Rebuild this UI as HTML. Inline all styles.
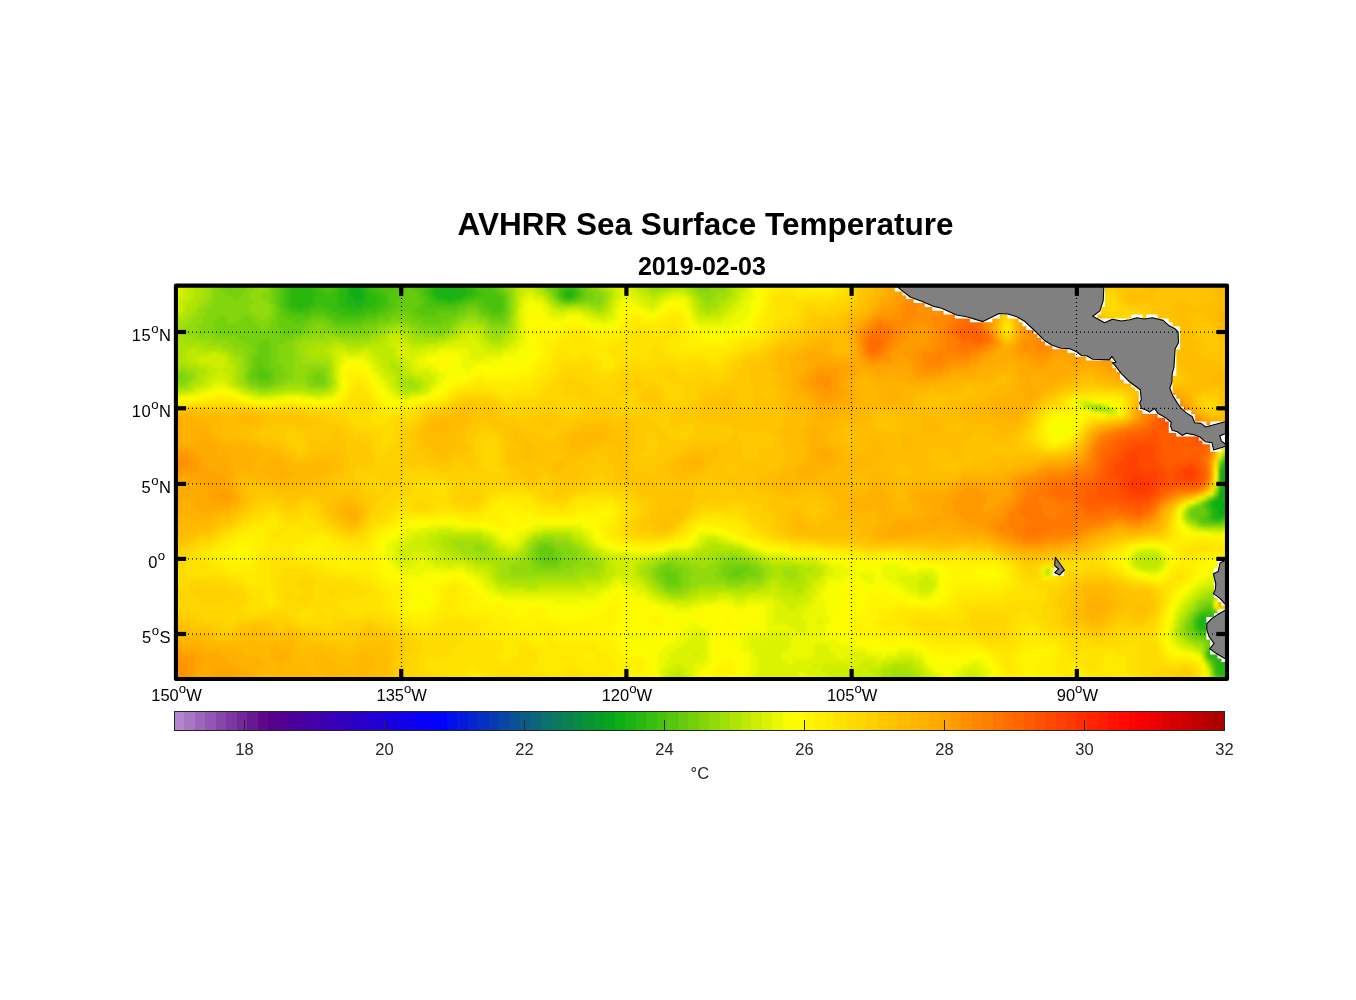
<!DOCTYPE html>
<html lang="en"><head><meta charset="utf-8"><title>AVHRR Sea Surface Temperature 2019-02-03</title>
<style>
html,body{margin:0;padding:0;background:#fff;}
body{width:1356px;height:1000px;overflow:hidden;}
svg{display:block;}
text{font-family:"Liberation Sans",Arial,Helvetica,sans-serif;}
.tt{font-weight:bold;fill:#000;text-anchor:middle;}
.ax{font-size:16.5px;fill:#000;}
.sup{font-size:13.2px;}
.cb{font-size:16.5px;fill:#262626;text-anchor:middle;}
</style></head><body>
<svg width="1356" height="1000" viewBox="0 0 1356 1000">
<defs>
<clipPath id="mapclip"><rect x="176" y="285.6" width="1051" height="393.4"/></clipPath>
<filter id="soft" x="-5%" y="-5%" width="110%" height="110%"><feGaussianBlur stdDeviation="1.5"/></filter>
</defs>
<rect x="0" y="0" width="1356" height="1000" fill="#ffffff"/>
<text class="tt" x="705.6" y="234.8" font-size="31.5">AVHRR Sea Surface Temperature</text>
<text class="tt" x="701.9" y="275" font-size="25">2019-02-03</text>
<g clip-path="url(#mapclip)">
<rect x="176" y="285.6" width="1051" height="393.4" fill="#ffd400"/>
<g filter="url(#soft)">
<path fill="#06a61b" d="M1226 488h4v4h-4zM1226 500h4v4h-4zM1222 504h8v4h-8z"/>
<path fill="#0dad13" d="M350 284h8v4h-8zM442 284h8v4h-8zM350 288h12v4h-12zM350 292h12v4h-12zM354 296h8v4h-8zM1222 464h4v4h-4zM1222 468h8v4h-8zM1222 472h8v4h-8zM1218 476h12v4h-12zM1222 480h8v4h-8zM1222 484h8v4h-8zM1222 488h4v4h-4zM1218 492h12v4h-12zM1218 496h12v4h-12zM1214 500h12v4h-12zM1214 504h8v4h-8zM1218 508h12v4h-12zM1218 512h8v4h-8zM1226 660h4v4h-4zM1226 664h4v4h-4zM1226 668h4v4h-4zM1226 672h4v4h-4z"/>
<path fill="#1cb212" d="M346 284h4v4h-4zM358 284h4v4h-4zM438 284h4v4h-4zM450 284h12v4h-12zM346 288h4v4h-4zM362 288h4v4h-4zM434 288h32v4h-32zM346 292h4v4h-4zM362 292h4v4h-4zM434 292h32v4h-32zM566 292h8v4h-8zM346 296h8v4h-8zM362 296h4v4h-4zM438 296h24v4h-24zM346 300h20v4h-20zM354 304h8v4h-8zM1218 472h4v4h-4zM1218 480h4v4h-4zM1218 484h4v4h-4zM1218 488h4v4h-4zM1210 500h4v4h-4zM1210 504h4v4h-4zM1214 508h4v4h-4zM1214 512h4v4h-4zM1226 512h4v4h-4zM1214 516h8v4h-8zM1202 616h4v4h-4zM1198 620h12v4h-12zM1198 624h8v4h-8zM1226 656h4v4h-4zM1218 664h4v4h-4zM1226 676h4v4h-4z"/>
<path fill="#2bb711" d="M290 284h24v4h-24zM342 284h4v4h-4zM362 284h4v4h-4zM434 284h4v4h-4zM462 284h8v4h-8zM290 288h24v4h-24zM338 288h8v4h-8zM366 288h4v4h-4zM430 288h4v4h-4zM466 288h8v4h-8zM566 288h8v4h-8zM290 292h28v4h-28zM338 292h8v4h-8zM366 292h8v4h-8zM430 292h4v4h-4zM466 292h8v4h-8zM562 292h4v4h-4zM290 296h24v4h-24zM338 296h8v4h-8zM366 296h12v4h-12zM434 296h4v4h-4zM462 296h4v4h-4zM566 296h8v4h-8zM290 300h24v4h-24zM338 300h8v4h-8zM366 300h12v4h-12zM446 300h8v4h-8zM290 304h20v4h-20zM338 304h16v4h-16zM362 304h12v4h-12zM298 308h4v4h-4zM346 308h16v4h-16zM1222 460h4v4h-4zM1226 464h4v4h-4zM1218 468h4v4h-4zM1210 508h4v4h-4zM1210 512h4v4h-4zM1210 516h4v4h-4zM1222 516h4v4h-4zM1198 616h4v4h-4zM1206 616h4v4h-4zM1206 624h4v4h-4zM1198 628h8v4h-8zM1210 648h4v4h-4zM1206 652h12v4h-12zM1226 652h4v4h-4zM1210 656h8v4h-8zM1222 656h4v4h-4zM1214 660h12v4h-12zM1214 664h4v4h-4zM1222 664h4v4h-4zM1214 668h12v4h-12zM1218 672h8v4h-8zM1222 676h4v4h-4zM1226 680h4v4h-4z"/>
<path fill="#39bc10" d="M286 284h4v4h-4zM314 284h4v4h-4zM338 284h4v4h-4zM366 284h4v4h-4zM430 284h4v4h-4zM470 284h4v4h-4zM286 288h4v4h-4zM314 288h8v4h-8zM334 288h4v4h-4zM370 288h8v4h-8zM426 288h4v4h-4zM474 288h4v4h-4zM562 288h4v4h-4zM574 288h4v4h-4zM286 292h4v4h-4zM318 292h8v4h-8zM330 292h8v4h-8zM374 292h8v4h-8zM426 292h4v4h-4zM474 292h8v4h-8zM574 292h4v4h-4zM286 296h4v4h-4zM314 296h24v4h-24zM378 296h8v4h-8zM430 296h4v4h-4zM466 296h8v4h-8zM562 296h4v4h-4zM286 300h4v4h-4zM314 300h24v4h-24zM378 300h8v4h-8zM434 300h12v4h-12zM454 300h8v4h-8zM286 304h4v4h-4zM310 304h8v4h-8zM322 304h16v4h-16zM374 304h8v4h-8zM290 308h8v4h-8zM302 308h8v4h-8zM330 308h16v4h-16zM362 308h16v4h-16zM338 312h28v4h-28zM1214 496h4v4h-4zM1206 504h4v4h-4zM1202 612h12v4h-12zM1210 616h8v4h-8zM1194 620h4v4h-4zM1210 620h4v4h-4zM1194 624h4v4h-4zM1210 624h4v4h-4zM1206 628h4v4h-4zM1226 648h4v4h-4zM1222 652h4v4h-4zM1218 656h4v4h-4zM1214 672h4v4h-4z"/>
<path fill="#48c10f" d="M282 284h4v4h-4zM318 284h8v4h-8zM330 284h8v4h-8zM370 284h12v4h-12zM422 284h8v4h-8zM474 284h12v4h-12zM566 284h8v4h-8zM282 288h4v4h-4zM322 288h12v4h-12zM378 288h16v4h-16zM422 288h4v4h-4zM478 288h16v4h-16zM558 288h4v4h-4zM282 292h4v4h-4zM326 292h4v4h-4zM382 292h8v4h-8zM422 292h4v4h-4zM482 292h16v4h-16zM558 292h4v4h-4zM578 292h4v4h-4zM282 296h4v4h-4zM386 296h4v4h-4zM426 296h4v4h-4zM474 296h28v4h-28zM574 296h4v4h-4zM282 300h4v4h-4zM386 300h4v4h-4zM426 300h8v4h-8zM462 300h8v4h-8zM482 300h20v4h-20zM282 304h4v4h-4zM318 304h4v4h-4zM382 304h8v4h-8zM426 304h32v4h-32zM486 304h16v4h-16zM286 308h4v4h-4zM310 308h20v4h-20zM378 308h8v4h-8zM490 308h12v4h-12zM290 312h20v4h-20zM326 312h12v4h-12zM366 312h12v4h-12zM334 316h32v4h-32zM1226 460h4v4h-4zM1206 500h4v4h-4zM1206 508h4v4h-4zM1206 516h4v4h-4zM1226 516h4v4h-4zM1210 520h12v4h-12zM1206 608h4v4h-4zM1198 612h4v4h-4zM1214 612h4v4h-4zM1194 616h4v4h-4zM1218 616h12v4h-12zM1214 620h16v4h-16zM1214 624h4v4h-4zM1194 628h4v4h-4zM1210 628h4v4h-4zM1198 632h12v4h-12zM1226 644h4v4h-4zM1214 648h4v4h-4zM1222 648h4v4h-4zM1218 652h4v4h-4zM1206 656h4v4h-4zM1210 660h4v4h-4zM1218 676h4v4h-4zM1222 680h4v4h-4z"/>
<path fill="#57c60e" d="M278 284h4v4h-4zM326 284h4v4h-4zM382 284h24v4h-24zM410 284h12v4h-12zM486 284h8v4h-8zM558 284h8v4h-8zM574 284h4v4h-4zM278 288h4v4h-4zM394 288h12v4h-12zM414 288h8v4h-8zM494 288h4v4h-4zM578 288h4v4h-4zM278 292h4v4h-4zM390 292h12v4h-12zM418 292h4v4h-4zM498 292h4v4h-4zM278 296h4v4h-4zM390 296h12v4h-12zM418 296h8v4h-8zM502 296h4v4h-4zM558 296h4v4h-4zM578 296h4v4h-4zM278 300h4v4h-4zM390 300h8v4h-8zM422 300h4v4h-4zM470 300h12v4h-12zM502 300h4v4h-4zM566 300h4v4h-4zM278 304h4v4h-4zM390 304h8v4h-8zM418 304h8v4h-8zM458 304h8v4h-8zM478 304h8v4h-8zM502 304h4v4h-4zM282 308h4v4h-4zM386 308h8v4h-8zM414 308h44v4h-44zM482 308h8v4h-8zM502 308h4v4h-4zM282 312h8v4h-8zM310 312h16v4h-16zM378 312h8v4h-8zM418 312h20v4h-20zM490 312h12v4h-12zM286 316h24v4h-24zM326 316h8v4h-8zM366 316h12v4h-12zM294 320h8v4h-8zM334 320h28v4h-28zM258 364h4v4h-4zM258 368h8v4h-8zM254 372h16v4h-16zM258 376h12v4h-12zM1218 464h4v4h-4zM1202 504h4v4h-4zM1206 512h4v4h-4zM1202 516h4v4h-4zM1202 520h8v4h-8zM1202 608h4v4h-4zM1210 608h4v4h-4zM1222 612h8v4h-8zM1218 624h12v4h-12zM1214 628h16v4h-16zM1210 632h12v4h-12zM1222 640h8v4h-8zM1210 644h8v4h-8zM1222 644h4v4h-4zM1206 648h4v4h-4zM1218 648h4v4h-4z"/>
<path fill="#66cb0c" d="M230 284h4v4h-4zM274 284h4v4h-4zM406 284h4v4h-4zM494 284h4v4h-4zM550 284h8v4h-8zM578 284h4v4h-4zM274 288h4v4h-4zM406 288h8v4h-8zM498 288h4v4h-4zM554 288h4v4h-4zM582 288h4v4h-4zM274 292h4v4h-4zM402 292h16v4h-16zM502 292h4v4h-4zM554 292h4v4h-4zM582 292h4v4h-4zM274 296h4v4h-4zM402 296h16v4h-16zM582 296h4v4h-4zM274 300h4v4h-4zM398 300h24v4h-24zM562 300h4v4h-4zM570 300h8v4h-8zM398 304h20v4h-20zM466 304h12v4h-12zM278 308h4v4h-4zM394 308h20v4h-20zM458 308h8v4h-8zM478 308h4v4h-4zM278 312h4v4h-4zM386 312h12v4h-12zM410 312h8v4h-8zM438 312h20v4h-20zM482 312h8v4h-8zM502 312h4v4h-4zM278 316h8v4h-8zM310 316h16v4h-16zM378 316h12v4h-12zM414 316h36v4h-36zM490 316h16v4h-16zM278 320h16v4h-16zM302 320h8v4h-8zM330 320h4v4h-4zM362 320h16v4h-16zM422 320h20v4h-20zM278 324h28v4h-28zM334 324h28v4h-28zM282 328h20v4h-20zM282 332h8v4h-8zM262 340h8v4h-8zM258 344h12v4h-12zM258 348h12v4h-12zM258 352h12v4h-12zM254 356h16v4h-16zM254 360h16v4h-16zM254 364h4v4h-4zM262 364h8v4h-8zM250 368h8v4h-8zM266 368h8v4h-8zM250 372h4v4h-4zM270 372h4v4h-4zM250 376h8v4h-8zM270 376h4v4h-4zM258 380h16v4h-16zM1222 456h4v4h-4zM1210 496h4v4h-4zM1194 508h12v4h-12zM1190 512h16v4h-16zM1194 516h8v4h-8zM1198 520h4v4h-4zM1222 520h4v4h-4zM542 544h8v4h-8zM538 548h16v4h-16zM538 552h16v4h-16zM538 556h20v4h-20zM542 560h16v4h-16zM666 568h4v4h-4zM734 568h12v4h-12zM662 572h16v4h-16zM730 572h12v4h-12zM666 576h12v4h-12zM666 580h12v4h-12zM1206 604h4v4h-4zM1198 608h4v4h-4zM1194 612h4v4h-4zM1218 612h4v4h-4zM1190 620h4v4h-4zM1190 624h4v4h-4zM1190 628h4v4h-4zM1194 632h4v4h-4zM1222 632h8v4h-8zM1202 636h28v4h-28zM1210 640h12v4h-12zM1218 644h4v4h-4zM1210 664h4v4h-4zM1214 676h4v4h-4zM1218 680h4v4h-4z"/>
<path fill="#74d00b" d="M222 284h8v4h-8zM234 284h12v4h-12zM270 284h4v4h-4zM498 284h4v4h-4zM546 284h4v4h-4zM582 284h4v4h-4zM222 288h24v4h-24zM270 288h4v4h-4zM502 288h4v4h-4zM550 288h4v4h-4zM586 288h4v4h-4zM226 292h16v4h-16zM270 292h4v4h-4zM506 292h4v4h-4zM586 292h8v4h-8zM234 296h4v4h-4zM270 296h4v4h-4zM506 296h4v4h-4zM554 296h4v4h-4zM586 296h8v4h-8zM270 300h4v4h-4zM506 300h4v4h-4zM558 300h4v4h-4zM578 300h4v4h-4zM274 304h4v4h-4zM506 304h4v4h-4zM274 308h4v4h-4zM466 308h12v4h-12zM506 308h4v4h-4zM274 312h4v4h-4zM398 312h12v4h-12zM458 312h8v4h-8zM478 312h4v4h-4zM506 312h4v4h-4zM218 316h8v4h-8zM242 316h8v4h-8zM274 316h4v4h-4zM390 316h12v4h-12zM406 316h8v4h-8zM450 316h8v4h-8zM486 316h4v4h-4zM214 320h12v4h-12zM238 320h16v4h-16zM270 320h8v4h-8zM310 320h20v4h-20zM378 320h12v4h-12zM410 320h12v4h-12zM442 320h12v4h-12zM490 320h16v4h-16zM214 324h44v4h-44zM270 324h8v4h-8zM306 324h8v4h-8zM326 324h8v4h-8zM362 324h16v4h-16zM418 324h32v4h-32zM214 328h48v4h-48zM266 328h16v4h-16zM302 328h8v4h-8zM334 328h32v4h-32zM438 328h4v4h-4zM218 332h64v4h-64zM290 332h12v4h-12zM238 336h56v4h-56zM246 340h16v4h-16zM270 340h16v4h-16zM250 344h8v4h-8zM270 344h8v4h-8zM254 348h4v4h-4zM270 348h8v4h-8zM250 352h8v4h-8zM270 352h8v4h-8zM250 356h4v4h-4zM270 356h8v4h-8zM250 360h4v4h-4zM270 360h8v4h-8zM250 364h4v4h-4zM270 364h12v4h-12zM274 368h8v4h-8zM246 372h4v4h-4zM274 372h12v4h-12zM314 372h8v4h-8zM174 376h8v4h-8zM246 376h4v4h-4zM274 376h8v4h-8zM310 376h16v4h-16zM250 380h8v4h-8zM274 380h4v4h-4zM314 380h12v4h-12zM258 384h12v4h-12zM1226 456h4v4h-4zM1214 492h4v4h-4zM1202 500h4v4h-4zM1198 504h4v4h-4zM1190 508h4v4h-4zM1190 516h4v4h-4zM1226 520h4v4h-4zM538 544h4v4h-4zM550 544h4v4h-4zM534 548h4v4h-4zM554 548h4v4h-4zM534 552h4v4h-4zM554 552h8v4h-8zM534 556h4v4h-4zM558 556h4v4h-4zM534 560h8v4h-8zM558 560h4v4h-4zM538 564h20v4h-20zM662 564h12v4h-12zM726 564h24v4h-24zM658 568h8v4h-8zM670 568h12v4h-12zM722 568h12v4h-12zM746 568h8v4h-8zM658 572h4v4h-4zM678 572h4v4h-4zM722 572h8v4h-8zM742 572h16v4h-16zM658 576h8v4h-8zM678 576h4v4h-4zM726 576h20v4h-20zM662 580h4v4h-4zM678 580h4v4h-4zM666 584h16v4h-16zM1202 604h4v4h-4zM1210 604h4v4h-4zM1226 608h4v4h-4zM1190 616h4v4h-4zM1186 624h4v4h-4zM1186 628h4v4h-4zM1190 632h4v4h-4zM1194 636h8v4h-8zM1206 640h4v4h-4zM1206 644h4v4h-4z"/>
<path fill="#83d50a" d="M214 284h8v4h-8zM246 284h8v4h-8zM266 284h4v4h-4zM502 284h4v4h-4zM542 284h4v4h-4zM586 284h4v4h-4zM694 284h16v4h-16zM214 288h8v4h-8zM246 288h8v4h-8zM266 288h4v4h-4zM506 288h4v4h-4zM546 288h4v4h-4zM590 288h8v4h-8zM698 288h12v4h-12zM214 292h12v4h-12zM242 292h8v4h-8zM262 292h8v4h-8zM550 292h4v4h-4zM594 292h8v4h-8zM214 296h20v4h-20zM238 296h12v4h-12zM262 296h8v4h-8zM594 296h8v4h-8zM214 300h40v4h-40zM266 300h4v4h-4zM582 300h20v4h-20zM210 304h40v4h-40zM270 304h4v4h-4zM206 308h44v4h-44zM270 308h4v4h-4zM206 312h48v4h-48zM270 312h4v4h-4zM466 312h12v4h-12zM202 316h16v4h-16zM226 316h16v4h-16zM250 316h8v4h-8zM266 316h8v4h-8zM402 316h4v4h-4zM458 316h8v4h-8zM478 316h8v4h-8zM506 316h4v4h-4zM202 320h12v4h-12zM226 320h12v4h-12zM254 320h16v4h-16zM390 320h20v4h-20zM454 320h4v4h-4zM486 320h4v4h-4zM506 320h4v4h-4zM198 324h16v4h-16zM258 324h12v4h-12zM314 324h12v4h-12zM378 324h8v4h-8zM410 324h8v4h-8zM450 324h4v4h-4zM490 324h16v4h-16zM198 328h16v4h-16zM262 328h4v4h-4zM310 328h24v4h-24zM366 328h12v4h-12zM418 328h20v4h-20zM442 328h8v4h-8zM198 332h8v4h-8zM210 332h8v4h-8zM302 332h8v4h-8zM334 332h36v4h-36zM434 332h8v4h-8zM214 336h24v4h-24zM294 336h8v4h-8zM230 340h16v4h-16zM286 340h8v4h-8zM234 344h16v4h-16zM278 344h16v4h-16zM242 348h12v4h-12zM278 348h16v4h-16zM246 352h4v4h-4zM278 352h16v4h-16zM246 356h4v4h-4zM278 356h16v4h-16zM246 360h4v4h-4zM278 360h16v4h-16zM246 364h4v4h-4zM282 364h12v4h-12zM246 368h4v4h-4zM282 368h12v4h-12zM310 368h16v4h-16zM174 372h12v4h-12zM286 372h8v4h-8zM306 372h8v4h-8zM322 372h4v4h-4zM182 376h8v4h-8zM282 376h12v4h-12zM306 376h4v4h-4zM174 380h12v4h-12zM246 380h4v4h-4zM278 380h8v4h-8zM306 380h8v4h-8zM250 384h8v4h-8zM270 384h8v4h-8zM310 384h16v4h-16zM1218 460h4v4h-4zM1194 504h4v4h-4zM1186 512h4v4h-4zM1194 520h4v4h-4zM1202 524h20v4h-20zM538 540h16v4h-16zM534 544h4v4h-4zM554 544h16v4h-16zM530 548h4v4h-4zM558 548h16v4h-16zM530 552h4v4h-4zM562 552h16v4h-16zM530 556h4v4h-4zM562 556h16v4h-16zM730 556h8v4h-8zM530 560h4v4h-4zM562 560h16v4h-16zM666 560h12v4h-12zM722 560h28v4h-28zM530 564h8v4h-8zM558 564h16v4h-16zM658 564h4v4h-4zM674 564h12v4h-12zM718 564h8v4h-8zM750 564h8v4h-8zM534 568h28v4h-28zM654 568h4v4h-4zM682 568h8v4h-8zM718 568h4v4h-4zM754 568h8v4h-8zM654 572h4v4h-4zM682 572h12v4h-12zM714 572h8v4h-8zM758 572h4v4h-4zM654 576h4v4h-4zM682 576h8v4h-8zM718 576h8v4h-8zM746 576h16v4h-16zM658 580h4v4h-4zM682 580h8v4h-8zM726 580h20v4h-20zM662 584h4v4h-4zM682 584h8v4h-8zM666 588h16v4h-16zM1202 600h12v4h-12zM1198 604h4v4h-4zM1194 608h4v4h-4zM1190 612h4v4h-4zM1186 620h4v4h-4zM1186 632h4v4h-4zM1190 636h4v4h-4zM1202 640h4v4h-4zM1206 660h4v4h-4zM1210 668h4v4h-4z"/>
<path fill="#92da09" d="M206 284h8v4h-8zM254 284h12v4h-12zM506 284h4v4h-4zM538 284h4v4h-4zM590 284h4v4h-4zM650 284h16v4h-16zM686 284h8v4h-8zM710 284h16v4h-16zM210 288h4v4h-4zM254 288h12v4h-12zM510 288h4v4h-4zM598 288h4v4h-4zM694 288h4v4h-4zM710 288h16v4h-16zM210 292h4v4h-4zM250 292h12v4h-12zM510 292h4v4h-4zM602 292h4v4h-4zM698 292h20v4h-20zM210 296h4v4h-4zM250 296h12v4h-12zM510 296h4v4h-4zM550 296h4v4h-4zM602 296h4v4h-4zM702 296h12v4h-12zM206 300h8v4h-8zM254 300h12v4h-12zM510 300h4v4h-4zM554 300h4v4h-4zM602 300h4v4h-4zM706 300h4v4h-4zM202 304h8v4h-8zM250 304h20v4h-20zM510 304h4v4h-4zM566 304h4v4h-4zM590 304h12v4h-12zM198 308h8v4h-8zM250 308h20v4h-20zM510 308h4v4h-4zM198 312h8v4h-8zM254 312h16v4h-16zM510 312h4v4h-4zM194 316h8v4h-8zM258 316h8v4h-8zM466 316h12v4h-12zM190 320h12v4h-12zM458 320h4v4h-4zM478 320h8v4h-8zM186 324h12v4h-12zM386 324h12v4h-12zM402 324h8v4h-8zM454 324h4v4h-4zM486 324h4v4h-4zM506 324h4v4h-4zM178 328h20v4h-20zM378 328h8v4h-8zM410 328h8v4h-8zM450 328h4v4h-4zM490 328h16v4h-16zM182 332h16v4h-16zM206 332h4v4h-4zM310 332h24v4h-24zM370 332h8v4h-8zM414 332h20v4h-20zM442 332h4v4h-4zM494 332h4v4h-4zM194 336h20v4h-20zM302 336h24v4h-24zM338 336h32v4h-32zM210 340h20v4h-20zM294 340h8v4h-8zM222 344h12v4h-12zM294 344h4v4h-4zM230 348h12v4h-12zM294 348h4v4h-4zM234 352h12v4h-12zM294 352h4v4h-4zM242 356h4v4h-4zM294 356h8v4h-8zM242 360h4v4h-4zM294 360h8v4h-8zM242 364h4v4h-4zM294 364h32v4h-32zM174 368h12v4h-12zM242 368h4v4h-4zM294 368h16v4h-16zM326 368h4v4h-4zM186 372h8v4h-8zM242 372h4v4h-4zM294 372h12v4h-12zM326 372h4v4h-4zM190 376h4v4h-4zM242 376h4v4h-4zM294 376h12v4h-12zM326 376h4v4h-4zM186 380h4v4h-4zM242 380h4v4h-4zM286 380h20v4h-20zM326 380h4v4h-4zM174 384h12v4h-12zM246 384h4v4h-4zM278 384h8v4h-8zM306 384h4v4h-4zM326 384h4v4h-4zM258 388h16v4h-16zM1186 508h4v4h-4zM1186 516h4v4h-4zM1190 520h4v4h-4zM1198 524h4v4h-4zM1222 524h4v4h-4zM542 536h12v4h-12zM534 540h4v4h-4zM554 540h16v4h-16zM474 544h8v4h-8zM530 544h4v4h-4zM570 544h8v4h-8zM474 548h12v4h-12zM574 548h8v4h-8zM526 552h4v4h-4zM578 552h8v4h-8zM730 552h4v4h-4zM526 556h4v4h-4zM578 556h12v4h-12zM718 556h12v4h-12zM738 556h8v4h-8zM518 560h12v4h-12zM578 560h16v4h-16zM658 560h8v4h-8zM678 560h12v4h-12zM714 560h8v4h-8zM750 560h8v4h-8zM510 564h20v4h-20zM574 564h24v4h-24zM654 564h4v4h-4zM686 564h12v4h-12zM706 564h12v4h-12zM758 564h4v4h-4zM510 568h24v4h-24zM562 568h20v4h-20zM650 568h4v4h-4zM690 568h28v4h-28zM762 568h4v4h-4zM510 572h64v4h-64zM650 572h4v4h-4zM694 572h20v4h-20zM762 572h4v4h-4zM650 576h4v4h-4zM690 576h28v4h-28zM762 576h4v4h-4zM654 580h4v4h-4zM690 580h36v4h-36zM746 580h16v4h-16zM658 584h4v4h-4zM690 584h8v4h-8zM726 584h16v4h-16zM662 588h4v4h-4zM682 588h8v4h-8zM670 592h12v4h-12zM1206 596h8v4h-8zM1198 600h4v4h-4zM1194 604h4v4h-4zM1214 608h4v4h-4zM1186 616h4v4h-4zM1182 624h4v4h-4zM1182 628h4v4h-4zM1182 632h4v4h-4zM1186 636h4v4h-4zM1194 640h8v4h-8zM1202 644h4v4h-4zM1202 648h4v4h-4zM1202 652h4v4h-4zM1210 672h4v4h-4zM1214 680h4v4h-4z"/>
<path fill="#a0df08" d="M198 284h8v4h-8zM510 284h4v4h-4zM594 284h4v4h-4zM646 284h4v4h-4zM666 284h20v4h-20zM726 284h4v4h-4zM202 288h8v4h-8zM542 288h4v4h-4zM602 288h4v4h-4zM650 288h12v4h-12zM690 288h4v4h-4zM726 288h4v4h-4zM202 292h8v4h-8zM546 292h4v4h-4zM606 292h4v4h-4zM694 292h4v4h-4zM718 292h12v4h-12zM202 296h8v4h-8zM606 296h4v4h-4zM698 296h4v4h-4zM714 296h12v4h-12zM198 300h8v4h-8zM702 300h4v4h-4zM710 300h8v4h-8zM198 304h4v4h-4zM558 304h8v4h-8zM570 304h20v4h-20zM602 304h4v4h-4zM702 304h16v4h-16zM194 308h4v4h-4zM594 308h8v4h-8zM706 308h4v4h-4zM190 312h8v4h-8zM186 316h8v4h-8zM510 316h4v4h-4zM174 320h16v4h-16zM462 320h16v4h-16zM510 320h4v4h-4zM174 324h12v4h-12zM398 324h4v4h-4zM458 324h4v4h-4zM482 324h4v4h-4zM510 324h4v4h-4zM174 328h4v4h-4zM386 328h8v4h-8zM402 328h8v4h-8zM454 328h4v4h-4zM486 328h4v4h-4zM506 328h4v4h-4zM174 332h8v4h-8zM378 332h8v4h-8zM410 332h4v4h-4zM446 332h8v4h-8zM486 332h8v4h-8zM498 332h8v4h-8zM174 336h20v4h-20zM326 336h12v4h-12zM370 336h8v4h-8zM414 336h32v4h-32zM490 336h12v4h-12zM182 340h28v4h-28zM302 340h28v4h-28zM342 340h28v4h-28zM202 344h20v4h-20zM298 344h16v4h-16zM174 348h4v4h-4zM222 348h8v4h-8zM298 348h8v4h-8zM174 352h4v4h-4zM230 352h4v4h-4zM298 352h8v4h-8zM174 356h4v4h-4zM234 356h8v4h-8zM302 356h12v4h-12zM318 356h4v4h-4zM238 360h4v4h-4zM302 360h28v4h-28zM174 364h12v4h-12zM238 364h4v4h-4zM326 364h4v4h-4zM186 368h12v4h-12zM238 368h4v4h-4zM194 372h4v4h-4zM238 372h4v4h-4zM194 376h4v4h-4zM238 376h4v4h-4zM330 376h4v4h-4zM190 380h4v4h-4zM238 380h4v4h-4zM330 380h4v4h-4zM402 380h12v4h-12zM186 384h4v4h-4zM242 384h4v4h-4zM286 384h20v4h-20zM402 384h16v4h-16zM250 388h8v4h-8zM274 388h8v4h-8zM306 388h20v4h-20zM1086 404h16v4h-16zM1094 408h16v4h-16zM1222 452h8v4h-8zM1214 488h4v4h-4zM1206 496h4v4h-4zM1190 504h4v4h-4zM1226 524h4v4h-4zM534 536h8v4h-8zM554 536h16v4h-16zM450 540h32v4h-32zM530 540h4v4h-4zM570 540h4v4h-4zM454 544h20v4h-20zM482 544h8v4h-8zM526 544h4v4h-4zM578 544h4v4h-4zM458 548h16v4h-16zM486 548h4v4h-4zM526 548h4v4h-4zM582 548h4v4h-4zM462 552h32v4h-32zM522 552h4v4h-4zM586 552h4v4h-4zM710 552h20v4h-20zM734 552h8v4h-8zM474 556h24v4h-24zM514 556h12v4h-12zM590 556h8v4h-8zM666 556h16v4h-16zM694 556h24v4h-24zM746 556h8v4h-8zM498 560h20v4h-20zM594 560h8v4h-8zM654 560h4v4h-4zM690 560h24v4h-24zM758 560h4v4h-4zM498 564h12v4h-12zM598 564h4v4h-4zM646 564h8v4h-8zM698 564h8v4h-8zM762 564h8v4h-8zM498 568h12v4h-12zM582 568h20v4h-20zM642 568h8v4h-8zM766 568h8v4h-8zM782 568h16v4h-16zM498 572h12v4h-12zM574 572h24v4h-24zM642 572h8v4h-8zM766 572h8v4h-8zM782 572h16v4h-16zM502 576h76v4h-76zM646 576h4v4h-4zM766 576h4v4h-4zM786 576h12v4h-12zM530 580h4v4h-4zM650 580h4v4h-4zM762 580h4v4h-4zM654 584h4v4h-4zM698 584h28v4h-28zM742 584h20v4h-20zM658 588h4v4h-4zM690 588h8v4h-8zM666 592h4v4h-4zM682 592h8v4h-8zM1206 592h12v4h-12zM1202 596h4v4h-4zM1226 596h4v4h-4zM1194 600h4v4h-4zM1226 604h4v4h-4zM1190 608h4v4h-4zM1186 612h4v4h-4zM1182 616h4v4h-4zM1182 620h4v4h-4zM1178 628h4v4h-4zM1190 640h4v4h-4zM1198 644h4v4h-4zM894 668h4v4h-4zM890 672h20v4h-20zM890 676h24v4h-24zM890 680h24v4h-24z"/>
<path fill="#afe406" d="M190 284h8v4h-8zM514 284h4v4h-4zM534 284h4v4h-4zM598 284h4v4h-4zM642 284h4v4h-4zM730 284h4v4h-4zM194 288h8v4h-8zM514 288h4v4h-4zM538 288h4v4h-4zM606 288h4v4h-4zM646 288h4v4h-4zM662 288h8v4h-8zM686 288h4v4h-4zM730 288h4v4h-4zM194 292h8v4h-8zM514 292h4v4h-4zM542 292h4v4h-4zM610 292h4v4h-4zM650 292h8v4h-8zM690 292h4v4h-4zM730 292h4v4h-4zM194 296h8v4h-8zM514 296h4v4h-4zM546 296h4v4h-4zM694 296h4v4h-4zM726 296h4v4h-4zM190 300h8v4h-8zM514 300h4v4h-4zM550 300h4v4h-4zM606 300h4v4h-4zM698 300h4v4h-4zM718 300h8v4h-8zM186 304h12v4h-12zM514 304h4v4h-4zM554 304h4v4h-4zM606 304h4v4h-4zM698 304h4v4h-4zM718 304h4v4h-4zM186 308h8v4h-8zM514 308h4v4h-4zM590 308h4v4h-4zM602 308h4v4h-4zM698 308h8v4h-8zM710 308h8v4h-8zM182 312h8v4h-8zM706 312h4v4h-4zM174 316h12v4h-12zM462 324h20v4h-20zM394 328h8v4h-8zM458 328h4v4h-4zM482 328h4v4h-4zM510 328h4v4h-4zM386 332h4v4h-4zM402 332h8v4h-8zM454 332h4v4h-4zM482 332h4v4h-4zM506 332h4v4h-4zM378 336h8v4h-8zM406 336h8v4h-8zM446 336h4v4h-4zM486 336h4v4h-4zM502 336h4v4h-4zM174 340h8v4h-8zM330 340h12v4h-12zM370 340h12v4h-12zM410 340h28v4h-28zM490 340h12v4h-12zM174 344h28v4h-28zM314 344h16v4h-16zM346 344h20v4h-20zM178 348h12v4h-12zM198 348h24v4h-24zM306 348h20v4h-20zM178 352h8v4h-8zM226 352h4v4h-4zM306 352h24v4h-24zM178 356h8v4h-8zM230 356h4v4h-4zM314 356h4v4h-4zM322 356h8v4h-8zM174 360h16v4h-16zM230 360h8v4h-8zM330 360h4v4h-4zM390 360h4v4h-4zM186 364h12v4h-12zM234 364h4v4h-4zM330 364h4v4h-4zM390 364h8v4h-8zM198 368h8v4h-8zM234 368h4v4h-4zM330 368h4v4h-4zM394 368h8v4h-8zM198 372h8v4h-8zM234 372h4v4h-4zM330 372h4v4h-4zM398 372h4v4h-4zM198 376h4v4h-4zM234 376h4v4h-4zM398 376h16v4h-16zM194 380h8v4h-8zM234 380h4v4h-4zM398 380h4v4h-4zM414 380h8v4h-8zM190 384h4v4h-4zM238 384h4v4h-4zM330 384h4v4h-4zM398 384h4v4h-4zM418 384h4v4h-4zM174 388h16v4h-16zM246 388h4v4h-4zM282 388h24v4h-24zM326 388h4v4h-4zM402 388h16v4h-16zM258 392h12v4h-12zM1198 500h4v4h-4zM1186 520h4v4h-4zM1194 524h4v4h-4zM542 532h28v4h-28zM442 536h40v4h-40zM530 536h4v4h-4zM570 536h4v4h-4zM438 540h12v4h-12zM482 540h8v4h-8zM526 540h4v4h-4zM574 540h8v4h-8zM442 544h12v4h-12zM490 544h4v4h-4zM582 544h4v4h-4zM710 544h12v4h-12zM446 548h12v4h-12zM490 548h8v4h-8zM522 548h4v4h-4zM586 548h4v4h-4zM702 548h40v4h-40zM450 552h12v4h-12zM494 552h8v4h-8zM514 552h8v4h-8zM590 552h8v4h-8zM674 552h4v4h-4zM694 552h16v4h-16zM742 552h8v4h-8zM462 556h12v4h-12zM498 556h16v4h-16zM598 556h4v4h-4zM658 556h8v4h-8zM682 556h12v4h-12zM754 556h8v4h-8zM474 560h24v4h-24zM602 560h4v4h-4zM642 560h12v4h-12zM762 560h8v4h-8zM490 564h8v4h-8zM602 564h4v4h-4zM638 564h8v4h-8zM770 564h32v4h-32zM494 568h4v4h-4zM602 568h4v4h-4zM638 568h4v4h-4zM774 568h8v4h-8zM798 568h16v4h-16zM1046 568h4v4h-4zM494 572h4v4h-4zM598 572h8v4h-8zM638 572h4v4h-4zM774 572h8v4h-8zM798 572h8v4h-8zM1046 572h4v4h-4zM494 576h8v4h-8zM578 576h24v4h-24zM642 576h4v4h-4zM770 576h16v4h-16zM798 576h8v4h-8zM498 580h32v4h-32zM534 580h48v4h-48zM646 580h4v4h-4zM766 580h4v4h-4zM778 580h28v4h-28zM510 584h28v4h-28zM650 584h4v4h-4zM762 584h4v4h-4zM782 584h20v4h-20zM654 588h4v4h-4zM698 588h60v4h-60zM794 588h8v4h-8zM1210 588h8v4h-8zM662 592h4v4h-4zM690 592h8v4h-8zM1202 592h4v4h-4zM1218 592h12v4h-12zM670 596h16v4h-16zM1198 596h4v4h-4zM1214 596h4v4h-4zM1226 600h4v4h-4zM1190 604h4v4h-4zM1186 608h4v4h-4zM1178 620h4v4h-4zM1178 624h4v4h-4zM1178 632h4v4h-4zM1182 636h4v4h-4zM1186 640h4v4h-4zM1194 644h4v4h-4zM1202 656h4v4h-4zM890 664h20v4h-20zM882 668h12v4h-12zM898 668h16v4h-16zM882 672h8v4h-8zM910 672h8v4h-8zM882 676h8v4h-8zM914 676h8v4h-8zM1210 676h4v4h-4zM886 680h4v4h-4zM914 680h8v4h-8z"/>
<path fill="#bee905" d="M186 284h4v4h-4zM518 284h4v4h-4zM526 284h8v4h-8zM602 284h4v4h-4zM634 284h8v4h-8zM734 284h8v4h-8zM186 288h8v4h-8zM518 288h4v4h-4zM534 288h4v4h-4zM610 288h4v4h-4zM638 288h8v4h-8zM670 288h16v4h-16zM734 288h8v4h-8zM186 292h8v4h-8zM518 292h4v4h-4zM538 292h4v4h-4zM642 292h8v4h-8zM658 292h8v4h-8zM686 292h4v4h-4zM734 292h4v4h-4zM186 296h8v4h-8zM610 296h4v4h-4zM650 296h8v4h-8zM730 296h8v4h-8zM182 300h8v4h-8zM546 300h4v4h-4zM610 300h4v4h-4zM694 300h4v4h-4zM726 300h8v4h-8zM182 304h4v4h-4zM550 304h4v4h-4zM694 304h4v4h-4zM722 304h8v4h-8zM182 308h4v4h-4zM558 308h8v4h-8zM582 308h8v4h-8zM606 308h4v4h-4zM718 308h8v4h-8zM174 312h8v4h-8zM514 312h4v4h-4zM594 312h12v4h-12zM698 312h8v4h-8zM710 312h12v4h-12zM514 316h4v4h-4zM514 320h4v4h-4zM514 324h4v4h-4zM462 328h20v4h-20zM514 328h4v4h-4zM390 332h12v4h-12zM458 332h8v4h-8zM478 332h4v4h-4zM510 332h4v4h-4zM386 336h4v4h-4zM402 336h4v4h-4zM450 336h8v4h-8zM482 336h4v4h-4zM506 336h8v4h-8zM382 340h8v4h-8zM406 340h4v4h-4zM438 340h8v4h-8zM486 340h4v4h-4zM502 340h8v4h-8zM330 344h16v4h-16zM366 344h24v4h-24zM410 344h16v4h-16zM490 344h16v4h-16zM190 348h8v4h-8zM326 348h8v4h-8zM346 348h16v4h-16zM370 348h24v4h-24zM186 352h24v4h-24zM218 352h8v4h-8zM330 352h4v4h-4zM374 352h20v4h-20zM186 356h12v4h-12zM226 356h4v4h-4zM330 356h4v4h-4zM378 356h20v4h-20zM190 360h8v4h-8zM226 360h4v4h-4zM382 360h8v4h-8zM394 360h8v4h-8zM198 364h12v4h-12zM226 364h8v4h-8zM382 364h8v4h-8zM398 364h8v4h-8zM206 368h12v4h-12zM222 368h12v4h-12zM386 368h8v4h-8zM402 368h8v4h-8zM206 372h8v4h-8zM226 372h8v4h-8zM390 372h8v4h-8zM402 372h12v4h-12zM202 376h8v4h-8zM230 376h4v4h-4zM394 376h4v4h-4zM414 376h8v4h-8zM202 380h4v4h-4zM230 380h4v4h-4zM334 380h4v4h-4zM394 380h4v4h-4zM422 380h4v4h-4zM194 384h8v4h-8zM234 384h4v4h-4zM394 384h4v4h-4zM422 384h4v4h-4zM190 388h4v4h-4zM242 388h4v4h-4zM330 388h4v4h-4zM398 388h4v4h-4zM418 388h4v4h-4zM254 392h4v4h-4zM270 392h12v4h-12zM306 392h20v4h-20zM402 392h8v4h-8zM1082 404h4v4h-4zM1110 408h4v4h-4zM1182 512h4v4h-4zM1182 516h4v4h-4zM1190 524h4v4h-4zM1206 528h16v4h-16zM438 532h44v4h-44zM534 532h8v4h-8zM570 532h4v4h-4zM430 536h12v4h-12zM482 536h8v4h-8zM574 536h8v4h-8zM426 540h12v4h-12zM490 540h4v4h-4zM582 540h4v4h-4zM706 540h12v4h-12zM430 544h12v4h-12zM494 544h4v4h-4zM522 544h4v4h-4zM586 544h4v4h-4zM702 544h8v4h-8zM722 544h12v4h-12zM434 548h12v4h-12zM498 548h8v4h-8zM518 548h4v4h-4zM590 548h4v4h-4zM694 548h8v4h-8zM742 548h4v4h-4zM438 552h12v4h-12zM502 552h12v4h-12zM598 552h4v4h-4zM666 552h8v4h-8zM678 552h16v4h-16zM750 552h8v4h-8zM1138 552h20v4h-20zM442 556h20v4h-20zM602 556h8v4h-8zM650 556h8v4h-8zM762 556h4v4h-4zM1134 556h24v4h-24zM466 560h8v4h-8zM606 560h4v4h-4zM638 560h4v4h-4zM770 560h24v4h-24zM1134 560h28v4h-28zM474 564h16v4h-16zM606 564h8v4h-8zM634 564h4v4h-4zM802 564h16v4h-16zM1138 564h20v4h-20zM486 568h8v4h-8zM606 568h8v4h-8zM634 568h4v4h-4zM814 568h8v4h-8zM490 572h4v4h-4zM606 572h8v4h-8zM634 572h4v4h-4zM806 572h16v4h-16zM490 576h4v4h-4zM602 576h8v4h-8zM638 576h4v4h-4zM806 576h12v4h-12zM494 580h4v4h-4zM582 580h20v4h-20zM642 580h4v4h-4zM770 580h8v4h-8zM806 580h4v4h-4zM498 584h12v4h-12zM538 584h48v4h-48zM646 584h4v4h-4zM766 584h16v4h-16zM802 584h8v4h-8zM526 588h12v4h-12zM650 588h4v4h-4zM758 588h12v4h-12zM778 588h16v4h-16zM802 588h4v4h-4zM1202 588h8v4h-8zM1218 588h8v4h-8zM654 592h8v4h-8zM698 592h20v4h-20zM730 592h20v4h-20zM778 592h28v4h-28zM1198 592h4v4h-4zM662 596h8v4h-8zM686 596h12v4h-12zM794 596h4v4h-4zM1194 596h4v4h-4zM1190 600h4v4h-4zM1186 604h4v4h-4zM1182 608h4v4h-4zM1182 612h4v4h-4zM1178 616h4v4h-4zM1174 628h4v4h-4zM1174 632h4v4h-4zM1178 636h4v4h-4zM1182 640h4v4h-4zM1190 644h4v4h-4zM1198 648h4v4h-4zM894 660h20v4h-20zM882 664h8v4h-8zM910 664h8v4h-8zM1206 664h4v4h-4zM870 668h12v4h-12zM914 668h8v4h-8zM674 672h8v4h-8zM874 672h8v4h-8zM918 672h4v4h-4zM670 676h16v4h-16zM846 676h12v4h-12zM878 676h4v4h-4zM922 676h4v4h-4zM666 680h20v4h-20zM846 680h12v4h-12zM882 680h4v4h-4zM922 680h4v4h-4z"/>
<path fill="#cdee04" d="M182 284h4v4h-4zM522 284h4v4h-4zM606 284h8v4h-8zM630 284h4v4h-4zM742 284h4v4h-4zM182 288h4v4h-4zM522 288h12v4h-12zM614 288h4v4h-4zM634 288h4v4h-4zM742 288h4v4h-4zM182 292h4v4h-4zM522 292h4v4h-4zM534 292h4v4h-4zM614 292h4v4h-4zM638 292h4v4h-4zM666 292h8v4h-8zM682 292h4v4h-4zM738 292h4v4h-4zM174 296h12v4h-12zM518 296h4v4h-4zM542 296h4v4h-4zM614 296h4v4h-4zM642 296h8v4h-8zM658 296h4v4h-4zM690 296h4v4h-4zM738 296h4v4h-4zM174 300h8v4h-8zM518 300h4v4h-4zM646 300h12v4h-12zM690 300h4v4h-4zM734 300h4v4h-4zM174 304h8v4h-8zM518 304h4v4h-4zM610 304h4v4h-4zM650 304h4v4h-4zM730 304h4v4h-4zM174 308h8v4h-8zM554 308h4v4h-4zM566 308h16v4h-16zM610 308h4v4h-4zM694 308h4v4h-4zM726 308h4v4h-4zM586 312h8v4h-8zM606 312h4v4h-4zM694 312h4v4h-4zM722 312h4v4h-4zM598 316h8v4h-8zM698 316h24v4h-24zM466 332h12v4h-12zM514 332h4v4h-4zM390 336h12v4h-12zM458 336h8v4h-8zM474 336h8v4h-8zM514 336h4v4h-4zM390 340h16v4h-16zM446 340h8v4h-8zM478 340h8v4h-8zM510 340h4v4h-4zM390 344h8v4h-8zM402 344h8v4h-8zM426 344h16v4h-16zM482 344h8v4h-8zM506 344h4v4h-4zM334 348h12v4h-12zM362 348h8v4h-8zM394 348h4v4h-4zM406 348h16v4h-16zM486 348h16v4h-16zM210 352h8v4h-8zM334 352h8v4h-8zM350 352h8v4h-8zM370 352h4v4h-4zM394 352h4v4h-4zM410 352h4v4h-4zM198 356h28v4h-28zM334 356h4v4h-4zM374 356h4v4h-4zM398 356h8v4h-8zM198 360h28v4h-28zM334 360h4v4h-4zM374 360h8v4h-8zM402 360h8v4h-8zM210 364h16v4h-16zM334 364h4v4h-4zM378 364h4v4h-4zM406 364h4v4h-4zM218 368h4v4h-4zM334 368h4v4h-4zM382 368h4v4h-4zM410 368h4v4h-4zM214 372h12v4h-12zM334 372h4v4h-4zM382 372h8v4h-8zM414 372h16v4h-16zM210 376h20v4h-20zM334 376h4v4h-4zM386 376h8v4h-8zM422 376h12v4h-12zM206 380h8v4h-8zM226 380h4v4h-4zM390 380h4v4h-4zM426 380h8v4h-8zM202 384h8v4h-8zM230 384h4v4h-4zM334 384h4v4h-4zM390 384h4v4h-4zM426 384h4v4h-4zM194 388h4v4h-4zM238 388h4v4h-4zM334 388h4v4h-4zM394 388h4v4h-4zM422 388h8v4h-8zM174 392h12v4h-12zM246 392h8v4h-8zM282 392h24v4h-24zM326 392h8v4h-8zM398 392h4v4h-4zM410 392h12v4h-12zM1082 400h4v4h-4zM1102 404h4v4h-4zM1090 408h4v4h-4zM1110 412h4v4h-4zM1218 456h4v4h-4zM1214 484h4v4h-4zM1186 504h4v4h-4zM1182 508h4v4h-4zM438 528h16v4h-16zM542 528h32v4h-32zM1198 528h8v4h-8zM1222 528h8v4h-8zM426 532h12v4h-12zM482 532h4v4h-4zM530 532h4v4h-4zM574 532h8v4h-8zM414 536h16v4h-16zM490 536h4v4h-4zM526 536h4v4h-4zM582 536h4v4h-4zM706 536h12v4h-12zM410 540h16v4h-16zM494 540h4v4h-4zM522 540h4v4h-4zM586 540h4v4h-4zM702 540h4v4h-4zM718 540h8v4h-8zM406 544h24v4h-24zM498 544h8v4h-8zM518 544h4v4h-4zM590 544h4v4h-4zM698 544h4v4h-4zM734 544h8v4h-8zM398 548h36v4h-36zM506 548h12v4h-12zM594 548h8v4h-8zM690 548h4v4h-4zM746 548h4v4h-4zM398 552h16v4h-16zM426 552h12v4h-12zM602 552h8v4h-8zM662 552h4v4h-4zM758 552h4v4h-4zM1134 552h4v4h-4zM1158 552h4v4h-4zM402 556h8v4h-8zM430 556h12v4h-12zM610 556h16v4h-16zM634 556h16v4h-16zM766 556h20v4h-20zM1158 556h4v4h-4zM434 560h32v4h-32zM610 560h28v4h-28zM794 560h24v4h-24zM446 564h4v4h-4zM466 564h8v4h-8zM614 564h20v4h-20zM818 564h8v4h-8zM1134 564h4v4h-4zM1158 564h4v4h-4zM474 568h12v4h-12zM614 568h20v4h-20zM822 568h4v4h-4zM1142 568h16v4h-16zM482 572h8v4h-8zM614 572h20v4h-20zM822 572h4v4h-4zM486 576h4v4h-4zM610 576h4v4h-4zM630 576h8v4h-8zM818 576h4v4h-4zM922 576h8v4h-8zM490 580h4v4h-4zM602 580h8v4h-8zM634 580h8v4h-8zM810 580h8v4h-8zM918 580h16v4h-16zM494 584h4v4h-4zM586 584h20v4h-20zM642 584h4v4h-4zM810 584h4v4h-4zM918 584h16v4h-16zM1206 584h16v4h-16zM498 588h28v4h-28zM538 588h48v4h-48zM646 588h4v4h-4zM770 588h8v4h-8zM806 588h8v4h-8zM918 588h12v4h-12zM1198 588h4v4h-4zM1226 588h4v4h-4zM650 592h4v4h-4zM718 592h12v4h-12zM750 592h28v4h-28zM806 592h4v4h-4zM1194 592h4v4h-4zM658 596h4v4h-4zM698 596h20v4h-20zM734 596h12v4h-12zM774 596h20v4h-20zM798 596h12v4h-12zM1190 596h4v4h-4zM666 600h28v4h-28zM782 600h24v4h-24zM1186 600h4v4h-4zM786 604h12v4h-12zM1182 604h4v4h-4zM790 608h4v4h-4zM1178 612h4v4h-4zM1174 620h4v4h-4zM1174 624h4v4h-4zM1174 636h4v4h-4zM1178 640h4v4h-4zM1182 644h8v4h-8zM1194 648h4v4h-4zM694 652h4v4h-4zM898 656h16v4h-16zM862 660h12v4h-12zM882 660h12v4h-12zM914 660h8v4h-8zM674 664h8v4h-8zM814 664h4v4h-4zM822 664h28v4h-28zM858 664h24v4h-24zM918 664h4v4h-4zM670 668h16v4h-16zM822 668h48v4h-48zM922 668h4v4h-4zM666 672h8v4h-8zM682 672h4v4h-4zM826 672h48v4h-48zM922 672h8v4h-8zM966 672h12v4h-12zM666 676h4v4h-4zM686 676h4v4h-4zM830 676h16v4h-16zM858 676h20v4h-20zM926 676h8v4h-8zM966 676h12v4h-12zM662 680h4v4h-4zM686 680h4v4h-4zM762 680h12v4h-12zM782 680h12v4h-12zM834 680h12v4h-12zM858 680h12v4h-12zM874 680h8v4h-8zM926 680h8v4h-8zM970 680h8v4h-8zM1210 680h4v4h-4z"/>
<path fill="#dbf303" d="M174 284h8v4h-8zM614 284h16v4h-16zM746 284h4v4h-4zM174 288h8v4h-8zM618 288h16v4h-16zM746 288h4v4h-4zM174 292h8v4h-8zM526 292h8v4h-8zM618 292h4v4h-4zM630 292h8v4h-8zM674 292h8v4h-8zM742 292h8v4h-8zM522 296h4v4h-4zM534 296h8v4h-8zM618 296h4v4h-4zM634 296h8v4h-8zM662 296h8v4h-8zM686 296h4v4h-4zM742 296h4v4h-4zM542 300h4v4h-4zM614 300h4v4h-4zM638 300h8v4h-8zM658 300h4v4h-4zM738 300h4v4h-4zM546 304h4v4h-4zM614 304h4v4h-4zM642 304h8v4h-8zM654 304h4v4h-4zM690 304h4v4h-4zM734 304h8v4h-8zM518 308h4v4h-4zM550 308h4v4h-4zM650 308h4v4h-4zM690 308h4v4h-4zM730 308h8v4h-8zM518 312h4v4h-4zM550 312h16v4h-16zM582 312h4v4h-4zM610 312h4v4h-4zM726 312h8v4h-8zM518 316h4v4h-4zM590 316h8v4h-8zM606 316h8v4h-8zM694 316h4v4h-4zM722 316h8v4h-8zM518 320h4v4h-4zM602 320h4v4h-4zM698 320h24v4h-24zM518 324h4v4h-4zM518 328h4v4h-4zM518 332h4v4h-4zM466 336h8v4h-8zM518 336h4v4h-4zM454 340h24v4h-24zM514 340h4v4h-4zM398 344h4v4h-4zM442 344h40v4h-40zM510 344h8v4h-8zM398 348h8v4h-8zM422 348h16v4h-16zM470 348h16v4h-16zM502 348h8v4h-8zM342 352h8v4h-8zM358 352h12v4h-12zM398 352h12v4h-12zM414 352h12v4h-12zM470 352h32v4h-32zM338 356h4v4h-4zM366 356h8v4h-8zM406 356h12v4h-12zM470 356h12v4h-12zM338 360h4v4h-4zM370 360h4v4h-4zM410 360h4v4h-4zM374 364h4v4h-4zM410 364h8v4h-8zM374 368h8v4h-8zM414 368h16v4h-16zM378 372h4v4h-4zM430 372h8v4h-8zM382 376h4v4h-4zM434 376h4v4h-4zM214 380h12v4h-12zM386 380h4v4h-4zM434 380h4v4h-4zM210 384h4v4h-4zM226 384h4v4h-4zM386 384h4v4h-4zM430 384h4v4h-4zM198 388h8v4h-8zM234 388h4v4h-4zM390 388h4v4h-4zM186 392h8v4h-8zM242 392h4v4h-4zM394 392h4v4h-4zM422 392h4v4h-4zM254 396h20v4h-20zM314 396h8v4h-8zM402 396h8v4h-8zM1078 400h4v4h-4zM1086 400h4v4h-4zM1106 404h4v4h-4zM1114 408h4v4h-4zM1106 412h4v4h-4zM1114 412h4v4h-4zM1226 448h4v4h-4zM1210 492h4v4h-4zM1202 496h4v4h-4zM1194 500h4v4h-4zM1182 520h4v4h-4zM1186 524h4v4h-4zM422 528h16v4h-16zM454 528h28v4h-28zM534 528h8v4h-8zM574 528h8v4h-8zM1194 528h4v4h-4zM410 532h16v4h-16zM486 532h8v4h-8zM526 532h4v4h-4zM582 532h4v4h-4zM406 536h8v4h-8zM494 536h4v4h-4zM522 536h4v4h-4zM586 536h4v4h-4zM698 536h8v4h-8zM718 536h4v4h-4zM398 540h12v4h-12zM498 540h4v4h-4zM518 540h4v4h-4zM590 540h4v4h-4zM698 540h4v4h-4zM726 540h8v4h-8zM394 544h12v4h-12zM506 544h12v4h-12zM594 544h4v4h-4zM694 544h4v4h-4zM742 544h4v4h-4zM394 548h4v4h-4zM602 548h4v4h-4zM670 548h20v4h-20zM750 548h8v4h-8zM1138 548h20v4h-20zM394 552h4v4h-4zM414 552h12v4h-12zM610 552h20v4h-20zM650 552h12v4h-12zM762 552h4v4h-4zM394 556h8v4h-8zM410 556h20v4h-20zM626 556h8v4h-8zM786 556h28v4h-28zM1130 556h4v4h-4zM1162 556h4v4h-4zM394 560h24v4h-24zM426 560h8v4h-8zM818 560h4v4h-4zM1130 560h4v4h-4zM1162 560h4v4h-4zM398 564h16v4h-16zM434 564h12v4h-12zM450 564h16v4h-16zM826 564h4v4h-4zM1130 564h4v4h-4zM1162 564h4v4h-4zM466 568h8v4h-8zM826 568h8v4h-8zM1138 568h4v4h-4zM1158 568h4v4h-4zM474 572h8v4h-8zM826 572h8v4h-8zM918 572h16v4h-16zM1042 572h4v4h-4zM482 576h4v4h-4zM614 576h16v4h-16zM822 576h4v4h-4zM898 576h24v4h-24zM930 576h8v4h-8zM486 580h4v4h-4zM610 580h4v4h-4zM622 580h12v4h-12zM818 580h8v4h-8zM902 580h16v4h-16zM934 580h4v4h-4zM1206 580h16v4h-16zM486 584h8v4h-8zM606 584h4v4h-4zM630 584h12v4h-12zM814 584h8v4h-8zM906 584h12v4h-12zM934 584h4v4h-4zM1198 584h8v4h-8zM1222 584h8v4h-8zM494 588h4v4h-4zM586 588h16v4h-16zM638 588h8v4h-8zM814 588h4v4h-4zM910 588h8v4h-8zM930 588h4v4h-4zM1194 588h4v4h-4zM502 592h92v4h-92zM646 592h4v4h-4zM810 592h8v4h-8zM918 592h12v4h-12zM1190 592h4v4h-4zM650 596h8v4h-8zM718 596h16v4h-16zM746 596h28v4h-28zM810 596h4v4h-4zM1186 596h4v4h-4zM1222 596h4v4h-4zM658 600h8v4h-8zM694 600h20v4h-20zM734 600h12v4h-12zM774 600h8v4h-8zM806 600h8v4h-8zM1182 600h4v4h-4zM674 604h16v4h-16zM774 604h12v4h-12zM798 604h12v4h-12zM1178 604h4v4h-4zM774 608h16v4h-16zM794 608h12v4h-12zM1178 608h4v4h-4zM1222 608h4v4h-4zM774 612h28v4h-28zM1174 612h4v4h-4zM774 616h28v4h-28zM1174 616h4v4h-4zM774 620h32v4h-32zM818 620h4v4h-4zM790 624h16v4h-16zM794 628h12v4h-12zM1170 628h4v4h-4zM694 632h12v4h-12zM770 632h20v4h-20zM1170 632h4v4h-4zM690 636h16v4h-16zM750 636h40v4h-40zM1170 636h4v4h-4zM686 640h20v4h-20zM750 640h40v4h-40zM1174 640h4v4h-4zM682 644h24v4h-24zM750 644h40v4h-40zM814 644h16v4h-16zM1178 644h4v4h-4zM674 648h32v4h-32zM754 648h32v4h-32zM814 648h16v4h-16zM1186 648h8v4h-8zM670 652h24v4h-24zM698 652h8v4h-8zM754 652h28v4h-28zM814 652h20v4h-20zM850 652h16v4h-16zM898 652h16v4h-16zM1198 652h4v4h-4zM670 656h36v4h-36zM758 656h24v4h-24zM810 656h28v4h-28zM846 656h32v4h-32zM886 656h12v4h-12zM914 656h8v4h-8zM666 660h36v4h-36zM758 660h28v4h-28zM794 660h68v4h-68zM874 660h8v4h-8zM1202 660h4v4h-4zM666 664h8v4h-8zM682 664h12v4h-12zM758 664h56v4h-56zM818 664h4v4h-4zM850 664h8v4h-8zM922 664h4v4h-4zM970 664h8v4h-8zM662 668h8v4h-8zM686 668h8v4h-8zM758 668h64v4h-64zM926 668h4v4h-4zM962 668h20v4h-20zM1206 668h4v4h-4zM662 672h4v4h-4zM686 672h8v4h-8zM758 672h40v4h-40zM806 672h20v4h-20zM930 672h4v4h-4zM958 672h8v4h-8zM978 672h8v4h-8zM662 676h4v4h-4zM690 676h4v4h-4zM754 676h44v4h-44zM818 676h12v4h-12zM934 676h4v4h-4zM958 676h8v4h-8zM978 676h8v4h-8zM658 680h4v4h-4zM690 680h4v4h-4zM750 680h12v4h-12zM774 680h8v4h-8zM794 680h8v4h-8zM822 680h12v4h-12zM870 680h4v4h-4zM934 680h4v4h-4zM962 680h8v4h-8zM978 680h8v4h-8z"/>
<path fill="#eaf802" d="M750 284h4v4h-4zM750 288h4v4h-4zM622 292h8v4h-8zM750 292h4v4h-4zM526 296h8v4h-8zM622 296h12v4h-12zM670 296h16v4h-16zM746 296h8v4h-8zM522 300h8v4h-8zM534 300h8v4h-8zM618 300h4v4h-4zM630 300h8v4h-8zM662 300h4v4h-4zM686 300h4v4h-4zM742 300h8v4h-8zM522 304h4v4h-4zM542 304h4v4h-4zM618 304h4v4h-4zM638 304h4v4h-4zM658 304h4v4h-4zM686 304h4v4h-4zM742 304h8v4h-8zM522 308h4v4h-4zM542 308h8v4h-8zM614 308h4v4h-4zM646 308h4v4h-4zM654 308h4v4h-4zM738 308h12v4h-12zM522 312h4v4h-4zM546 312h4v4h-4zM566 312h16v4h-16zM614 312h4v4h-4zM690 312h4v4h-4zM734 312h16v4h-16zM522 316h4v4h-4zM550 316h16v4h-16zM582 316h8v4h-8zM614 316h4v4h-4zM690 316h4v4h-4zM730 316h16v4h-16zM522 320h4v4h-4zM590 320h12v4h-12zM606 320h8v4h-8zM694 320h4v4h-4zM722 320h20v4h-20zM522 324h4v4h-4zM698 324h32v4h-32zM522 328h4v4h-4zM706 328h4v4h-4zM522 332h4v4h-4zM522 336h4v4h-4zM518 340h8v4h-8zM518 344h4v4h-4zM438 348h32v4h-32zM510 348h8v4h-8zM426 352h12v4h-12zM458 352h12v4h-12zM502 352h12v4h-12zM342 356h24v4h-24zM418 356h8v4h-8zM462 356h8v4h-8zM482 356h20v4h-20zM342 360h4v4h-4zM366 360h4v4h-4zM414 360h12v4h-12zM462 360h28v4h-28zM338 364h4v4h-4zM370 364h4v4h-4zM418 364h16v4h-16zM462 364h12v4h-12zM338 368h4v4h-4zM370 368h4v4h-4zM430 368h8v4h-8zM466 368h4v4h-4zM338 372h4v4h-4zM374 372h4v4h-4zM438 372h8v4h-8zM338 376h4v4h-4zM378 376h4v4h-4zM438 376h8v4h-8zM338 380h4v4h-4zM378 380h8v4h-8zM438 380h4v4h-4zM214 384h12v4h-12zM338 384h4v4h-4zM382 384h4v4h-4zM434 384h4v4h-4zM206 388h8v4h-8zM230 388h4v4h-4zM338 388h4v4h-4zM386 388h4v4h-4zM430 388h4v4h-4zM194 392h8v4h-8zM238 392h4v4h-4zM334 392h4v4h-4zM390 392h4v4h-4zM426 392h4v4h-4zM250 396h4v4h-4zM274 396h12v4h-12zM302 396h12v4h-12zM322 396h12v4h-12zM394 396h8v4h-8zM410 396h8v4h-8zM1074 400h4v4h-4zM1090 400h4v4h-4zM1078 404h4v4h-4zM1086 408h4v4h-4zM1102 412h4v4h-4zM1222 448h4v4h-4zM1214 480h4v4h-4zM430 524h28v4h-28zM534 524h48v4h-48zM406 528h16v4h-16zM482 528h8v4h-8zM526 528h8v4h-8zM582 528h8v4h-8zM1190 528h4v4h-4zM402 532h8v4h-8zM494 532h4v4h-4zM518 532h8v4h-8zM586 532h8v4h-8zM698 532h20v4h-20zM1210 532h12v4h-12zM398 536h8v4h-8zM498 536h4v4h-4zM514 536h8v4h-8zM590 536h4v4h-4zM722 536h8v4h-8zM390 540h8v4h-8zM502 540h16v4h-16zM594 540h4v4h-4zM694 540h4v4h-4zM734 540h8v4h-8zM386 544h8v4h-8zM598 544h4v4h-4zM690 544h4v4h-4zM746 544h4v4h-4zM386 548h8v4h-8zM606 548h8v4h-8zM666 548h4v4h-4zM758 548h4v4h-4zM1134 548h4v4h-4zM1158 548h4v4h-4zM386 552h8v4h-8zM630 552h20v4h-20zM766 552h20v4h-20zM1130 552h4v4h-4zM1162 552h4v4h-4zM390 556h4v4h-4zM814 556h8v4h-8zM1166 556h4v4h-4zM390 560h4v4h-4zM418 560h8v4h-8zM822 560h8v4h-8zM1126 560h4v4h-4zM1166 560h4v4h-4zM394 564h4v4h-4zM414 564h20v4h-20zM830 564h12v4h-12zM882 564h16v4h-16zM398 568h68v4h-68zM834 568h16v4h-16zM882 568h28v4h-28zM918 568h16v4h-16zM1042 568h4v4h-4zM1134 568h4v4h-4zM402 572h20v4h-20zM466 572h8v4h-8zM834 572h16v4h-16zM858 572h16v4h-16zM882 572h36v4h-36zM934 572h4v4h-4zM1146 572h12v4h-12zM474 576h8v4h-8zM826 576h16v4h-16zM862 576h12v4h-12zM886 576h12v4h-12zM1206 576h16v4h-16zM478 580h8v4h-8zM614 580h8v4h-8zM826 580h4v4h-4zM866 580h8v4h-8zM890 580h12v4h-12zM1198 580h8v4h-8zM1222 580h8v4h-8zM482 584h4v4h-4zM610 584h8v4h-8zM622 584h8v4h-8zM822 584h4v4h-4zM898 584h8v4h-8zM1194 584h4v4h-4zM486 588h8v4h-8zM602 588h8v4h-8zM630 588h8v4h-8zM818 588h8v4h-8zM902 588h8v4h-8zM934 588h4v4h-4zM1190 588h4v4h-4zM490 592h12v4h-12zM594 592h8v4h-8zM634 592h12v4h-12zM818 592h4v4h-4zM906 592h12v4h-12zM930 592h4v4h-4zM1186 592h4v4h-4zM502 596h96v4h-96zM646 596h4v4h-4zM814 596h8v4h-8zM918 596h12v4h-12zM1182 596h4v4h-4zM554 600h24v4h-24zM650 600h8v4h-8zM714 600h20v4h-20zM746 600h28v4h-28zM814 600h12v4h-12zM1178 600h4v4h-4zM662 604h12v4h-12zM690 604h12v4h-12zM734 604h12v4h-12zM766 604h8v4h-8zM810 604h16v4h-16zM674 608h16v4h-16zM766 608h8v4h-8zM806 608h20v4h-20zM1174 608h4v4h-4zM766 612h8v4h-8zM802 612h24v4h-24zM766 616h8v4h-8zM802 616h28v4h-28zM766 620h8v4h-8zM806 620h12v4h-12zM822 620h8v4h-8zM1170 620h4v4h-4zM690 624h8v4h-8zM766 624h24v4h-24zM806 624h20v4h-20zM1170 624h4v4h-4zM686 628h20v4h-20zM766 628h28v4h-28zM806 628h20v4h-20zM682 632h12v4h-12zM706 632h4v4h-4zM746 632h24v4h-24zM790 632h36v4h-36zM678 636h12v4h-12zM706 636h4v4h-4zM742 636h8v4h-8zM790 636h36v4h-36zM674 640h12v4h-12zM706 640h4v4h-4zM742 640h8v4h-8zM790 640h48v4h-48zM1170 640h4v4h-4zM666 644h16v4h-16zM706 644h4v4h-4zM742 644h8v4h-8zM790 644h24v4h-24zM830 644h24v4h-24zM1174 644h4v4h-4zM662 648h12v4h-12zM706 648h4v4h-4zM742 648h12v4h-12zM786 648h28v4h-28zM830 648h36v4h-36zM898 648h16v4h-16zM1178 648h8v4h-8zM658 652h12v4h-12zM706 652h4v4h-4zM750 652h4v4h-4zM782 652h32v4h-32zM834 652h16v4h-16zM866 652h16v4h-16zM886 652h12v4h-12zM914 652h8v4h-8zM1194 652h4v4h-4zM658 656h12v4h-12zM706 656h4v4h-4zM750 656h8v4h-8zM782 656h28v4h-28zM838 656h8v4h-8zM878 656h8v4h-8zM922 656h4v4h-4zM658 660h8v4h-8zM702 660h8v4h-8zM750 660h8v4h-8zM786 660h8v4h-8zM922 660h4v4h-4zM970 660h12v4h-12zM658 664h8v4h-8zM694 664h12v4h-12zM750 664h8v4h-8zM926 664h4v4h-4zM962 664h8v4h-8zM978 664h8v4h-8zM658 668h4v4h-4zM694 668h8v4h-8zM750 668h8v4h-8zM930 668h4v4h-4zM954 668h8v4h-8zM982 668h8v4h-8zM658 672h4v4h-4zM694 672h4v4h-4zM750 672h8v4h-8zM798 672h8v4h-8zM934 672h8v4h-8zM954 672h4v4h-4zM986 672h4v4h-4zM1206 672h4v4h-4zM658 676h4v4h-4zM694 676h4v4h-4zM746 676h8v4h-8zM798 676h20v4h-20zM938 676h4v4h-4zM954 676h4v4h-4zM986 676h4v4h-4zM654 680h4v4h-4zM694 680h4v4h-4zM742 680h8v4h-8zM802 680h4v4h-4zM814 680h8v4h-8zM938 680h4v4h-4zM958 680h4v4h-4zM986 680h4v4h-4z"/>
<path fill="#f9fd01" d="M754 284h4v4h-4zM754 288h4v4h-4zM754 292h4v4h-4zM754 296h4v4h-4zM530 300h4v4h-4zM622 300h8v4h-8zM666 300h20v4h-20zM750 300h8v4h-8zM526 304h16v4h-16zM622 304h16v4h-16zM662 304h4v4h-4zM682 304h4v4h-4zM750 304h4v4h-4zM526 308h16v4h-16zM618 308h4v4h-4zM642 308h4v4h-4zM658 308h4v4h-4zM686 308h4v4h-4zM750 308h4v4h-4zM526 312h20v4h-20zM618 312h4v4h-4zM646 312h12v4h-12zM686 312h4v4h-4zM750 312h4v4h-4zM526 316h4v4h-4zM538 316h12v4h-12zM566 316h16v4h-16zM618 316h4v4h-4zM746 316h4v4h-4zM526 320h4v4h-4zM546 320h16v4h-16zM582 320h8v4h-8zM614 320h4v4h-4zM690 320h4v4h-4zM742 320h8v4h-8zM526 324h4v4h-4zM594 324h20v4h-20zM694 324h4v4h-4zM730 324h20v4h-20zM526 328h4v4h-4zM698 328h8v4h-8zM710 328h36v4h-36zM526 332h4v4h-4zM702 332h20v4h-20zM526 336h4v4h-4zM526 340h4v4h-4zM522 344h8v4h-8zM518 348h16v4h-16zM438 352h20v4h-20zM514 352h20v4h-20zM426 356h16v4h-16zM446 356h16v4h-16zM502 356h24v4h-24zM346 360h20v4h-20zM426 360h12v4h-12zM454 360h8v4h-8zM490 360h32v4h-32zM342 364h4v4h-4zM362 364h8v4h-8zM434 364h8v4h-8zM450 364h12v4h-12zM474 364h24v4h-24zM514 364h4v4h-4zM342 368h4v4h-4zM366 368h4v4h-4zM438 368h28v4h-28zM470 368h8v4h-8zM370 372h4v4h-4zM446 372h28v4h-28zM374 376h4v4h-4zM446 376h16v4h-16zM374 380h4v4h-4zM442 380h12v4h-12zM378 384h4v4h-4zM438 384h8v4h-8zM214 388h16v4h-16zM378 388h8v4h-8zM434 388h8v4h-8zM202 392h8v4h-8zM234 392h4v4h-4zM338 392h4v4h-4zM382 392h8v4h-8zM430 392h4v4h-4zM174 396h16v4h-16zM242 396h8v4h-8zM286 396h16v4h-16zM334 396h4v4h-4zM386 396h8v4h-8zM418 396h8v4h-8zM398 400h8v4h-8zM1094 400h4v4h-4zM1110 404h4v4h-4zM1098 412h4v4h-4zM1118 412h4v4h-4zM1058 420h16v4h-16zM1050 424h24v4h-24zM1050 428h20v4h-20zM1054 432h12v4h-12zM1054 436h4v4h-4zM1214 476h4v4h-4zM1190 500h4v4h-4zM1178 512h4v4h-4zM1178 516h4v4h-4zM442 520h8v4h-8zM534 520h16v4h-16zM578 520h4v4h-4zM406 524h24v4h-24zM458 524h28v4h-28zM530 524h4v4h-4zM582 524h8v4h-8zM1182 524h4v4h-4zM402 528h4v4h-4zM490 528h8v4h-8zM514 528h12v4h-12zM590 528h4v4h-4zM702 528h8v4h-8zM1186 528h4v4h-4zM394 532h8v4h-8zM498 532h4v4h-4zM510 532h8v4h-8zM594 532h4v4h-4zM718 532h8v4h-8zM1202 532h8v4h-8zM1222 532h8v4h-8zM386 536h12v4h-12zM502 536h12v4h-12zM594 536h4v4h-4zM694 536h4v4h-4zM730 536h4v4h-4zM382 540h8v4h-8zM598 540h4v4h-4zM690 540h4v4h-4zM742 540h4v4h-4zM382 544h4v4h-4zM602 544h8v4h-8zM670 544h20v4h-20zM750 544h8v4h-8zM1146 544h12v4h-12zM382 548h4v4h-4zM614 548h24v4h-24zM654 548h12v4h-12zM762 548h8v4h-8zM1130 548h4v4h-4zM1162 548h4v4h-4zM382 552h4v4h-4zM786 552h8v4h-8zM802 552h12v4h-12zM1126 552h4v4h-4zM1166 552h4v4h-4zM382 556h8v4h-8zM822 556h4v4h-4zM1126 556h4v4h-4zM386 560h4v4h-4zM830 560h20v4h-20zM882 560h20v4h-20zM386 564h8v4h-8zM842 564h40v4h-40zM898 564h12v4h-12zM922 564h4v4h-4zM1126 564h4v4h-4zM1166 564h4v4h-4zM390 568h8v4h-8zM850 568h32v4h-32zM910 568h8v4h-8zM934 568h8v4h-8zM1130 568h4v4h-4zM1162 568h4v4h-4zM1210 568h8v4h-8zM394 572h8v4h-8zM422 572h32v4h-32zM458 572h8v4h-8zM850 572h8v4h-8zM874 572h8v4h-8zM938 572h4v4h-4zM1050 572h4v4h-4zM1138 572h8v4h-8zM1158 572h4v4h-4zM1202 572h20v4h-20zM402 576h28v4h-28zM466 576h8v4h-8zM842 576h20v4h-20zM874 576h12v4h-12zM938 576h4v4h-4zM1198 576h8v4h-8zM1222 576h8v4h-8zM418 580h8v4h-8zM474 580h4v4h-4zM830 580h16v4h-16zM854 580h12v4h-12zM874 580h16v4h-16zM938 580h4v4h-4zM1194 580h4v4h-4zM478 584h4v4h-4zM618 584h4v4h-4zM826 584h16v4h-16zM858 584h40v4h-40zM938 584h4v4h-4zM1190 584h4v4h-4zM482 588h4v4h-4zM610 588h20v4h-20zM826 588h16v4h-16zM862 588h12v4h-12zM894 588h8v4h-8zM938 588h4v4h-4zM1186 588h4v4h-4zM418 592h8v4h-8zM486 592h4v4h-4zM602 592h8v4h-8zM626 592h8v4h-8zM822 592h24v4h-24zM898 592h8v4h-8zM934 592h8v4h-8zM1182 592h4v4h-4zM418 596h8v4h-8zM490 596h12v4h-12zM598 596h8v4h-8zM626 596h20v4h-20zM822 596h20v4h-20zM910 596h8v4h-8zM930 596h8v4h-8zM1178 596h4v4h-4zM1218 596h4v4h-4zM418 600h8v4h-8zM506 600h48v4h-48zM578 600h24v4h-24zM642 600h8v4h-8zM826 600h16v4h-16zM1174 600h4v4h-4zM1214 600h4v4h-4zM550 604h48v4h-48zM646 604h16v4h-16zM702 604h32v4h-32zM746 604h20v4h-20zM826 604h12v4h-12zM1174 604h4v4h-4zM1214 604h4v4h-4zM550 608h44v4h-44zM662 608h12v4h-12zM690 608h12v4h-12zM734 608h12v4h-12zM758 608h8v4h-8zM826 608h12v4h-12zM554 612h4v4h-4zM670 612h24v4h-24zM758 612h8v4h-8zM826 612h12v4h-12zM1170 612h4v4h-4zM670 616h24v4h-24zM754 616h12v4h-12zM830 616h4v4h-4zM1170 616h4v4h-4zM674 620h28v4h-28zM742 620h24v4h-24zM830 620h4v4h-4zM674 624h16v4h-16zM698 624h12v4h-12zM742 624h24v4h-24zM826 624h8v4h-8zM622 628h8v4h-8zM638 628h12v4h-12zM674 628h12v4h-12zM706 628h8v4h-8zM738 628h28v4h-28zM826 628h8v4h-8zM1166 628h4v4h-4zM626 632h28v4h-28zM674 632h8v4h-8zM710 632h8v4h-8zM726 632h20v4h-20zM826 632h20v4h-20zM1166 632h4v4h-4zM630 636h24v4h-24zM670 636h8v4h-8zM710 636h8v4h-8zM726 636h16v4h-16zM826 636h24v4h-24zM1166 636h4v4h-4zM630 640h24v4h-24zM662 640h12v4h-12zM710 640h4v4h-4zM730 640h12v4h-12zM838 640h16v4h-16zM1166 640h4v4h-4zM634 644h20v4h-20zM658 644h8v4h-8zM710 644h4v4h-4zM734 644h8v4h-8zM854 644h16v4h-16zM898 644h12v4h-12zM1170 644h4v4h-4zM650 648h12v4h-12zM710 648h4v4h-4zM734 648h8v4h-8zM866 648h32v4h-32zM914 648h8v4h-8zM1174 648h4v4h-4zM650 652h8v4h-8zM710 652h4v4h-4zM738 652h12v4h-12zM882 652h4v4h-4zM922 652h4v4h-4zM1186 652h8v4h-8zM650 656h8v4h-8zM710 656h4v4h-4zM742 656h8v4h-8zM926 656h4v4h-4zM966 656h20v4h-20zM1198 656h4v4h-4zM654 660h4v4h-4zM710 660h4v4h-4zM746 660h4v4h-4zM926 660h8v4h-8zM962 660h8v4h-8zM982 660h8v4h-8zM654 664h4v4h-4zM706 664h4v4h-4zM746 664h4v4h-4zM930 664h32v4h-32zM986 664h4v4h-4zM654 668h4v4h-4zM702 668h8v4h-8zM746 668h4v4h-4zM934 668h20v4h-20zM990 668h4v4h-4zM654 672h4v4h-4zM698 672h8v4h-8zM742 672h8v4h-8zM942 672h12v4h-12zM990 672h4v4h-4zM654 676h4v4h-4zM698 676h8v4h-8zM738 676h8v4h-8zM942 676h12v4h-12zM990 676h4v4h-4zM1206 676h4v4h-4zM650 680h4v4h-4zM698 680h12v4h-12zM738 680h4v4h-4zM806 680h8v4h-8zM942 680h16v4h-16zM990 680h4v4h-4zM1206 680h4v4h-4z"/>
<path fill="#fffb00" d="M758 284h8v4h-8zM758 288h4v4h-4zM758 292h4v4h-4zM758 296h4v4h-4zM758 300h4v4h-4zM666 304h16v4h-16zM754 304h8v4h-8zM622 308h20v4h-20zM662 308h4v4h-4zM682 308h4v4h-4zM754 308h4v4h-4zM622 312h4v4h-4zM642 312h4v4h-4zM658 312h4v4h-4zM754 312h4v4h-4zM530 316h8v4h-8zM646 316h8v4h-8zM686 316h4v4h-4zM750 316h4v4h-4zM530 320h16v4h-16zM562 320h20v4h-20zM618 320h4v4h-4zM686 320h4v4h-4zM750 320h4v4h-4zM530 324h32v4h-32zM586 324h8v4h-8zM614 324h4v4h-4zM690 324h4v4h-4zM750 324h4v4h-4zM530 328h4v4h-4zM542 328h12v4h-12zM602 328h4v4h-4zM690 328h8v4h-8zM746 328h4v4h-4zM530 332h4v4h-4zM698 332h4v4h-4zM722 332h20v4h-20zM530 336h8v4h-8zM702 336h24v4h-24zM530 340h8v4h-8zM530 344h8v4h-8zM534 348h4v4h-4zM534 352h4v4h-4zM442 356h4v4h-4zM526 356h12v4h-12zM438 360h16v4h-16zM522 360h12v4h-12zM346 364h16v4h-16zM442 364h8v4h-8zM498 364h16v4h-16zM518 364h12v4h-12zM346 368h4v4h-4zM362 368h4v4h-4zM478 368h48v4h-48zM342 372h4v4h-4zM366 372h4v4h-4zM474 372h4v4h-4zM486 372h20v4h-20zM510 372h4v4h-4zM342 376h4v4h-4zM370 376h4v4h-4zM462 376h8v4h-8zM494 376h4v4h-4zM342 380h4v4h-4zM370 380h4v4h-4zM454 380h8v4h-8zM342 384h4v4h-4zM374 384h4v4h-4zM446 384h8v4h-8zM342 388h4v4h-4zM374 388h4v4h-4zM442 388h4v4h-4zM210 392h8v4h-8zM226 392h8v4h-8zM378 392h4v4h-4zM434 392h8v4h-8zM190 396h12v4h-12zM238 396h4v4h-4zM382 396h4v4h-4zM426 396h4v4h-4zM254 400h20v4h-20zM306 400h28v4h-28zM386 400h12v4h-12zM406 400h8v4h-8zM1070 400h4v4h-4zM1098 400h16v4h-16zM1074 404h4v4h-4zM1114 404h4v4h-4zM1078 408h8v4h-8zM1118 408h4v4h-4zM1074 412h8v4h-8zM1054 416h28v4h-28zM1050 420h8v4h-8zM1074 420h4v4h-4zM1046 424h4v4h-4zM1074 424h4v4h-4zM1046 428h4v4h-4zM1070 428h4v4h-4zM1050 432h4v4h-4zM1066 432h4v4h-4zM1050 436h4v4h-4zM1058 436h8v4h-8zM1054 440h4v4h-4zM1182 504h4v4h-4zM1178 508h4v4h-4zM602 512h4v4h-4zM510 516h4v4h-4zM578 516h8v4h-8zM410 520h32v4h-32zM450 520h8v4h-8zM510 520h8v4h-8zM526 520h8v4h-8zM550 520h28v4h-28zM582 520h16v4h-16zM1178 520h4v4h-4zM398 524h8v4h-8zM486 524h8v4h-8zM510 524h20v4h-20zM590 524h8v4h-8zM1178 524h4v4h-4zM394 528h8v4h-8zM498 528h16v4h-16zM594 528h4v4h-4zM698 528h4v4h-4zM710 528h12v4h-12zM1182 528h4v4h-4zM386 532h8v4h-8zM502 532h8v4h-8zM598 532h4v4h-4zM694 532h4v4h-4zM726 532h8v4h-8zM1186 532h16v4h-16zM382 536h4v4h-4zM598 536h4v4h-4zM690 536h4v4h-4zM734 536h8v4h-8zM378 540h4v4h-4zM602 540h4v4h-4zM682 540h8v4h-8zM746 540h4v4h-4zM378 544h4v4h-4zM610 544h8v4h-8zM666 544h4v4h-4zM758 544h4v4h-4zM1138 544h8v4h-8zM1158 544h4v4h-4zM234 548h8v4h-8zM378 548h4v4h-4zM638 548h16v4h-16zM770 548h12v4h-12zM1166 548h4v4h-4zM234 552h12v4h-12zM378 552h4v4h-4zM794 552h8v4h-8zM814 552h8v4h-8zM1170 552h4v4h-4zM234 556h12v4h-12zM378 556h4v4h-4zM826 556h28v4h-28zM882 556h16v4h-16zM1122 556h4v4h-4zM1170 556h4v4h-4zM378 560h8v4h-8zM850 560h32v4h-32zM902 560h8v4h-8zM1122 560h4v4h-4zM1170 560h4v4h-4zM1206 560h12v4h-12zM382 564h4v4h-4zM910 564h12v4h-12zM926 564h16v4h-16zM1122 564h4v4h-4zM1202 564h20v4h-20zM382 568h8v4h-8zM942 568h8v4h-8zM974 568h24v4h-24zM1050 568h4v4h-4zM1126 568h4v4h-4zM1166 568h4v4h-4zM1198 568h12v4h-12zM1218 568h4v4h-4zM386 572h8v4h-8zM454 572h4v4h-4zM942 572h8v4h-8zM974 572h28v4h-28zM1134 572h4v4h-4zM1162 572h4v4h-4zM1198 572h4v4h-4zM1222 572h8v4h-8zM390 576h12v4h-12zM430 576h20v4h-20zM458 576h8v4h-8zM942 576h8v4h-8zM982 576h16v4h-16zM1150 576h12v4h-12zM1194 576h4v4h-4zM398 580h20v4h-20zM426 580h16v4h-16zM466 580h8v4h-8zM846 580h8v4h-8zM942 580h4v4h-4zM406 584h28v4h-28zM470 584h8v4h-8zM842 584h16v4h-16zM942 584h4v4h-4zM1186 584h4v4h-4zM410 588h24v4h-24zM474 588h8v4h-8zM842 588h20v4h-20zM874 588h20v4h-20zM942 588h4v4h-4zM1182 588h4v4h-4zM410 592h8v4h-8zM426 592h8v4h-8zM478 592h8v4h-8zM610 592h16v4h-16zM846 592h28v4h-28zM890 592h8v4h-8zM942 592h4v4h-4zM1178 592h4v4h-4zM410 596h8v4h-8zM426 596h8v4h-8zM482 596h8v4h-8zM606 596h8v4h-8zM618 596h8v4h-8zM842 596h28v4h-28zM894 596h16v4h-16zM938 596h4v4h-4zM1174 596h4v4h-4zM406 600h12v4h-12zM426 600h8v4h-8zM486 600h20v4h-20zM602 600h8v4h-8zM618 600h24v4h-24zM842 600h24v4h-24zM910 600h28v4h-28zM406 604h24v4h-24zM506 604h44v4h-44zM598 604h8v4h-8zM618 604h28v4h-28zM838 604h28v4h-28zM1170 604h4v4h-4zM406 608h20v4h-20zM514 608h16v4h-16zM546 608h4v4h-4zM594 608h8v4h-8zM618 608h44v4h-44zM702 608h32v4h-32zM746 608h12v4h-12zM838 608h28v4h-28zM1170 608h4v4h-4zM1218 608h4v4h-4zM514 612h8v4h-8zM546 612h8v4h-8zM558 612h40v4h-40zM618 612h52v4h-52zM694 612h64v4h-64zM838 612h16v4h-16zM546 616h44v4h-44zM618 616h32v4h-32zM662 616h8v4h-8zM694 616h32v4h-32zM730 616h24v4h-24zM834 616h16v4h-16zM618 620h32v4h-32zM662 620h12v4h-12zM702 620h40v4h-40zM834 620h16v4h-16zM1166 620h4v4h-4zM614 624h40v4h-40zM662 624h12v4h-12zM710 624h32v4h-32zM834 624h16v4h-16zM1166 624h4v4h-4zM614 628h8v4h-8zM630 628h8v4h-8zM650 628h24v4h-24zM714 628h24v4h-24zM834 628h16v4h-16zM614 632h12v4h-12zM654 632h20v4h-20zM718 632h8v4h-8zM846 632h8v4h-8zM618 636h12v4h-12zM654 636h16v4h-16zM718 636h8v4h-8zM850 636h8v4h-8zM618 640h12v4h-12zM654 640h8v4h-8zM714 640h16v4h-16zM854 640h28v4h-28zM898 640h12v4h-12zM622 644h12v4h-12zM654 644h4v4h-4zM714 644h20v4h-20zM870 644h28v4h-28zM910 644h12v4h-12zM1166 644h4v4h-4zM626 648h24v4h-24zM714 648h20v4h-20zM922 648h4v4h-4zM1170 648h4v4h-4zM630 652h20v4h-20zM714 652h24v4h-24zM926 652h4v4h-4zM966 652h20v4h-20zM1174 652h12v4h-12zM646 656h4v4h-4zM714 656h28v4h-28zM930 656h36v4h-36zM986 656h4v4h-4zM1194 656h4v4h-4zM650 660h4v4h-4zM714 660h8v4h-8zM730 660h16v4h-16zM934 660h28v4h-28zM990 660h4v4h-4zM650 664h4v4h-4zM710 664h8v4h-8zM734 664h12v4h-12zM990 664h8v4h-8zM1202 664h4v4h-4zM650 668h4v4h-4zM710 668h4v4h-4zM738 668h8v4h-8zM994 668h4v4h-4zM650 672h4v4h-4zM706 672h8v4h-8zM734 672h8v4h-8zM994 672h4v4h-4zM646 676h8v4h-8zM706 676h12v4h-12zM726 676h12v4h-12zM994 676h4v4h-4zM642 680h8v4h-8zM710 680h28v4h-28zM994 680h4v4h-4zM1202 680h4v4h-4z"/>
<path fill="#fff500" d="M766 284h4v4h-4zM814 284h16v4h-16zM762 288h8v4h-8zM762 292h4v4h-4zM762 296h4v4h-4zM762 300h4v4h-4zM762 304h4v4h-4zM666 308h16v4h-16zM758 308h4v4h-4zM626 312h16v4h-16zM662 312h4v4h-4zM682 312h4v4h-4zM758 312h4v4h-4zM622 316h8v4h-8zM642 316h4v4h-4zM654 316h4v4h-4zM682 316h4v4h-4zM754 316h4v4h-4zM622 320h4v4h-4zM754 320h4v4h-4zM562 324h24v4h-24zM618 324h4v4h-4zM686 324h4v4h-4zM534 328h8v4h-8zM554 328h12v4h-12zM586 328h16v4h-16zM606 328h12v4h-12zM686 328h4v4h-4zM750 328h4v4h-4zM534 332h24v4h-24zM690 332h8v4h-8zM742 332h8v4h-8zM538 336h16v4h-16zM694 336h8v4h-8zM726 336h12v4h-12zM538 340h8v4h-8zM702 340h24v4h-24zM538 344h8v4h-8zM538 348h8v4h-8zM538 352h8v4h-8zM538 356h4v4h-4zM534 360h4v4h-4zM530 364h4v4h-4zM350 368h12v4h-12zM526 368h8v4h-8zM346 372h20v4h-20zM478 372h8v4h-8zM506 372h4v4h-4zM514 372h16v4h-16zM346 376h4v4h-4zM366 376h4v4h-4zM470 376h8v4h-8zM482 376h12v4h-12zM498 376h20v4h-20zM346 380h4v4h-4zM462 380h8v4h-8zM346 384h4v4h-4zM370 384h4v4h-4zM454 384h4v4h-4zM446 388h4v4h-4zM218 392h8v4h-8zM342 392h4v4h-4zM374 392h4v4h-4zM442 392h4v4h-4zM202 396h8v4h-8zM234 396h4v4h-4zM338 396h4v4h-4zM378 396h4v4h-4zM430 396h8v4h-8zM174 400h12v4h-12zM246 400h8v4h-8zM274 400h16v4h-16zM294 400h12v4h-12zM334 400h4v4h-4zM382 400h4v4h-4zM414 400h8v4h-8zM1114 400h8v4h-8zM386 404h20v4h-20zM1070 404h4v4h-4zM1118 404h4v4h-4zM1070 408h8v4h-8zM1058 412h16v4h-16zM1082 412h16v4h-16zM1046 416h8v4h-8zM1082 416h4v4h-4zM1046 420h4v4h-4zM1078 420h4v4h-4zM1074 428h4v4h-4zM1046 432h4v4h-4zM1070 432h4v4h-4zM1046 436h4v4h-4zM1066 436h4v4h-4zM1050 440h4v4h-4zM1058 440h8v4h-8zM1226 444h4v4h-4zM1218 452h4v4h-4zM1214 472h4v4h-4zM506 508h12v4h-12zM598 508h16v4h-16zM502 512h32v4h-32zM578 512h24v4h-24zM606 512h8v4h-8zM438 516h16v4h-16zM502 516h8v4h-8zM514 516h64v4h-64zM586 516h24v4h-24zM398 520h12v4h-12zM458 520h40v4h-40zM502 520h8v4h-8zM518 520h8v4h-8zM598 520h8v4h-8zM394 524h4v4h-4zM494 524h16v4h-16zM598 524h4v4h-4zM698 524h16v4h-16zM386 528h8v4h-8zM598 528h4v4h-4zM694 528h4v4h-4zM722 528h8v4h-8zM1178 528h4v4h-4zM378 532h8v4h-8zM602 532h4v4h-4zM690 532h4v4h-4zM734 532h4v4h-4zM1178 532h8v4h-8zM246 536h8v4h-8zM378 536h4v4h-4zM602 536h4v4h-4zM686 536h4v4h-4zM742 536h4v4h-4zM1182 536h12v4h-12zM1206 536h24v4h-24zM238 540h16v4h-16zM374 540h4v4h-4zM606 540h8v4h-8zM674 540h8v4h-8zM750 540h8v4h-8zM230 544h24v4h-24zM314 544h8v4h-8zM374 544h4v4h-4zM618 544h16v4h-16zM662 544h4v4h-4zM762 544h8v4h-8zM1130 544h8v4h-8zM1162 544h8v4h-8zM226 548h8v4h-8zM242 548h12v4h-12zM306 548h16v4h-16zM374 548h4v4h-4zM782 548h8v4h-8zM1126 548h4v4h-4zM1170 548h4v4h-4zM222 552h12v4h-12zM246 552h8v4h-8zM370 552h8v4h-8zM822 552h8v4h-8zM1122 552h4v4h-4zM222 556h12v4h-12zM246 556h4v4h-4zM374 556h4v4h-4zM854 556h12v4h-12zM874 556h8v4h-8zM898 556h8v4h-8zM1118 556h4v4h-4zM1174 556h4v4h-4zM1206 556h16v4h-16zM226 560h24v4h-24zM338 560h12v4h-12zM374 560h4v4h-4zM910 560h24v4h-24zM950 560h8v4h-8zM1118 560h4v4h-4zM1174 560h4v4h-4zM1198 560h8v4h-8zM1218 560h4v4h-4zM342 564h8v4h-8zM374 564h8v4h-8zM942 564h60v4h-60zM1170 564h4v4h-4zM1194 564h8v4h-8zM1222 564h4v4h-4zM378 568h4v4h-4zM950 568h24v4h-24zM998 568h8v4h-8zM1194 568h4v4h-4zM1222 568h8v4h-8zM378 572h8v4h-8zM950 572h24v4h-24zM1002 572h4v4h-4zM1130 572h4v4h-4zM1166 572h4v4h-4zM1194 572h4v4h-4zM382 576h8v4h-8zM450 576h8v4h-8zM950 576h32v4h-32zM998 576h8v4h-8zM1046 576h4v4h-4zM1142 576h8v4h-8zM1162 576h4v4h-4zM1190 576h4v4h-4zM386 580h12v4h-12zM442 580h8v4h-8zM458 580h8v4h-8zM946 580h56v4h-56zM1190 580h4v4h-4zM398 584h8v4h-8zM434 584h12v4h-12zM466 584h4v4h-4zM946 584h12v4h-12zM986 584h8v4h-8zM1182 584h4v4h-4zM402 588h8v4h-8zM434 588h8v4h-8zM466 588h8v4h-8zM946 588h8v4h-8zM1178 588h4v4h-4zM402 592h8v4h-8zM434 592h8v4h-8zM466 592h12v4h-12zM874 592h16v4h-16zM946 592h4v4h-4zM1174 592h4v4h-4zM402 596h8v4h-8zM434 596h4v4h-4zM470 596h12v4h-12zM614 596h4v4h-4zM870 596h24v4h-24zM942 596h8v4h-8zM402 600h4v4h-4zM434 600h4v4h-4zM470 600h16v4h-16zM610 600h8v4h-8zM866 600h44v4h-44zM938 600h8v4h-8zM1170 600h4v4h-4zM402 604h4v4h-4zM430 604h8v4h-8zM470 604h36v4h-36zM606 604h12v4h-12zM866 604h28v4h-28zM910 604h28v4h-28zM402 608h4v4h-4zM426 608h8v4h-8zM474 608h40v4h-40zM530 608h16v4h-16zM602 608h16v4h-16zM866 608h12v4h-12zM1166 608h4v4h-4zM402 612h28v4h-28zM490 612h24v4h-24zM522 612h24v4h-24zM598 612h20v4h-20zM854 612h24v4h-24zM1166 612h4v4h-4zM506 616h40v4h-40zM590 616h28v4h-28zM650 616h12v4h-12zM726 616h4v4h-4zM850 616h28v4h-28zM1166 616h4v4h-4zM510 620h24v4h-24zM538 620h80v4h-80zM650 620h12v4h-12zM850 620h24v4h-24zM518 624h16v4h-16zM554 624h60v4h-60zM654 624h8v4h-8zM850 624h8v4h-8zM862 624h12v4h-12zM566 628h48v4h-48zM850 628h8v4h-8zM870 628h4v4h-4zM1162 628h4v4h-4zM598 632h16v4h-16zM854 632h24v4h-24zM1162 632h4v4h-4zM606 636h12v4h-12zM858 636h32v4h-32zM894 636h16v4h-16zM1162 636h4v4h-4zM610 640h8v4h-8zM882 640h16v4h-16zM910 640h12v4h-12zM1162 640h4v4h-4zM610 644h12v4h-12zM922 644h8v4h-8zM614 648h12v4h-12zM926 648h12v4h-12zM958 648h24v4h-24zM1030 648h24v4h-24zM1166 648h4v4h-4zM618 652h12v4h-12zM930 652h36v4h-36zM986 652h4v4h-4zM1022 652h28v4h-28zM1170 652h4v4h-4zM622 656h24v4h-24zM990 656h4v4h-4zM1022 656h20v4h-20zM1186 656h8v4h-8zM626 660h8v4h-8zM642 660h8v4h-8zM722 660h8v4h-8zM994 660h4v4h-4zM1022 660h16v4h-16zM1198 660h4v4h-4zM642 664h8v4h-8zM718 664h16v4h-16zM1022 664h12v4h-12zM622 668h12v4h-12zM642 668h8v4h-8zM714 668h24v4h-24zM998 668h4v4h-4zM1022 668h12v4h-12zM1202 668h4v4h-4zM622 672h28v4h-28zM714 672h20v4h-20zM998 672h4v4h-4zM1022 672h16v4h-16zM1202 672h4v4h-4zM622 676h24v4h-24zM718 676h8v4h-8zM998 676h4v4h-4zM1022 676h12v4h-12zM1202 676h4v4h-4zM622 680h20v4h-20zM998 680h8v4h-8zM1022 680h12v4h-12z"/>
<path fill="#ffef00" d="M770 284h12v4h-12zM794 284h20v4h-20zM830 284h4v4h-4zM770 288h4v4h-4zM798 288h32v4h-32zM766 292h4v4h-4zM766 296h4v4h-4zM762 308h4v4h-4zM666 312h16v4h-16zM762 312h4v4h-4zM630 316h12v4h-12zM658 316h8v4h-8zM758 316h4v4h-4zM626 320h8v4h-8zM638 320h20v4h-20zM682 320h4v4h-4zM758 320h4v4h-4zM622 324h8v4h-8zM682 324h4v4h-4zM754 324h4v4h-4zM566 328h20v4h-20zM618 328h8v4h-8zM682 328h4v4h-4zM754 328h4v4h-4zM558 332h8v4h-8zM590 332h32v4h-32zM686 332h4v4h-4zM750 332h4v4h-4zM554 336h8v4h-8zM594 336h16v4h-16zM682 336h12v4h-12zM738 336h8v4h-8zM546 340h12v4h-12zM598 340h8v4h-8zM682 340h20v4h-20zM726 340h8v4h-8zM546 344h8v4h-8zM682 344h48v4h-48zM546 348h4v4h-4zM690 348h12v4h-12zM546 352h4v4h-4zM542 356h8v4h-8zM538 360h8v4h-8zM534 364h8v4h-8zM534 368h4v4h-4zM530 372h8v4h-8zM350 376h16v4h-16zM478 376h4v4h-4zM518 376h12v4h-12zM350 380h4v4h-4zM366 380h4v4h-4zM470 380h4v4h-4zM486 380h32v4h-32zM366 384h4v4h-4zM458 384h8v4h-8zM346 388h4v4h-4zM370 388h4v4h-4zM450 388h4v4h-4zM346 392h4v4h-4zM446 392h4v4h-4zM210 396h24v4h-24zM342 396h4v4h-4zM374 396h4v4h-4zM438 396h8v4h-8zM1074 396h44v4h-44zM186 400h8v4h-8zM242 400h4v4h-4zM290 400h4v4h-4zM338 400h4v4h-4zM378 400h4v4h-4zM422 400h4v4h-4zM1066 400h4v4h-4zM314 404h16v4h-16zM382 404h4v4h-4zM406 404h8v4h-8zM386 408h8v4h-8zM1062 408h8v4h-8zM1050 412h8v4h-8zM1086 416h4v4h-4zM1042 420h4v4h-4zM1082 420h4v4h-4zM1042 424h4v4h-4zM1078 424h4v4h-4zM1042 428h4v4h-4zM1042 432h4v4h-4zM1074 432h4v4h-4zM1042 436h4v4h-4zM1070 436h4v4h-4zM1046 440h4v4h-4zM1066 440h4v4h-4zM1050 444h8v4h-8zM1214 468h4v4h-4zM1198 496h4v4h-4zM498 500h12v4h-12zM494 504h28v4h-28zM594 504h20v4h-20zM486 508h20v4h-20zM518 508h16v4h-16zM578 508h20v4h-20zM614 508h4v4h-4zM442 512h4v4h-4zM482 512h20v4h-20zM534 512h8v4h-8zM570 512h8v4h-8zM614 512h4v4h-4zM398 516h40v4h-40zM454 516h8v4h-8zM470 516h32v4h-32zM610 516h4v4h-4zM394 520h4v4h-4zM498 520h4v4h-4zM606 520h8v4h-8zM1174 520h4v4h-4zM386 524h8v4h-8zM602 524h8v4h-8zM694 524h4v4h-4zM714 524h12v4h-12zM1174 524h4v4h-4zM254 528h12v4h-12zM378 528h8v4h-8zM602 528h8v4h-8zM690 528h4v4h-4zM730 528h12v4h-12zM1174 528h4v4h-4zM242 532h24v4h-24zM374 532h4v4h-4zM606 532h4v4h-4zM686 532h4v4h-4zM738 532h4v4h-4zM1174 532h4v4h-4zM234 536h12v4h-12zM254 536h12v4h-12zM314 536h16v4h-16zM374 536h4v4h-4zM606 536h8v4h-8zM682 536h4v4h-4zM746 536h4v4h-4zM1178 536h4v4h-4zM1194 536h12v4h-12zM226 540h12v4h-12zM254 540h12v4h-12zM306 540h28v4h-28zM370 540h4v4h-4zM614 540h8v4h-8zM666 540h8v4h-8zM758 540h4v4h-4zM1150 540h8v4h-8zM1174 540h16v4h-16zM1218 540h12v4h-12zM222 544h8v4h-8zM254 544h12v4h-12zM294 544h20v4h-20zM322 544h16v4h-16zM370 544h4v4h-4zM634 544h28v4h-28zM770 544h8v4h-8zM1170 544h8v4h-8zM214 548h12v4h-12zM254 548h8v4h-8zM294 548h12v4h-12zM322 548h24v4h-24zM366 548h8v4h-8zM790 548h32v4h-32zM1122 548h4v4h-4zM1174 548h4v4h-4zM210 552h12v4h-12zM254 552h4v4h-4zM294 552h76v4h-76zM830 552h28v4h-28zM886 552h12v4h-12zM1118 552h4v4h-4zM1174 552h4v4h-4zM1206 552h16v4h-16zM214 556h8v4h-8zM250 556h8v4h-8zM302 556h72v4h-72zM866 556h8v4h-8zM906 556h20v4h-20zM1110 556h8v4h-8zM1178 556h4v4h-4zM1198 556h8v4h-8zM1222 556h4v4h-4zM218 560h8v4h-8zM250 560h8v4h-8zM318 560h20v4h-20zM350 560h24v4h-24zM934 560h16v4h-16zM958 560h40v4h-40zM1114 560h4v4h-4zM1178 560h20v4h-20zM1222 560h8v4h-8zM222 564h32v4h-32zM326 564h16v4h-16zM350 564h24v4h-24zM1002 564h4v4h-4zM1114 564h8v4h-8zM1174 564h20v4h-20zM1226 564h4v4h-4zM230 568h24v4h-24zM338 568h40v4h-40zM1006 568h4v4h-4zM1122 568h4v4h-4zM1170 568h4v4h-4zM1186 568h8v4h-8zM370 572h8v4h-8zM1006 572h4v4h-4zM1126 572h4v4h-4zM1190 572h4v4h-4zM374 576h8v4h-8zM1006 576h4v4h-4zM1042 576h4v4h-4zM1138 576h4v4h-4zM1166 576h4v4h-4zM1186 576h4v4h-4zM378 580h8v4h-8zM450 580h8v4h-8zM1002 580h8v4h-8zM1154 580h8v4h-8zM1182 580h8v4h-8zM382 584h16v4h-16zM446 584h4v4h-4zM458 584h8v4h-8zM958 584h28v4h-28zM994 584h12v4h-12zM1178 584h4v4h-4zM386 588h16v4h-16zM442 588h4v4h-4zM458 588h8v4h-8zM954 588h48v4h-48zM1174 588h4v4h-4zM390 592h12v4h-12zM442 592h4v4h-4zM458 592h8v4h-8zM950 592h8v4h-8zM1170 592h4v4h-4zM390 596h12v4h-12zM438 596h8v4h-8zM458 596h12v4h-12zM950 596h4v4h-4zM1170 596h4v4h-4zM390 600h12v4h-12zM438 600h8v4h-8zM454 600h16v4h-16zM946 600h8v4h-8zM394 604h8v4h-8zM438 604h8v4h-8zM454 604h16v4h-16zM894 604h16v4h-16zM938 604h12v4h-12zM1166 604h4v4h-4zM394 608h8v4h-8zM434 608h8v4h-8zM458 608h16v4h-16zM878 608h20v4h-20zM910 608h4v4h-4zM926 608h12v4h-12zM398 612h4v4h-4zM430 612h8v4h-8zM462 612h28v4h-28zM878 612h12v4h-12zM402 616h32v4h-32zM486 616h20v4h-20zM878 616h8v4h-8zM1162 616h4v4h-4zM414 620h16v4h-16zM490 620h20v4h-20zM534 620h4v4h-4zM874 620h8v4h-8zM1162 620h4v4h-4zM490 624h28v4h-28zM534 624h20v4h-20zM858 624h4v4h-4zM874 624h8v4h-8zM1162 624h4v4h-4zM506 628h60v4h-60zM858 628h12v4h-12zM874 628h12v4h-12zM506 632h40v4h-40zM554 632h44v4h-44zM878 632h32v4h-32zM1158 632h4v4h-4zM530 636h16v4h-16zM554 636h52v4h-52zM890 636h4v4h-4zM910 636h12v4h-12zM1158 636h4v4h-4zM534 640h12v4h-12zM558 640h32v4h-32zM594 640h16v4h-16zM922 640h12v4h-12zM1038 640h4v4h-4zM598 644h12v4h-12zM930 644h48v4h-48zM1026 644h28v4h-28zM1162 644h4v4h-4zM598 648h16v4h-16zM938 648h20v4h-20zM982 648h8v4h-8zM1022 648h8v4h-8zM1054 648h4v4h-4zM1162 648h4v4h-4zM586 652h8v4h-8zM606 652h12v4h-12zM990 652h8v4h-8zM1018 652h4v4h-4zM1050 652h8v4h-8zM1166 652h4v4h-4zM586 656h8v4h-8zM610 656h12v4h-12zM994 656h4v4h-4zM1014 656h8v4h-8zM1042 656h16v4h-16zM1170 656h16v4h-16zM562 660h4v4h-4zM614 660h12v4h-12zM634 660h8v4h-8zM998 660h4v4h-4zM1014 660h8v4h-8zM1038 660h16v4h-16zM1194 660h4v4h-4zM614 664h28v4h-28zM998 664h4v4h-4zM1018 664h4v4h-4zM1034 664h20v4h-20zM1198 664h4v4h-4zM614 668h8v4h-8zM634 668h8v4h-8zM1002 668h4v4h-4zM1014 668h8v4h-8zM1034 668h20v4h-20zM1074 668h4v4h-4zM610 672h12v4h-12zM1002 672h4v4h-4zM1014 672h8v4h-8zM1038 672h20v4h-20zM1074 672h12v4h-12zM474 676h4v4h-4zM606 676h16v4h-16zM1002 676h20v4h-20zM1034 676h28v4h-28zM1074 676h12v4h-12zM1114 676h12v4h-12zM602 680h20v4h-20zM1006 680h16v4h-16zM1034 680h32v4h-32zM1070 680h20v4h-20zM1114 680h12v4h-12zM1198 680h4v4h-4z"/>
<path fill="#ffe900" d="M782 284h12v4h-12zM834 284h8v4h-8zM774 288h24v4h-24zM830 288h8v4h-8zM770 292h8v4h-8zM794 292h40v4h-40zM770 296h4v4h-4zM798 296h8v4h-8zM766 300h8v4h-8zM766 304h8v4h-8zM766 308h8v4h-8zM766 312h12v4h-12zM666 316h16v4h-16zM762 316h12v4h-12zM634 320h4v4h-4zM658 320h24v4h-24zM762 320h12v4h-12zM630 324h40v4h-40zM678 324h4v4h-4zM758 324h8v4h-8zM1006 324h4v4h-4zM626 328h8v4h-8zM650 328h16v4h-16zM678 328h4v4h-4zM758 328h8v4h-8zM1006 328h4v4h-4zM566 332h24v4h-24zM622 332h8v4h-8zM650 332h16v4h-16zM678 332h8v4h-8zM754 332h12v4h-12zM562 336h12v4h-12zM582 336h12v4h-12zM610 336h16v4h-16zM670 336h12v4h-12zM746 336h16v4h-16zM558 340h16v4h-16zM586 340h12v4h-12zM606 340h16v4h-16zM666 340h16v4h-16zM734 340h8v4h-8zM554 344h60v4h-60zM670 344h12v4h-12zM730 344h8v4h-8zM550 348h8v4h-8zM566 348h44v4h-44zM670 348h20v4h-20zM702 348h32v4h-32zM550 352h8v4h-8zM570 352h8v4h-8zM590 352h20v4h-20zM678 352h48v4h-48zM550 356h4v4h-4zM598 356h16v4h-16zM710 356h8v4h-8zM546 360h8v4h-8zM602 360h12v4h-12zM542 364h8v4h-8zM602 364h12v4h-12zM538 368h12v4h-12zM538 372h8v4h-8zM530 376h12v4h-12zM354 380h12v4h-12zM474 380h12v4h-12zM518 380h20v4h-20zM350 384h8v4h-8zM362 384h4v4h-4zM466 384h8v4h-8zM482 384h52v4h-52zM350 388h4v4h-4zM366 388h4v4h-4zM454 388h8v4h-8zM494 388h28v4h-28zM370 392h4v4h-4zM450 392h4v4h-4zM502 392h8v4h-8zM346 396h4v4h-4zM370 396h4v4h-4zM446 396h4v4h-4zM1070 396h4v4h-4zM1118 396h4v4h-4zM194 400h12v4h-12zM234 400h8v4h-8zM342 400h4v4h-4zM374 400h4v4h-4zM426 400h16v4h-16zM1122 400h4v4h-4zM258 404h16v4h-16zM302 404h12v4h-12zM330 404h12v4h-12zM378 404h4v4h-4zM414 404h4v4h-4zM1066 404h4v4h-4zM1122 404h4v4h-4zM378 408h8v4h-8zM394 408h16v4h-16zM1050 408h12v4h-12zM1122 408h4v4h-4zM382 412h8v4h-8zM1046 412h4v4h-4zM1122 412h4v4h-4zM1042 416h4v4h-4zM1090 416h16v4h-16zM1038 424h4v4h-4zM1038 428h4v4h-4zM1078 428h4v4h-4zM1038 432h4v4h-4zM1038 436h4v4h-4zM1042 440h4v4h-4zM1046 444h4v4h-4zM1058 444h4v4h-4zM1222 444h4v4h-4zM1214 464h4v4h-4zM1206 492h4v4h-4zM498 496h32v4h-32zM490 500h8v4h-8zM510 500h24v4h-24zM574 500h40v4h-40zM1186 500h4v4h-4zM486 504h8v4h-8zM522 504h16v4h-16zM574 504h20v4h-20zM614 504h4v4h-4zM482 508h4v4h-4zM534 508h24v4h-24zM570 508h8v4h-8zM618 508h4v4h-4zM398 512h16v4h-16zM430 512h12v4h-12zM446 512h36v4h-36zM542 512h28v4h-28zM1174 512h4v4h-4zM394 516h4v4h-4zM462 516h8v4h-8zM614 516h4v4h-4zM702 516h24v4h-24zM1174 516h4v4h-4zM262 520h16v4h-16zM390 520h4v4h-4zM614 520h4v4h-4zM694 520h44v4h-44zM250 524h28v4h-28zM378 524h8v4h-8zM610 524h8v4h-8zM690 524h4v4h-4zM726 524h20v4h-20zM242 528h12v4h-12zM266 528h12v4h-12zM286 528h16v4h-16zM374 528h4v4h-4zM610 528h8v4h-8zM686 528h4v4h-4zM742 528h8v4h-8zM234 532h8v4h-8zM266 532h8v4h-8zM282 532h48v4h-48zM370 532h4v4h-4zM610 532h8v4h-8zM682 532h4v4h-4zM742 532h12v4h-12zM226 536h8v4h-8zM266 536h8v4h-8zM278 536h36v4h-36zM330 536h4v4h-4zM370 536h4v4h-4zM614 536h12v4h-12zM674 536h8v4h-8zM750 536h12v4h-12zM1170 536h8v4h-8zM222 540h4v4h-4zM266 540h40v4h-40zM334 540h8v4h-8zM366 540h4v4h-4zM622 540h24v4h-24zM654 540h12v4h-12zM762 540h8v4h-8zM1142 540h8v4h-8zM1158 540h16v4h-16zM1190 540h28v4h-28zM214 544h8v4h-8zM266 544h28v4h-28zM338 544h20v4h-20zM362 544h8v4h-8zM778 544h12v4h-12zM802 544h4v4h-4zM1126 544h4v4h-4zM1178 544h16v4h-16zM1214 544h16v4h-16zM210 548h4v4h-4zM262 548h32v4h-32zM346 548h20v4h-20zM822 548h24v4h-24zM1118 548h4v4h-4zM1178 548h8v4h-8zM1210 548h20v4h-20zM206 552h4v4h-4zM258 552h36v4h-36zM858 552h8v4h-8zM878 552h8v4h-8zM898 552h8v4h-8zM1110 552h8v4h-8zM1178 552h8v4h-8zM1198 552h8v4h-8zM1222 552h8v4h-8zM202 556h12v4h-12zM258 556h20v4h-20zM290 556h12v4h-12zM926 556h64v4h-64zM1106 556h4v4h-4zM1182 556h16v4h-16zM1226 556h4v4h-4zM206 560h12v4h-12zM258 560h12v4h-12zM298 560h20v4h-20zM998 560h8v4h-8zM1106 560h8v4h-8zM210 564h12v4h-12zM254 564h16v4h-16zM314 564h12v4h-12zM1006 564h4v4h-4zM1046 564h4v4h-4zM1110 564h4v4h-4zM218 568h12v4h-12zM254 568h16v4h-16zM322 568h16v4h-16zM1010 568h4v4h-4zM1118 568h4v4h-4zM1174 568h12v4h-12zM226 572h44v4h-44zM334 572h36v4h-36zM1010 572h4v4h-4zM1122 572h4v4h-4zM1170 572h8v4h-8zM1182 572h8v4h-8zM238 576h32v4h-32zM358 576h16v4h-16zM1010 576h4v4h-4zM1050 576h4v4h-4zM1130 576h8v4h-8zM1170 576h4v4h-4zM1182 576h4v4h-4zM246 580h24v4h-24zM366 580h12v4h-12zM1010 580h8v4h-8zM1150 580h4v4h-4zM1162 580h8v4h-8zM1174 580h8v4h-8zM250 584h20v4h-20zM374 584h8v4h-8zM450 584h8v4h-8zM1006 584h12v4h-12zM1170 584h8v4h-8zM266 588h4v4h-4zM378 588h8v4h-8zM446 588h12v4h-12zM1002 588h12v4h-12zM1170 588h4v4h-4zM266 592h8v4h-8zM382 592h8v4h-8zM446 592h12v4h-12zM958 592h48v4h-48zM262 596h12v4h-12zM382 596h8v4h-8zM446 596h12v4h-12zM954 596h48v4h-48zM1166 596h4v4h-4zM266 600h8v4h-8zM382 600h8v4h-8zM446 600h8v4h-8zM954 600h8v4h-8zM1166 600h4v4h-4zM382 604h12v4h-12zM446 604h8v4h-8zM950 604h8v4h-8zM386 608h8v4h-8zM442 608h16v4h-16zM898 608h12v4h-12zM914 608h12v4h-12zM938 608h20v4h-20zM1162 608h4v4h-4zM394 612h4v4h-4zM438 612h24v4h-24zM890 612h24v4h-24zM938 612h12v4h-12zM1162 612h4v4h-4zM398 616h4v4h-4zM434 616h52v4h-52zM886 616h20v4h-20zM402 620h12v4h-12zM430 620h12v4h-12zM470 620h20v4h-20zM882 620h24v4h-24zM410 624h24v4h-24zM478 624h12v4h-12zM882 624h28v4h-28zM1026 624h8v4h-8zM1158 624h4v4h-4zM422 628h4v4h-4zM478 628h28v4h-28zM886 628h28v4h-28zM1022 628h16v4h-16zM1158 628h4v4h-4zM482 632h24v4h-24zM546 632h8v4h-8zM910 632h12v4h-12zM1022 632h16v4h-16zM486 636h44v4h-44zM546 636h8v4h-8zM922 636h12v4h-12zM958 636h8v4h-8zM1022 636h24v4h-24zM502 640h32v4h-32zM546 640h12v4h-12zM590 640h4v4h-4zM934 640h40v4h-40zM1022 640h16v4h-16zM1042 640h16v4h-16zM1158 640h4v4h-4zM502 644h16v4h-16zM530 644h68v4h-68zM978 644h8v4h-8zM1014 644h12v4h-12zM1054 644h8v4h-8zM1158 644h4v4h-4zM502 648h16v4h-16zM534 648h64v4h-64zM990 648h8v4h-8zM1010 648h12v4h-12zM1058 648h4v4h-4zM498 652h20v4h-20zM538 652h48v4h-48zM594 652h12v4h-12zM998 652h20v4h-20zM1058 652h8v4h-8zM1106 652h8v4h-8zM1162 652h4v4h-4zM498 656h16v4h-16zM538 656h48v4h-48zM594 656h16v4h-16zM998 656h16v4h-16zM1058 656h8v4h-8zM1102 656h24v4h-24zM1166 656h4v4h-4zM502 660h8v4h-8zM538 660h24v4h-24zM566 660h48v4h-48zM1002 660h12v4h-12zM1054 660h24v4h-24zM1102 660h24v4h-24zM1170 660h8v4h-8zM1186 660h8v4h-8zM534 664h80v4h-80zM1002 664h16v4h-16zM1054 664h32v4h-32zM1098 664h28v4h-28zM466 668h12v4h-12zM534 668h32v4h-32zM582 668h32v4h-32zM1006 668h8v4h-8zM1054 668h20v4h-20zM1078 668h12v4h-12zM1098 668h28v4h-28zM1198 668h4v4h-4zM466 672h20v4h-20zM546 672h20v4h-20zM582 672h28v4h-28zM1006 672h8v4h-8zM1058 672h16v4h-16zM1086 672h44v4h-44zM466 676h8v4h-8zM478 676h8v4h-8zM546 676h20v4h-20zM582 676h24v4h-24zM1062 676h12v4h-12zM1086 676h28v4h-28zM1126 676h4v4h-4zM1198 676h4v4h-4zM470 680h16v4h-16zM550 680h16v4h-16zM582 680h20v4h-20zM1066 680h4v4h-4zM1090 680h24v4h-24zM1126 680h8v4h-8zM1194 680h4v4h-4z"/>
<path fill="#ffe200" d="M842 284h4v4h-4zM838 288h8v4h-8zM778 292h16v4h-16zM834 292h8v4h-8zM774 296h24v4h-24zM806 296h24v4h-24zM774 300h28v4h-28zM818 300h4v4h-4zM774 304h20v4h-20zM774 308h20v4h-20zM778 312h16v4h-16zM774 316h16v4h-16zM774 320h4v4h-4zM1006 320h4v4h-4zM670 324h8v4h-8zM766 324h8v4h-8zM1002 324h4v4h-4zM634 328h16v4h-16zM666 328h12v4h-12zM766 328h8v4h-8zM1002 328h4v4h-4zM630 332h20v4h-20zM666 332h12v4h-12zM766 332h4v4h-4zM574 336h8v4h-8zM626 336h44v4h-44zM762 336h4v4h-4zM574 340h12v4h-12zM622 340h44v4h-44zM742 340h20v4h-20zM614 344h40v4h-40zM658 344h12v4h-12zM738 344h16v4h-16zM558 348h8v4h-8zM610 348h40v4h-40zM662 348h8v4h-8zM734 348h8v4h-8zM558 352h12v4h-12zM578 352h12v4h-12zM610 352h40v4h-40zM666 352h12v4h-12zM726 352h8v4h-8zM554 356h44v4h-44zM614 356h12v4h-12zM634 356h16v4h-16zM670 356h40v4h-40zM718 356h8v4h-8zM554 360h8v4h-8zM570 360h12v4h-12zM594 360h8v4h-8zM614 360h8v4h-8zM678 360h8v4h-8zM706 360h16v4h-16zM550 364h8v4h-8zM598 364h4v4h-4zM614 364h4v4h-4zM550 368h8v4h-8zM598 368h16v4h-16zM546 372h8v4h-8zM542 376h8v4h-8zM538 380h8v4h-8zM358 384h4v4h-4zM474 384h8v4h-8zM534 384h8v4h-8zM354 388h12v4h-12zM462 388h32v4h-32zM522 388h16v4h-16zM350 392h20v4h-20zM454 392h8v4h-8zM494 392h8v4h-8zM510 392h28v4h-28zM1090 392h24v4h-24zM350 396h20v4h-20zM450 396h4v4h-4zM502 396h12v4h-12zM1066 396h4v4h-4zM1122 396h4v4h-4zM206 400h28v4h-28zM346 400h12v4h-12zM370 400h4v4h-4zM442 400h4v4h-4zM1062 400h4v4h-4zM250 404h8v4h-8zM274 404h16v4h-16zM294 404h8v4h-8zM342 404h12v4h-12zM374 404h4v4h-4zM418 404h8v4h-8zM1058 404h8v4h-8zM374 408h4v4h-4zM410 408h8v4h-8zM1046 408h4v4h-4zM370 412h12v4h-12zM390 412h20v4h-20zM1042 412h4v4h-4zM370 416h24v4h-24zM1106 416h8v4h-8zM374 420h12v4h-12zM1038 420h4v4h-4zM1086 420h4v4h-4zM1082 424h4v4h-4zM1034 432h4v4h-4zM1034 436h4v4h-4zM1074 436h4v4h-4zM1038 440h4v4h-4zM1070 440h4v4h-4zM1042 444h4v4h-4zM1062 444h4v4h-4zM438 484h8v4h-8zM434 488h12v4h-12zM1210 488h4v4h-4zM434 492h12v4h-12zM498 492h32v4h-32zM490 496h8v4h-8zM530 496h4v4h-4zM578 496h36v4h-36zM486 500h4v4h-4zM534 500h4v4h-4zM570 500h4v4h-4zM614 500h8v4h-8zM438 504h8v4h-8zM482 504h4v4h-4zM538 504h20v4h-20zM566 504h8v4h-8zM618 504h8v4h-8zM1178 504h4v4h-4zM394 508h16v4h-16zM434 508h24v4h-24zM478 508h4v4h-4zM558 508h12v4h-12zM622 508h4v4h-4zM266 512h12v4h-12zM390 512h8v4h-8zM414 512h16v4h-16zM618 512h8v4h-8zM710 512h16v4h-16zM262 516h20v4h-20zM302 516h8v4h-8zM390 516h4v4h-4zM618 516h4v4h-4zM698 516h4v4h-4zM726 516h16v4h-16zM250 520h12v4h-12zM278 520h8v4h-8zM298 520h16v4h-16zM382 520h8v4h-8zM618 520h4v4h-4zM690 520h4v4h-4zM738 520h8v4h-8zM242 524h8v4h-8zM278 524h40v4h-40zM374 524h4v4h-4zM618 524h4v4h-4zM686 524h4v4h-4zM746 524h4v4h-4zM234 528h8v4h-8zM278 528h8v4h-8zM302 528h24v4h-24zM370 528h4v4h-4zM618 528h4v4h-4zM682 528h4v4h-4zM750 528h4v4h-4zM1170 528h4v4h-4zM226 532h8v4h-8zM274 532h8v4h-8zM330 532h4v4h-4zM366 532h4v4h-4zM618 532h4v4h-4zM678 532h4v4h-4zM754 532h8v4h-8zM1170 532h4v4h-4zM222 536h4v4h-4zM274 536h4v4h-4zM334 536h8v4h-8zM366 536h4v4h-4zM626 536h4v4h-4zM670 536h4v4h-4zM762 536h8v4h-8zM1166 536h4v4h-4zM214 540h8v4h-8zM342 540h24v4h-24zM646 540h8v4h-8zM770 540h16v4h-16zM1134 540h8v4h-8zM210 544h4v4h-4zM358 544h4v4h-4zM790 544h12v4h-12zM806 544h12v4h-12zM1122 544h4v4h-4zM1194 544h20v4h-20zM198 548h12v4h-12zM846 548h12v4h-12zM1110 548h8v4h-8zM1186 548h24v4h-24zM194 552h12v4h-12zM866 552h12v4h-12zM906 552h16v4h-16zM958 552h8v4h-8zM1106 552h4v4h-4zM1186 552h12v4h-12zM190 556h12v4h-12zM278 556h12v4h-12zM990 556h8v4h-8zM1102 556h4v4h-4zM190 560h16v4h-16zM270 560h28v4h-28zM1006 560h4v4h-4zM1102 560h4v4h-4zM186 564h24v4h-24zM270 564h44v4h-44zM1010 564h4v4h-4zM1042 564h4v4h-4zM1050 564h4v4h-4zM1106 564h4v4h-4zM186 568h32v4h-32zM270 568h12v4h-12zM310 568h12v4h-12zM1014 568h4v4h-4zM1038 568h4v4h-4zM1054 568h4v4h-4zM1110 568h8v4h-8zM186 572h40v4h-40zM270 572h12v4h-12zM314 572h20v4h-20zM1014 572h4v4h-4zM1038 572h4v4h-4zM1054 572h4v4h-4zM1118 572h4v4h-4zM1178 572h4v4h-4zM226 576h12v4h-12zM270 576h8v4h-8zM326 576h32v4h-32zM1014 576h8v4h-8zM1054 576h4v4h-4zM1126 576h4v4h-4zM1174 576h8v4h-8zM234 580h12v4h-12zM270 580h8v4h-8zM350 580h16v4h-16zM1018 580h4v4h-4zM1142 580h8v4h-8zM1170 580h4v4h-4zM242 584h8v4h-8zM270 584h8v4h-8zM362 584h12v4h-12zM1018 584h8v4h-8zM1154 584h16v4h-16zM246 588h20v4h-20zM270 588h8v4h-8zM366 588h12v4h-12zM1014 588h20v4h-20zM1162 588h8v4h-8zM250 592h16v4h-16zM274 592h4v4h-4zM366 592h16v4h-16zM1006 592h32v4h-32zM1166 592h4v4h-4zM254 596h8v4h-8zM274 596h8v4h-8zM358 596h24v4h-24zM1002 596h36v4h-36zM250 600h16v4h-16zM274 600h8v4h-8zM338 600h44v4h-44zM962 600h48v4h-48zM250 604h28v4h-28zM338 604h44v4h-44zM958 604h16v4h-16zM998 604h4v4h-4zM1162 604h4v4h-4zM254 608h8v4h-8zM306 608h8v4h-8zM322 608h8v4h-8zM346 608h40v4h-40zM958 608h8v4h-8zM298 612h16v4h-16zM326 612h4v4h-4zM350 612h16v4h-16zM378 612h16v4h-16zM914 612h24v4h-24zM950 612h16v4h-16zM1022 612h4v4h-4zM302 616h8v4h-8zM386 616h12v4h-12zM906 616h60v4h-60zM1018 616h12v4h-12zM1158 616h4v4h-4zM394 620h8v4h-8zM442 620h28v4h-28zM906 620h8v4h-8zM946 620h12v4h-12zM1018 620h20v4h-20zM1158 620h4v4h-4zM398 624h12v4h-12zM434 624h44v4h-44zM910 624h8v4h-8zM950 624h4v4h-4zM1014 624h12v4h-12zM1034 624h8v4h-8zM410 628h12v4h-12zM426 628h52v4h-52zM914 628h8v4h-8zM946 628h12v4h-12zM1014 628h8v4h-8zM1038 628h4v4h-4zM1154 628h4v4h-4zM418 632h12v4h-12zM458 632h24v4h-24zM922 632h48v4h-48zM1014 632h8v4h-8zM1038 632h16v4h-16zM1154 632h4v4h-4zM462 636h24v4h-24zM934 636h24v4h-24zM966 636h12v4h-12zM1014 636h8v4h-8zM1046 636h16v4h-16zM1154 636h4v4h-4zM462 640h40v4h-40zM974 640h8v4h-8zM1010 640h12v4h-12zM1058 640h8v4h-8zM1154 640h4v4h-4zM458 644h44v4h-44zM518 644h12v4h-12zM986 644h28v4h-28zM1062 644h8v4h-8zM1126 644h12v4h-12zM450 648h52v4h-52zM518 648h16v4h-16zM998 648h12v4h-12zM1062 648h8v4h-8zM1082 648h56v4h-56zM1158 648h4v4h-4zM450 652h36v4h-36zM490 652h8v4h-8zM518 652h20v4h-20zM1066 652h40v4h-40zM1114 652h24v4h-24zM1158 652h4v4h-4zM430 656h4v4h-4zM442 656h56v4h-56zM514 656h24v4h-24zM1066 656h36v4h-36zM1126 656h8v4h-8zM1162 656h4v4h-4zM426 660h76v4h-76zM510 660h28v4h-28zM1078 660h24v4h-24zM1126 660h12v4h-12zM1162 660h8v4h-8zM1178 660h8v4h-8zM426 664h108v4h-108zM1086 664h12v4h-12zM1126 664h12v4h-12zM1194 664h4v4h-4zM430 668h36v4h-36zM478 668h56v4h-56zM566 668h16v4h-16zM1090 668h8v4h-8zM1126 668h12v4h-12zM442 672h24v4h-24zM486 672h24v4h-24zM518 672h28v4h-28zM566 672h16v4h-16zM1130 672h12v4h-12zM1198 672h4v4h-4zM450 676h16v4h-16zM486 676h8v4h-8zM526 676h20v4h-20zM566 676h16v4h-16zM1130 676h16v4h-16zM466 680h4v4h-4zM486 680h4v4h-4zM534 680h16v4h-16zM566 680h16v4h-16zM1134 680h16v4h-16z"/>
<path fill="#ffdc00" d="M846 284h4v4h-4zM846 288h4v4h-4zM842 292h8v4h-8zM830 296h16v4h-16zM1098 296h16v4h-16zM802 300h16v4h-16zM822 300h12v4h-12zM1098 300h16v4h-16zM794 304h12v4h-12zM814 304h12v4h-12zM1102 304h16v4h-16zM794 308h8v4h-8zM1106 308h12v4h-12zM794 312h8v4h-8zM790 316h8v4h-8zM1006 316h4v4h-4zM1126 316h8v4h-8zM778 320h20v4h-20zM1002 320h4v4h-4zM1126 320h8v4h-8zM774 324h12v4h-12zM1126 324h8v4h-8zM774 328h4v4h-4zM770 332h8v4h-8zM1006 332h4v4h-4zM766 336h8v4h-8zM762 340h8v4h-8zM654 344h4v4h-4zM754 344h8v4h-8zM650 348h12v4h-12zM742 348h8v4h-8zM650 352h16v4h-16zM734 352h8v4h-8zM626 356h8v4h-8zM650 356h20v4h-20zM726 356h8v4h-8zM562 360h8v4h-8zM582 360h12v4h-12zM622 360h56v4h-56zM686 360h20v4h-20zM722 360h4v4h-4zM558 364h40v4h-40zM618 364h16v4h-16zM638 364h20v4h-20zM674 364h52v4h-52zM558 368h4v4h-4zM590 368h8v4h-8zM614 368h8v4h-8zM686 368h4v4h-4zM710 368h12v4h-12zM554 372h8v4h-8zM594 372h20v4h-20zM550 376h8v4h-8zM598 376h12v4h-12zM546 380h8v4h-8zM542 384h8v4h-8zM538 388h8v4h-8zM462 392h32v4h-32zM538 392h4v4h-4zM1074 392h16v4h-16zM1114 392h8v4h-8zM454 396h4v4h-4zM498 396h4v4h-4zM514 396h24v4h-24zM1062 396h4v4h-4zM358 400h12v4h-12zM446 400h4v4h-4zM502 400h12v4h-12zM1058 400h4v4h-4zM1126 400h4v4h-4zM174 404h16v4h-16zM238 404h12v4h-12zM290 404h4v4h-4zM354 404h20v4h-20zM426 404h16v4h-16zM1050 404h8v4h-8zM1126 404h4v4h-4zM306 408h68v4h-68zM418 408h4v4h-4zM1042 408h4v4h-4zM342 412h28v4h-28zM410 412h8v4h-8zM350 416h20v4h-20zM394 416h20v4h-20zM1038 416h4v4h-4zM1114 416h4v4h-4zM350 420h24v4h-24zM386 420h8v4h-8zM1090 420h4v4h-4zM358 424h36v4h-36zM1034 424h4v4h-4zM378 428h16v4h-16zM1034 428h4v4h-4zM382 432h12v4h-12zM1078 432h4v4h-4zM382 436h12v4h-12zM1030 436h4v4h-4zM382 440h8v4h-8zM1034 440h4v4h-4zM1226 440h4v4h-4zM382 444h4v4h-4zM1038 444h4v4h-4zM1066 444h4v4h-4zM1046 448h12v4h-12zM1218 448h4v4h-4zM486 452h4v4h-4zM486 456h4v4h-4zM1214 460h4v4h-4zM422 476h4v4h-4zM418 480h28v4h-28zM414 484h24v4h-24zM446 484h4v4h-4zM414 488h20v4h-20zM446 488h4v4h-4zM494 488h8v4h-8zM506 488h20v4h-20zM410 492h24v4h-24zM446 492h4v4h-4zM490 492h8v4h-8zM530 492h4v4h-4zM590 492h20v4h-20zM398 496h52v4h-52zM486 496h4v4h-4zM534 496h4v4h-4zM574 496h4v4h-4zM614 496h8v4h-8zM394 500h20v4h-20zM426 500h24v4h-24zM482 500h4v4h-4zM538 500h12v4h-12zM566 500h4v4h-4zM622 500h8v4h-8zM390 504h24v4h-24zM426 504h12v4h-12zM446 504h8v4h-8zM478 504h4v4h-4zM558 504h8v4h-8zM626 504h4v4h-4zM266 508h12v4h-12zM306 508h4v4h-4zM386 508h8v4h-8zM410 508h24v4h-24zM458 508h20v4h-20zM626 508h4v4h-4zM730 508h12v4h-12zM1174 508h4v4h-4zM258 512h8v4h-8zM278 512h4v4h-4zM298 512h16v4h-16zM382 512h8v4h-8zM626 512h4v4h-4zM698 512h12v4h-12zM726 512h20v4h-20zM250 516h12v4h-12zM282 516h8v4h-8zM294 516h8v4h-8zM310 516h8v4h-8zM378 516h12v4h-12zM622 516h8v4h-8zM694 516h4v4h-4zM742 516h4v4h-4zM242 520h8v4h-8zM286 520h12v4h-12zM314 520h8v4h-8zM370 520h12v4h-12zM622 520h4v4h-4zM686 520h4v4h-4zM746 520h4v4h-4zM1170 520h4v4h-4zM238 524h4v4h-4zM318 524h8v4h-8zM370 524h4v4h-4zM622 524h4v4h-4zM682 524h4v4h-4zM750 524h4v4h-4zM1170 524h4v4h-4zM230 528h4v4h-4zM326 528h8v4h-8zM366 528h4v4h-4zM622 528h4v4h-4zM678 528h4v4h-4zM754 528h4v4h-4zM222 532h4v4h-4zM334 532h8v4h-8zM362 532h4v4h-4zM622 532h4v4h-4zM674 532h4v4h-4zM762 532h4v4h-4zM218 536h4v4h-4zM342 536h24v4h-24zM630 536h12v4h-12zM662 536h8v4h-8zM770 536h4v4h-4zM1162 536h4v4h-4zM210 540h4v4h-4zM786 540h4v4h-4zM1126 540h8v4h-8zM198 544h12v4h-12zM818 544h8v4h-8zM1114 544h8v4h-8zM194 548h4v4h-4zM858 548h8v4h-8zM882 548h20v4h-20zM1106 548h4v4h-4zM186 552h8v4h-8zM922 552h36v4h-36zM966 552h24v4h-24zM1102 552h4v4h-4zM182 556h8v4h-8zM998 556h4v4h-4zM1094 556h8v4h-8zM182 560h8v4h-8zM1010 560h4v4h-4zM1062 560h40v4h-40zM182 564h4v4h-4zM1014 564h4v4h-4zM1054 564h36v4h-36zM1094 564h12v4h-12zM178 568h8v4h-8zM282 568h28v4h-28zM1018 568h4v4h-4zM1058 568h24v4h-24zM1106 568h4v4h-4zM174 572h12v4h-12zM282 572h32v4h-32zM1018 572h4v4h-4zM1058 572h8v4h-8zM1114 572h4v4h-4zM174 576h52v4h-52zM278 576h24v4h-24zM306 576h20v4h-20zM1022 576h4v4h-4zM1038 576h4v4h-4zM1058 576h4v4h-4zM1122 576h4v4h-4zM174 580h16v4h-16zM222 580h12v4h-12zM278 580h20v4h-20zM314 580h36v4h-36zM1022 580h36v4h-36zM1134 580h8v4h-8zM178 584h8v4h-8zM230 584h12v4h-12zM278 584h20v4h-20zM314 584h48v4h-48zM1026 584h24v4h-24zM1150 584h4v4h-4zM242 588h4v4h-4zM278 588h24v4h-24zM314 588h16v4h-16zM338 588h28v4h-28zM1034 588h12v4h-12zM1158 588h4v4h-4zM246 592h4v4h-4zM278 592h8v4h-8zM294 592h8v4h-8zM314 592h16v4h-16zM334 592h32v4h-32zM1038 592h8v4h-8zM1162 592h4v4h-4zM174 596h4v4h-4zM246 596h8v4h-8zM282 596h4v4h-4zM290 596h8v4h-8zM314 596h44v4h-44zM1038 596h8v4h-8zM1162 596h4v4h-4zM246 600h4v4h-4zM282 600h16v4h-16zM310 600h28v4h-28zM1010 600h36v4h-36zM1162 600h4v4h-4zM242 604h8v4h-8zM278 604h60v4h-60zM974 604h24v4h-24zM1002 604h40v4h-40zM242 608h12v4h-12zM262 608h44v4h-44zM314 608h8v4h-8zM330 608h16v4h-16zM966 608h76v4h-76zM246 612h20v4h-20zM290 612h8v4h-8zM314 612h12v4h-12zM330 612h20v4h-20zM366 612h12v4h-12zM966 612h4v4h-4zM1006 612h16v4h-16zM1026 612h16v4h-16zM1158 612h4v4h-4zM294 616h8v4h-8zM310 616h56v4h-56zM374 616h12v4h-12zM966 616h4v4h-4zM1010 616h8v4h-8zM1030 616h12v4h-12zM298 620h36v4h-36zM382 620h12v4h-12zM914 620h32v4h-32zM958 620h12v4h-12zM1010 620h8v4h-8zM1038 620h8v4h-8zM1154 620h4v4h-4zM326 624h4v4h-4zM394 624h4v4h-4zM918 624h32v4h-32zM954 624h16v4h-16zM1006 624h8v4h-8zM1042 624h4v4h-4zM1154 624h4v4h-4zM398 628h12v4h-12zM922 628h24v4h-24zM958 628h20v4h-20zM1006 628h8v4h-8zM1042 628h16v4h-16zM1146 628h8v4h-8zM410 632h8v4h-8zM430 632h28v4h-28zM970 632h12v4h-12zM1006 632h8v4h-8zM1054 632h8v4h-8zM1122 632h32v4h-32zM414 636h48v4h-48zM978 636h8v4h-8zM1006 636h8v4h-8zM1062 636h8v4h-8zM1118 636h36v4h-36zM422 640h40v4h-40zM982 640h28v4h-28zM1066 640h24v4h-24zM1106 640h48v4h-48zM422 644h36v4h-36zM1070 644h56v4h-56zM1138 644h20v4h-20zM422 648h28v4h-28zM1070 648h12v4h-12zM1138 648h20v4h-20zM418 652h32v4h-32zM486 652h4v4h-4zM1138 652h20v4h-20zM418 656h12v4h-12zM434 656h8v4h-8zM1134 656h28v4h-28zM418 660h8v4h-8zM1138 660h24v4h-24zM418 664h8v4h-8zM1138 664h44v4h-44zM1190 664h4v4h-4zM418 668h12v4h-12zM1138 668h20v4h-20zM1194 668h4v4h-4zM422 672h20v4h-20zM510 672h8v4h-8zM1142 672h12v4h-12zM1194 672h4v4h-4zM426 676h24v4h-24zM494 676h32v4h-32zM1146 676h8v4h-8zM1194 676h4v4h-4zM442 680h24v4h-24zM490 680h44v4h-44zM1150 680h8v4h-8zM1190 680h4v4h-4z"/>
<path fill="#ffd600" d="M850 284h4v4h-4zM850 288h4v4h-4zM850 292h4v4h-4zM1094 292h20v4h-20zM846 296h8v4h-8zM1094 296h4v4h-4zM1114 296h4v4h-4zM834 300h16v4h-16zM1094 300h4v4h-4zM1114 300h4v4h-4zM806 304h8v4h-8zM826 304h16v4h-16zM1098 304h4v4h-4zM1118 304h4v4h-4zM802 308h28v4h-28zM1102 308h4v4h-4zM1118 308h8v4h-8zM802 312h4v4h-4zM1106 312h32v4h-32zM798 316h8v4h-8zM1002 316h4v4h-4zM1114 316h12v4h-12zM1134 316h8v4h-8zM798 320h4v4h-4zM1118 320h8v4h-8zM1134 320h12v4h-12zM786 324h16v4h-16zM1010 324h4v4h-4zM1122 324h4v4h-4zM1134 324h16v4h-16zM778 328h12v4h-12zM1010 328h4v4h-4zM1126 328h24v4h-24zM778 332h4v4h-4zM1002 332h4v4h-4zM1134 332h12v4h-12zM774 336h4v4h-4zM770 340h4v4h-4zM762 344h8v4h-8zM750 348h12v4h-12zM742 352h8v4h-8zM734 356h8v4h-8zM726 360h8v4h-8zM634 364h4v4h-4zM658 364h16v4h-16zM726 364h4v4h-4zM562 368h28v4h-28zM622 368h64v4h-64zM690 368h20v4h-20zM722 368h8v4h-8zM562 372h32v4h-32zM614 372h20v4h-20zM642 372h24v4h-24zM678 372h48v4h-48zM558 376h8v4h-8zM574 376h24v4h-24zM610 376h12v4h-12zM646 376h20v4h-20zM682 376h12v4h-12zM710 376h12v4h-12zM554 380h8v4h-8zM582 380h36v4h-36zM658 380h12v4h-12zM550 384h8v4h-8zM590 384h28v4h-28zM662 384h16v4h-16zM546 388h16v4h-16zM594 388h20v4h-20zM662 388h20v4h-20zM1086 388h16v4h-16zM542 392h20v4h-20zM602 392h12v4h-12zM666 392h16v4h-16zM1066 392h8v4h-8zM1122 392h4v4h-4zM458 396h8v4h-8zM490 396h8v4h-8zM538 396h40v4h-40zM622 396h12v4h-12zM666 396h12v4h-12zM1058 396h4v4h-4zM1126 396h4v4h-4zM450 400h4v4h-4zM498 400h4v4h-4zM514 400h28v4h-28zM554 400h28v4h-28zM618 400h16v4h-16zM1054 400h4v4h-4zM1206 400h8v4h-8zM190 404h48v4h-48zM442 404h4v4h-4zM502 404h36v4h-36zM558 404h24v4h-24zM618 404h20v4h-20zM1046 404h4v4h-4zM1206 404h12v4h-12zM266 408h8v4h-8zM298 408h8v4h-8zM422 408h4v4h-4zM562 408h16v4h-16zM622 408h8v4h-8zM1126 408h4v4h-4zM1210 408h4v4h-4zM326 412h16v4h-16zM418 412h4v4h-4zM1038 412h4v4h-4zM1126 412h4v4h-4zM338 416h12v4h-12zM414 416h4v4h-4zM1034 416h4v4h-4zM1118 416h4v4h-4zM346 420h4v4h-4zM394 420h20v4h-20zM1034 420h4v4h-4zM1094 420h4v4h-4zM350 424h8v4h-8zM394 424h8v4h-8zM1086 424h4v4h-4zM354 428h24v4h-24zM394 428h8v4h-8zM1030 428h4v4h-4zM1082 428h4v4h-4zM370 432h12v4h-12zM394 432h8v4h-8zM1030 432h4v4h-4zM374 436h8v4h-8zM394 436h4v4h-4zM1026 436h4v4h-4zM1078 436h4v4h-4zM374 440h8v4h-8zM390 440h8v4h-8zM482 440h16v4h-16zM1030 440h4v4h-4zM1074 440h4v4h-4zM374 444h8v4h-8zM386 444h8v4h-8zM482 444h16v4h-16zM1034 444h4v4h-4zM1070 444h4v4h-4zM374 448h16v4h-16zM482 448h16v4h-16zM1042 448h4v4h-4zM1058 448h8v4h-8zM378 452h8v4h-8zM482 452h4v4h-4zM490 452h8v4h-8zM482 456h4v4h-4zM490 456h8v4h-8zM482 460h16v4h-16zM482 464h16v4h-16zM486 468h16v4h-16zM406 472h28v4h-28zM370 476h8v4h-8zM402 476h20v4h-20zM426 476h20v4h-20zM370 480h8v4h-8zM398 480h20v4h-20zM446 480h12v4h-12zM466 480h4v4h-4zM490 480h4v4h-4zM374 484h8v4h-8zM398 484h16v4h-16zM450 484h8v4h-8zM466 484h8v4h-8zM486 484h16v4h-16zM514 484h8v4h-8zM378 488h4v4h-4zM394 488h20v4h-20zM450 488h8v4h-8zM482 488h12v4h-12zM502 488h4v4h-4zM526 488h12v4h-12zM590 488h20v4h-20zM390 492h20v4h-20zM450 492h4v4h-4zM482 492h8v4h-8zM534 492h8v4h-8zM574 492h16v4h-16zM610 492h16v4h-16zM386 496h12v4h-12zM450 496h4v4h-4zM482 496h4v4h-4zM538 496h12v4h-12zM570 496h4v4h-4zM622 496h8v4h-8zM1194 496h4v4h-4zM382 500h12v4h-12zM414 500h12v4h-12zM450 500h4v4h-4zM478 500h4v4h-4zM550 500h16v4h-16zM630 500h4v4h-4zM1182 500h4v4h-4zM262 504h16v4h-16zM302 504h12v4h-12zM378 504h12v4h-12zM414 504h12v4h-12zM454 504h12v4h-12zM470 504h8v4h-8zM630 504h8v4h-8zM730 504h12v4h-12zM258 508h8v4h-8zM278 508h8v4h-8zM298 508h8v4h-8zM310 508h8v4h-8zM374 508h12v4h-12zM630 508h8v4h-8zM702 508h28v4h-28zM742 508h4v4h-4zM250 512h8v4h-8zM282 512h16v4h-16zM314 512h4v4h-4zM374 512h8v4h-8zM630 512h8v4h-8zM694 512h4v4h-4zM746 512h4v4h-4zM242 516h8v4h-8zM290 516h4v4h-4zM318 516h4v4h-4zM370 516h8v4h-8zM630 516h4v4h-4zM690 516h4v4h-4zM746 516h8v4h-8zM1170 516h4v4h-4zM238 520h4v4h-4zM322 520h4v4h-4zM626 520h4v4h-4zM750 520h8v4h-8zM234 524h4v4h-4zM326 524h8v4h-8zM366 524h4v4h-4zM626 524h4v4h-4zM678 524h4v4h-4zM754 524h8v4h-8zM222 528h8v4h-8zM334 528h4v4h-4zM362 528h4v4h-4zM626 528h4v4h-4zM758 528h8v4h-8zM1166 528h4v4h-4zM218 532h4v4h-4zM342 532h4v4h-4zM358 532h4v4h-4zM626 532h8v4h-8zM670 532h4v4h-4zM766 532h4v4h-4zM1166 532h4v4h-4zM214 536h4v4h-4zM642 536h20v4h-20zM774 536h8v4h-8zM1146 536h16v4h-16zM198 540h12v4h-12zM790 540h8v4h-8zM1122 540h4v4h-4zM194 544h4v4h-4zM826 544h28v4h-28zM1110 544h4v4h-4zM186 548h8v4h-8zM866 548h16v4h-16zM902 548h20v4h-20zM958 548h12v4h-12zM1102 548h4v4h-4zM178 552h8v4h-8zM990 552h4v4h-4zM1094 552h8v4h-8zM178 556h4v4h-4zM1002 556h4v4h-4zM1082 556h12v4h-12zM178 560h4v4h-4zM1014 560h4v4h-4zM1046 560h16v4h-16zM174 564h8v4h-8zM1018 564h4v4h-4zM1038 564h4v4h-4zM1090 564h4v4h-4zM174 568h4v4h-4zM1022 568h4v4h-4zM1034 568h4v4h-4zM1082 568h24v4h-24zM1022 572h16v4h-16zM1066 572h16v4h-16zM1106 572h8v4h-8zM302 576h4v4h-4zM1026 576h12v4h-12zM1062 576h8v4h-8zM1118 576h4v4h-4zM190 580h32v4h-32zM298 580h16v4h-16zM1058 580h8v4h-8zM1126 580h8v4h-8zM174 584h4v4h-4zM186 584h12v4h-12zM202 584h28v4h-28zM298 584h16v4h-16zM1050 584h12v4h-12zM1146 584h4v4h-4zM174 588h20v4h-20zM230 588h12v4h-12zM302 588h12v4h-12zM330 588h8v4h-8zM1046 588h12v4h-12zM1154 588h4v4h-4zM174 592h16v4h-16zM234 592h12v4h-12zM286 592h8v4h-8zM302 592h12v4h-12zM330 592h4v4h-4zM1046 592h4v4h-4zM1158 592h4v4h-4zM178 596h16v4h-16zM234 596h12v4h-12zM286 596h4v4h-4zM298 596h16v4h-16zM1046 596h4v4h-4zM1158 596h4v4h-4zM174 600h28v4h-28zM226 600h20v4h-20zM298 600h12v4h-12zM1046 600h4v4h-4zM1158 600h4v4h-4zM174 604h68v4h-68zM1042 604h8v4h-8zM1158 604h4v4h-4zM182 608h60v4h-60zM1042 608h12v4h-12zM1158 608h4v4h-4zM198 612h48v4h-48zM266 612h24v4h-24zM970 612h36v4h-36zM1042 612h12v4h-12zM206 616h56v4h-56zM286 616h8v4h-8zM366 616h8v4h-8zM970 616h40v4h-40zM1042 616h12v4h-12zM1154 616h4v4h-4zM222 620h16v4h-16zM294 620h4v4h-4zM334 620h32v4h-32zM374 620h8v4h-8zM970 620h40v4h-40zM1046 620h8v4h-8zM1150 620h4v4h-4zM298 624h28v4h-28zM330 624h12v4h-12zM382 624h12v4h-12zM970 624h36v4h-36zM1046 624h12v4h-12zM1146 624h8v4h-8zM322 628h12v4h-12zM394 628h4v4h-4zM978 628h28v4h-28zM1058 628h8v4h-8zM1118 628h28v4h-28zM398 632h12v4h-12zM982 632h24v4h-24zM1062 632h20v4h-20zM1114 632h8v4h-8zM406 636h8v4h-8zM986 636h20v4h-20zM1070 636h24v4h-24zM1102 636h16v4h-16zM414 640h8v4h-8zM1090 640h16v4h-16zM414 644h8v4h-8zM414 648h8v4h-8zM410 652h8v4h-8zM406 656h12v4h-12zM406 660h12v4h-12zM406 664h12v4h-12zM1182 664h8v4h-8zM406 668h12v4h-12zM1158 668h24v4h-24zM1190 668h4v4h-4zM402 672h20v4h-20zM1154 672h20v4h-20zM402 676h24v4h-24zM1154 676h20v4h-20zM1190 676h4v4h-4zM406 680h4v4h-4zM422 680h20v4h-20zM1158 680h32v4h-32z"/>
<path fill="#ffd000" d="M854 284h4v4h-4zM1130 284h4v4h-4zM854 288h4v4h-4zM1090 288h24v4h-24zM854 292h4v4h-4zM1090 292h4v4h-4zM1114 292h4v4h-4zM854 296h4v4h-4zM1090 296h4v4h-4zM1118 296h4v4h-4zM850 300h4v4h-4zM1118 300h4v4h-4zM842 304h8v4h-8zM1094 304h4v4h-4zM1122 304h4v4h-4zM830 308h16v4h-16zM1098 308h4v4h-4zM1126 308h20v4h-20zM806 312h32v4h-32zM1006 312h4v4h-4zM1102 312h4v4h-4zM1138 312h12v4h-12zM806 316h4v4h-4zM1110 316h4v4h-4zM1142 316h12v4h-12zM802 320h8v4h-8zM1010 320h4v4h-4zM1114 320h4v4h-4zM1146 320h12v4h-12zM802 324h4v4h-4zM1118 324h4v4h-4zM1150 324h8v4h-8zM790 328h12v4h-12zM1122 328h4v4h-4zM1150 328h4v4h-4zM782 332h12v4h-12zM1126 332h8v4h-8zM1146 332h8v4h-8zM778 336h8v4h-8zM1006 336h4v4h-4zM1134 336h16v4h-16zM774 340h4v4h-4zM770 344h4v4h-4zM762 348h4v4h-4zM750 352h12v4h-12zM742 356h4v4h-4zM734 360h8v4h-8zM730 364h12v4h-12zM730 368h8v4h-8zM1166 368h4v4h-4zM634 372h8v4h-8zM666 372h12v4h-12zM726 372h12v4h-12zM1158 372h16v4h-16zM566 376h8v4h-8zM622 376h24v4h-24zM666 376h16v4h-16zM694 376h16v4h-16zM722 376h12v4h-12zM1158 376h16v4h-16zM562 380h20v4h-20zM618 380h16v4h-16zM638 380h20v4h-20zM670 380h56v4h-56zM558 384h32v4h-32zM618 384h12v4h-12zM642 384h20v4h-20zM678 384h40v4h-40zM562 388h32v4h-32zM614 388h28v4h-28zM658 388h4v4h-4zM682 388h16v4h-16zM1074 388h12v4h-12zM1102 388h16v4h-16zM562 392h40v4h-40zM614 392h28v4h-28zM662 392h4v4h-4zM682 392h16v4h-16zM1062 392h4v4h-4zM1126 392h4v4h-4zM466 396h24v4h-24zM578 396h44v4h-44zM634 396h8v4h-8zM662 396h4v4h-4zM678 396h20v4h-20zM1054 396h4v4h-4zM1130 396h4v4h-4zM1202 396h16v4h-16zM454 400h8v4h-8zM478 400h8v4h-8zM490 400h8v4h-8zM542 400h12v4h-12zM582 400h36v4h-36zM634 400h12v4h-12zM662 400h32v4h-32zM1046 400h8v4h-8zM1202 400h4v4h-4zM1214 400h4v4h-4zM446 404h4v4h-4zM498 404h4v4h-4zM538 404h20v4h-20zM582 404h36v4h-36zM638 404h12v4h-12zM662 404h28v4h-28zM1042 404h4v4h-4zM1202 404h4v4h-4zM1218 404h4v4h-4zM254 408h12v4h-12zM274 408h24v4h-24zM426 408h12v4h-12zM498 408h64v4h-64zM578 408h12v4h-12zM610 408h12v4h-12zM630 408h20v4h-20zM658 408h16v4h-16zM1038 408h4v4h-4zM1206 408h4v4h-4zM1214 408h4v4h-4zM306 412h20v4h-20zM422 412h4v4h-4zM502 412h36v4h-36zM558 412h24v4h-24zM614 412h56v4h-56zM1034 412h4v4h-4zM326 416h12v4h-12zM418 416h4v4h-4zM518 416h12v4h-12zM562 416h12v4h-12zM654 416h16v4h-16zM1122 416h4v4h-4zM330 420h16v4h-16zM414 420h4v4h-4zM658 420h12v4h-12zM1030 420h4v4h-4zM1098 420h4v4h-4zM342 424h8v4h-8zM402 424h12v4h-12zM662 424h8v4h-8zM682 424h12v4h-12zM1030 424h4v4h-4zM290 428h4v4h-4zM346 428h8v4h-8zM402 428h8v4h-8zM482 428h8v4h-8zM666 428h28v4h-28zM1026 428h4v4h-4zM286 432h16v4h-16zM350 432h20v4h-20zM402 432h4v4h-4zM478 432h20v4h-20zM646 432h8v4h-8zM670 432h24v4h-24zM1026 432h4v4h-4zM286 436h20v4h-20zM354 436h4v4h-4zM362 436h12v4h-12zM398 436h8v4h-8zM474 436h28v4h-28zM646 436h12v4h-12zM674 436h16v4h-16zM1022 436h4v4h-4zM286 440h20v4h-20zM366 440h8v4h-8zM398 440h12v4h-12zM474 440h8v4h-8zM498 440h4v4h-4zM646 440h12v4h-12zM1022 440h8v4h-8zM1222 440h4v4h-4zM294 444h12v4h-12zM370 444h4v4h-4zM394 444h16v4h-16zM474 444h8v4h-8zM498 444h4v4h-4zM646 444h12v4h-12zM1026 444h8v4h-8zM298 448h4v4h-4zM370 448h4v4h-4zM390 448h20v4h-20zM474 448h8v4h-8zM498 448h4v4h-4zM646 448h12v4h-12zM1034 448h8v4h-8zM1066 448h4v4h-4zM374 452h4v4h-4zM386 452h20v4h-20zM474 452h8v4h-8zM498 452h4v4h-4zM642 452h12v4h-12zM374 456h28v4h-28zM478 456h4v4h-4zM498 456h4v4h-4zM374 460h28v4h-28zM478 460h4v4h-4zM498 460h4v4h-4zM374 464h36v4h-36zM418 464h8v4h-8zM454 464h8v4h-8zM474 464h8v4h-8zM498 464h8v4h-8zM354 468h84v4h-84zM450 468h16v4h-16zM474 468h12v4h-12zM502 468h8v4h-8zM354 472h52v4h-52zM434 472h76v4h-76zM354 476h16v4h-16zM378 476h24v4h-24zM446 476h60v4h-60zM542 476h4v4h-4zM590 476h12v4h-12zM358 480h12v4h-12zM378 480h20v4h-20zM458 480h8v4h-8zM470 480h20v4h-20zM494 480h28v4h-28zM538 480h12v4h-12zM590 480h16v4h-16zM362 484h12v4h-12zM382 484h16v4h-16zM458 484h8v4h-8zM474 484h12v4h-12zM502 484h12v4h-12zM522 484h32v4h-32zM586 484h32v4h-32zM366 488h12v4h-12zM382 488h12v4h-12zM458 488h24v4h-24zM538 488h16v4h-16zM574 488h16v4h-16zM610 488h20v4h-20zM370 492h20v4h-20zM454 492h28v4h-28zM542 492h12v4h-12zM566 492h8v4h-8zM626 492h8v4h-8zM374 496h12v4h-12zM454 496h8v4h-8zM466 496h16v4h-16zM550 496h20v4h-20zM630 496h8v4h-8zM262 500h20v4h-20zM302 500h12v4h-12zM374 500h8v4h-8zM454 500h24v4h-24zM634 500h12v4h-12zM710 500h40v4h-40zM254 504h8v4h-8zM278 504h8v4h-8zM294 504h8v4h-8zM314 504h4v4h-4zM370 504h8v4h-8zM466 504h4v4h-4zM638 504h12v4h-12zM698 504h32v4h-32zM742 504h20v4h-20zM250 508h8v4h-8zM286 508h12v4h-12zM318 508h4v4h-4zM370 508h4v4h-4zM638 508h8v4h-8zM694 508h8v4h-8zM746 508h16v4h-16zM242 512h8v4h-8zM318 512h4v4h-4zM370 512h4v4h-4zM638 512h8v4h-8zM690 512h4v4h-4zM750 512h16v4h-16zM1170 512h4v4h-4zM238 516h4v4h-4zM322 516h4v4h-4zM634 516h8v4h-8zM686 516h4v4h-4zM754 516h16v4h-16zM234 520h4v4h-4zM326 520h4v4h-4zM366 520h4v4h-4zM630 520h12v4h-12zM682 520h4v4h-4zM758 520h16v4h-16zM226 524h8v4h-8zM334 524h4v4h-4zM362 524h4v4h-4zM630 524h8v4h-8zM762 524h12v4h-12zM1166 524h4v4h-4zM218 528h4v4h-4zM338 528h4v4h-4zM358 528h4v4h-4zM630 528h8v4h-8zM674 528h4v4h-4zM766 528h12v4h-12zM214 532h4v4h-4zM346 532h12v4h-12zM634 532h20v4h-20zM666 532h4v4h-4zM770 532h12v4h-12zM1162 532h4v4h-4zM198 536h16v4h-16zM782 536h4v4h-4zM1138 536h8v4h-8zM194 540h4v4h-4zM798 540h20v4h-20zM1118 540h4v4h-4zM174 544h4v4h-4zM186 544h8v4h-8zM854 544h12v4h-12zM1106 544h4v4h-4zM174 548h12v4h-12zM922 548h36v4h-36zM970 548h20v4h-20zM1098 548h4v4h-4zM174 552h4v4h-4zM994 552h4v4h-4zM1086 552h8v4h-8zM174 556h4v4h-4zM1006 556h8v4h-8zM1058 556h24v4h-24zM174 560h4v4h-4zM1018 560h4v4h-4zM1038 560h8v4h-8zM1022 564h16v4h-16zM1026 568h8v4h-8zM1082 572h24v4h-24zM1070 576h12v4h-12zM1110 576h8v4h-8zM1066 580h8v4h-8zM1122 580h4v4h-4zM198 584h4v4h-4zM1062 584h8v4h-8zM1130 584h16v4h-16zM194 588h36v4h-36zM1058 588h8v4h-8zM1150 588h4v4h-4zM190 592h44v4h-44zM1050 592h12v4h-12zM1154 592h4v4h-4zM194 596h40v4h-40zM1050 596h8v4h-8zM1154 596h4v4h-4zM202 600h24v4h-24zM1050 600h8v4h-8zM1050 604h8v4h-8zM174 608h8v4h-8zM1054 608h8v4h-8zM1154 608h4v4h-4zM174 612h24v4h-24zM1054 612h8v4h-8zM1154 612h4v4h-4zM182 616h24v4h-24zM262 616h24v4h-24zM1054 616h8v4h-8zM1150 616h4v4h-4zM194 620h28v4h-28zM238 620h12v4h-12zM270 620h24v4h-24zM366 620h8v4h-8zM1054 620h8v4h-8zM1122 620h8v4h-8zM1146 620h4v4h-4zM214 624h24v4h-24zM278 624h4v4h-4zM290 624h8v4h-8zM342 624h24v4h-24zM374 624h8v4h-8zM1058 624h8v4h-8zM1114 624h32v4h-32zM218 628h12v4h-12zM302 628h20v4h-20zM334 628h24v4h-24zM382 628h12v4h-12zM1066 628h16v4h-16zM1110 628h8v4h-8zM322 632h32v4h-32zM390 632h8v4h-8zM1082 632h12v4h-12zM1102 632h12v4h-12zM330 636h12v4h-12zM398 636h8v4h-8zM1094 636h8v4h-8zM402 640h12v4h-12zM406 644h8v4h-8zM406 648h8v4h-8zM402 652h8v4h-8zM398 656h8v4h-8zM398 660h8v4h-8zM398 664h8v4h-8zM398 668h8v4h-8zM1182 668h8v4h-8zM398 672h4v4h-4zM1174 672h12v4h-12zM1190 672h4v4h-4zM398 676h4v4h-4zM1174 676h16v4h-16zM398 680h8v4h-8zM410 680h12v4h-12z"/>
<path fill="#ffc900" d="M858 284h4v4h-4zM1078 284h20v4h-20zM1110 284h20v4h-20zM1134 284h8v4h-8zM1166 284h8v4h-8zM858 288h4v4h-4zM1086 288h4v4h-4zM1114 288h12v4h-12zM1166 288h4v4h-4zM858 292h4v4h-4zM1086 292h4v4h-4zM1118 292h4v4h-4zM858 296h4v4h-4zM1122 296h4v4h-4zM854 300h4v4h-4zM1090 300h4v4h-4zM1122 300h4v4h-4zM850 304h8v4h-8zM1126 304h24v4h-24zM846 308h4v4h-4zM1146 308h8v4h-8zM838 312h8v4h-8zM1002 312h4v4h-4zM1150 312h8v4h-8zM810 316h28v4h-28zM1010 316h4v4h-4zM1106 316h4v4h-4zM1154 316h8v4h-8zM810 320h12v4h-12zM1110 320h4v4h-4zM1158 320h4v4h-4zM806 324h12v4h-12zM1114 324h4v4h-4zM1158 324h4v4h-4zM802 328h12v4h-12zM1118 328h4v4h-4zM1154 328h8v4h-8zM1198 328h12v4h-12zM794 332h12v4h-12zM1010 332h4v4h-4zM1122 332h4v4h-4zM1154 332h4v4h-4zM1198 332h16v4h-16zM786 336h12v4h-12zM1002 336h4v4h-4zM1126 336h8v4h-8zM1150 336h8v4h-8zM1202 336h12v4h-12zM778 340h12v4h-12zM1138 340h16v4h-16zM1202 340h16v4h-16zM774 344h4v4h-4zM1206 344h16v4h-16zM766 348h8v4h-8zM1206 348h16v4h-16zM762 352h8v4h-8zM746 356h20v4h-20zM742 360h16v4h-16zM742 364h8v4h-8zM1158 364h16v4h-16zM738 368h12v4h-12zM1154 368h12v4h-12zM1170 368h8v4h-8zM738 372h12v4h-12zM1154 372h4v4h-4zM1174 372h8v4h-8zM734 376h16v4h-16zM1150 376h8v4h-8zM1174 376h8v4h-8zM634 380h4v4h-4zM726 380h24v4h-24zM1154 380h24v4h-24zM630 384h12v4h-12zM718 384h36v4h-36zM1082 384h16v4h-16zM642 388h16v4h-16zM698 388h24v4h-24zM734 388h20v4h-20zM766 388h4v4h-4zM1066 388h8v4h-8zM1118 388h8v4h-8zM642 392h20v4h-20zM698 392h16v4h-16zM738 392h16v4h-16zM762 392h8v4h-8zM1058 392h4v4h-4zM1130 392h4v4h-4zM1202 392h16v4h-16zM642 396h8v4h-8zM658 396h4v4h-4zM698 396h8v4h-8zM738 396h16v4h-16zM1050 396h4v4h-4zM1198 396h4v4h-4zM1218 396h4v4h-4zM462 400h16v4h-16zM486 400h4v4h-4zM646 400h16v4h-16zM694 400h8v4h-8zM738 400h16v4h-16zM1042 400h4v4h-4zM1130 400h4v4h-4zM1198 400h4v4h-4zM1218 400h4v4h-4zM450 404h12v4h-12zM470 404h28v4h-28zM650 404h12v4h-12zM690 404h12v4h-12zM742 404h12v4h-12zM1038 404h4v4h-4zM1130 404h4v4h-4zM1198 404h4v4h-4zM174 408h8v4h-8zM206 408h48v4h-48zM438 408h12v4h-12zM478 408h8v4h-8zM494 408h4v4h-4zM590 408h20v4h-20zM650 408h8v4h-8zM674 408h24v4h-24zM1034 408h4v4h-4zM1202 408h4v4h-4zM1218 408h4v4h-4zM266 412h40v4h-40zM426 412h4v4h-4zM478 412h4v4h-4zM498 412h4v4h-4zM538 412h20v4h-20zM582 412h32v4h-32zM670 412h28v4h-28zM1210 412h8v4h-8zM306 416h20v4h-20zM422 416h4v4h-4zM498 416h20v4h-20zM530 416h32v4h-32zM574 416h28v4h-28zM610 416h44v4h-44zM670 416h28v4h-28zM1030 416h4v4h-4zM314 420h16v4h-16zM418 420h4v4h-4zM478 420h8v4h-8zM502 420h40v4h-40zM554 420h20v4h-20zM634 420h24v4h-24zM670 420h32v4h-32zM1102 420h8v4h-8zM270 424h28v4h-28zM314 424h28v4h-28zM414 424h8v4h-8zM474 424h20v4h-20zM518 424h24v4h-24zM554 424h16v4h-16zM634 424h28v4h-28zM670 424h12v4h-12zM694 424h36v4h-36zM1026 424h4v4h-4zM1090 424h4v4h-4zM262 428h28v4h-28zM294 428h52v4h-52zM410 428h8v4h-8zM470 428h12v4h-12zM490 428h12v4h-12zM522 428h24v4h-24zM550 428h16v4h-16zM634 428h32v4h-32zM694 428h40v4h-40zM738 428h4v4h-4zM758 428h8v4h-8zM1022 428h4v4h-4zM1086 428h4v4h-4zM258 432h28v4h-28zM302 432h32v4h-32zM342 432h8v4h-8zM406 432h8v4h-8zM466 432h12v4h-12zM498 432h8v4h-8zM538 432h20v4h-20zM634 432h12v4h-12zM654 432h16v4h-16zM694 432h40v4h-40zM738 432h32v4h-32zM1022 432h4v4h-4zM1082 432h4v4h-4zM262 436h4v4h-4zM274 436h12v4h-12zM306 436h28v4h-28zM342 436h12v4h-12zM358 436h4v4h-4zM406 436h8v4h-8zM466 436h8v4h-8zM502 436h4v4h-4zM546 436h8v4h-8zM634 436h12v4h-12zM658 436h16v4h-16zM690 436h40v4h-40zM738 436h36v4h-36zM1018 436h4v4h-4zM1226 436h4v4h-4zM282 440h4v4h-4zM306 440h8v4h-8zM322 440h8v4h-8zM346 440h20v4h-20zM410 440h8v4h-8zM466 440h8v4h-8zM502 440h8v4h-8zM634 440h12v4h-12zM658 440h36v4h-36zM718 440h8v4h-8zM742 440h32v4h-32zM1018 440h4v4h-4zM1078 440h4v4h-4zM286 444h8v4h-8zM306 444h4v4h-4zM346 444h24v4h-24zM410 444h8v4h-8zM470 444h4v4h-4zM502 444h8v4h-8zM634 444h12v4h-12zM658 444h32v4h-32zM742 444h32v4h-32zM1018 444h8v4h-8zM1074 444h4v4h-4zM290 448h8v4h-8zM302 448h8v4h-8zM346 448h24v4h-24zM410 448h8v4h-8zM470 448h4v4h-4zM502 448h4v4h-4zM634 448h12v4h-12zM658 448h20v4h-20zM742 448h16v4h-16zM1022 448h12v4h-12zM1070 448h4v4h-4zM298 452h8v4h-8zM346 452h16v4h-16zM366 452h8v4h-8zM406 452h16v4h-16zM466 452h8v4h-8zM502 452h4v4h-4zM598 452h4v4h-4zM634 452h8v4h-8zM654 452h16v4h-16zM742 452h16v4h-16zM1038 452h20v4h-20zM350 456h24v4h-24zM402 456h24v4h-24zM458 456h20v4h-20zM502 456h4v4h-4zM594 456h12v4h-12zM630 456h36v4h-36zM742 456h16v4h-16zM1214 456h4v4h-4zM350 460h24v4h-24zM402 460h28v4h-28zM450 460h28v4h-28zM502 460h4v4h-4zM594 460h16v4h-16zM634 460h28v4h-28zM746 460h4v4h-4zM350 464h24v4h-24zM410 464h8v4h-8zM426 464h28v4h-28zM462 464h12v4h-12zM506 464h8v4h-8zM586 464h28v4h-28zM634 464h24v4h-24zM726 464h12v4h-12zM350 468h4v4h-4zM438 468h12v4h-12zM466 468h8v4h-8zM510 468h8v4h-8zM538 468h8v4h-8zM582 468h32v4h-32zM634 468h20v4h-20zM726 468h12v4h-12zM346 472h8v4h-8zM510 472h12v4h-12zM538 472h12v4h-12zM582 472h32v4h-32zM650 472h4v4h-4zM730 472h4v4h-4zM342 476h12v4h-12zM506 476h20v4h-20zM534 476h8v4h-8zM546 476h12v4h-12zM578 476h12v4h-12zM602 476h12v4h-12zM654 476h4v4h-4zM706 476h8v4h-8zM334 480h24v4h-24zM522 480h16v4h-16zM550 480h12v4h-12zM570 480h20v4h-20zM606 480h20v4h-20zM654 480h8v4h-8zM698 480h28v4h-28zM334 484h28v4h-28zM554 484h32v4h-32zM618 484h20v4h-20zM658 484h8v4h-8zM698 484h32v4h-32zM334 488h12v4h-12zM358 488h8v4h-8zM554 488h20v4h-20zM630 488h8v4h-8zM694 488h40v4h-40zM742 488h12v4h-12zM254 492h16v4h-16zM358 492h12v4h-12zM554 492h12v4h-12zM634 492h8v4h-8zM694 492h68v4h-68zM1202 492h4v4h-4zM254 496h28v4h-28zM302 496h16v4h-16zM362 496h12v4h-12zM462 496h4v4h-4zM638 496h16v4h-16zM694 496h76v4h-76zM250 500h12v4h-12zM282 500h20v4h-20zM314 500h8v4h-8zM366 500h8v4h-8zM646 500h12v4h-12zM690 500h20v4h-20zM750 500h20v4h-20zM810 500h4v4h-4zM250 504h4v4h-4zM286 504h8v4h-8zM318 504h8v4h-8zM366 504h4v4h-4zM650 504h8v4h-8zM690 504h8v4h-8zM762 504h8v4h-8zM806 504h12v4h-12zM1174 504h4v4h-4zM246 508h4v4h-4zM322 508h4v4h-4zM366 508h4v4h-4zM646 508h12v4h-12zM690 508h4v4h-4zM762 508h12v4h-12zM806 508h16v4h-16zM238 512h4v4h-4zM322 512h4v4h-4zM366 512h4v4h-4zM646 512h4v4h-4zM686 512h4v4h-4zM766 512h12v4h-12zM810 512h8v4h-8zM234 516h4v4h-4zM326 516h4v4h-4zM366 516h4v4h-4zM642 516h8v4h-8zM682 516h4v4h-4zM770 516h8v4h-8zM230 520h4v4h-4zM330 520h4v4h-4zM362 520h4v4h-4zM642 520h8v4h-8zM678 520h4v4h-4zM774 520h8v4h-8zM1166 520h4v4h-4zM218 524h8v4h-8zM338 524h4v4h-4zM638 524h16v4h-16zM674 524h4v4h-4zM774 524h8v4h-8zM214 528h4v4h-4zM342 528h8v4h-8zM354 528h4v4h-4zM638 528h20v4h-20zM670 528h4v4h-4zM778 528h8v4h-8zM1162 528h4v4h-4zM206 532h8v4h-8zM654 532h12v4h-12zM782 532h4v4h-4zM1158 532h4v4h-4zM194 536h4v4h-4zM786 536h20v4h-20zM1122 536h16v4h-16zM174 540h4v4h-4zM186 540h8v4h-8zM818 540h36v4h-36zM1110 540h8v4h-8zM178 544h8v4h-8zM866 544h60v4h-60zM958 544h12v4h-12zM1102 544h4v4h-4zM990 548h4v4h-4zM1094 548h4v4h-4zM998 552h8v4h-8zM1078 552h8v4h-8zM1014 556h4v4h-4zM1046 556h12v4h-12zM1022 560h16v4h-16zM1082 576h28v4h-28zM1074 580h8v4h-8zM1114 580h8v4h-8zM1070 584h4v4h-4zM1122 584h8v4h-8zM1066 588h4v4h-4zM1130 588h20v4h-20zM1062 592h8v4h-8zM1150 592h4v4h-4zM1058 596h12v4h-12zM1150 596h4v4h-4zM1058 600h12v4h-12zM1154 600h4v4h-4zM1222 600h4v4h-4zM1058 604h12v4h-12zM1154 604h4v4h-4zM1062 608h4v4h-4zM1150 608h4v4h-4zM1062 612h4v4h-4zM1150 612h4v4h-4zM174 616h8v4h-8zM1062 616h4v4h-4zM1118 616h16v4h-16zM1146 616h4v4h-4zM182 620h12v4h-12zM250 620h20v4h-20zM1062 620h8v4h-8zM1114 620h8v4h-8zM1130 620h16v4h-16zM190 624h24v4h-24zM238 624h8v4h-8zM266 624h12v4h-12zM282 624h8v4h-8zM366 624h8v4h-8zM1066 624h16v4h-16zM1110 624h4v4h-4zM210 628h8v4h-8zM230 628h8v4h-8zM274 628h12v4h-12zM294 628h8v4h-8zM358 628h24v4h-24zM1082 628h8v4h-8zM1102 628h8v4h-8zM218 632h12v4h-12zM306 632h16v4h-16zM354 632h8v4h-8zM378 632h12v4h-12zM1094 632h8v4h-8zM310 636h20v4h-20zM342 636h16v4h-16zM386 636h12v4h-12zM326 640h28v4h-28zM390 640h12v4h-12zM342 644h8v4h-8zM394 644h12v4h-12zM394 648h12v4h-12zM394 652h8v4h-8zM394 656h4v4h-4zM394 660h4v4h-4zM394 664h4v4h-4zM394 668h4v4h-4zM394 672h4v4h-4zM1186 672h4v4h-4zM394 676h4v4h-4zM394 680h4v4h-4z"/>
<path fill="#ffc300" d="M862 284h4v4h-4zM1074 284h4v4h-4zM1098 284h12v4h-12zM1142 284h4v4h-4zM1158 284h8v4h-8zM1174 284h32v4h-32zM862 288h8v4h-8zM1082 288h4v4h-4zM1126 288h20v4h-20zM1158 288h8v4h-8zM1170 288h40v4h-40zM862 292h4v4h-4zM1122 292h8v4h-8zM1134 292h8v4h-8zM1154 292h56v4h-56zM862 296h4v4h-4zM1086 296h4v4h-4zM1126 296h4v4h-4zM1154 296h60v4h-60zM858 300h4v4h-4zM1126 300h52v4h-52zM1186 300h24v4h-24zM858 304h4v4h-4zM1090 304h4v4h-4zM1150 304h24v4h-24zM1194 304h4v4h-4zM850 308h8v4h-8zM1006 308h4v4h-4zM1094 308h4v4h-4zM1154 308h20v4h-20zM846 312h4v4h-4zM1010 312h4v4h-4zM1098 312h4v4h-4zM1158 312h16v4h-16zM1194 312h8v4h-8zM838 316h8v4h-8zM1102 316h4v4h-4zM1162 316h16v4h-16zM1190 316h16v4h-16zM822 320h20v4h-20zM998 320h4v4h-4zM1106 320h4v4h-4zM1162 320h16v4h-16zM1190 320h20v4h-20zM818 324h20v4h-20zM998 324h4v4h-4zM1110 324h4v4h-4zM1162 324h16v4h-16zM1190 324h24v4h-24zM814 328h8v4h-8zM998 328h4v4h-4zM1114 328h4v4h-4zM1162 328h8v4h-8zM1190 328h8v4h-8zM1210 328h8v4h-8zM806 332h12v4h-12zM1118 332h4v4h-4zM1158 332h8v4h-8zM1194 332h4v4h-4zM1214 332h4v4h-4zM798 336h12v4h-12zM1010 336h4v4h-4zM1122 336h4v4h-4zM1158 336h8v4h-8zM1194 336h8v4h-8zM1214 336h8v4h-8zM790 340h12v4h-12zM1126 340h12v4h-12zM1154 340h8v4h-8zM1166 340h12v4h-12zM1198 340h4v4h-4zM1218 340h8v4h-8zM778 344h12v4h-12zM1138 344h40v4h-40zM1198 344h8v4h-8zM1222 344h8v4h-8zM774 348h4v4h-4zM1166 348h8v4h-8zM1198 348h8v4h-8zM1222 348h8v4h-8zM770 352h4v4h-4zM1162 352h12v4h-12zM1198 352h32v4h-32zM766 356h4v4h-4zM1162 356h12v4h-12zM1202 356h28v4h-28zM758 360h12v4h-12zM1158 360h20v4h-20zM1218 360h12v4h-12zM750 364h20v4h-20zM1154 364h4v4h-4zM1174 364h8v4h-8zM1222 364h8v4h-8zM750 368h20v4h-20zM1150 368h4v4h-4zM1178 368h4v4h-4zM1222 368h8v4h-8zM750 372h24v4h-24zM1150 372h4v4h-4zM1182 372h4v4h-4zM750 376h24v4h-24zM1146 376h4v4h-4zM1182 376h8v4h-8zM750 380h24v4h-24zM1082 380h12v4h-12zM1146 380h8v4h-8zM1178 380h12v4h-12zM754 384h20v4h-20zM1070 384h12v4h-12zM1098 384h12v4h-12zM1154 384h12v4h-12zM722 388h12v4h-12zM754 388h12v4h-12zM770 388h8v4h-8zM966 388h4v4h-4zM1062 388h4v4h-4zM1126 388h12v4h-12zM1202 388h16v4h-16zM714 392h24v4h-24zM754 392h8v4h-8zM770 392h8v4h-8zM962 392h12v4h-12zM1054 392h4v4h-4zM1134 392h4v4h-4zM1198 392h4v4h-4zM1218 392h4v4h-4zM650 396h8v4h-8zM706 396h20v4h-20zM730 396h8v4h-8zM754 396h24v4h-24zM926 396h20v4h-20zM954 396h12v4h-12zM1046 396h4v4h-4zM1134 396h4v4h-4zM1194 396h4v4h-4zM702 400h20v4h-20zM730 400h8v4h-8zM754 400h24v4h-24zM922 400h24v4h-24zM1194 400h4v4h-4zM462 404h8v4h-8zM702 404h20v4h-20zM730 404h12v4h-12zM754 404h28v4h-28zM922 404h20v4h-20zM182 408h24v4h-24zM450 408h12v4h-12zM466 408h12v4h-12zM486 408h8v4h-8zM698 408h84v4h-84zM1130 408h4v4h-4zM226 412h8v4h-8zM258 412h8v4h-8zM430 412h24v4h-24zM470 412h8v4h-8zM482 412h16v4h-16zM698 412h88v4h-88zM878 412h16v4h-16zM1030 412h4v4h-4zM1206 412h4v4h-4zM1218 412h4v4h-4zM266 416h40v4h-40zM426 416h4v4h-4zM470 416h28v4h-28zM602 416h8v4h-8zM698 416h88v4h-88zM874 416h24v4h-24zM1026 416h4v4h-4zM1126 416h4v4h-4zM262 420h52v4h-52zM422 420h4v4h-4zM470 420h8v4h-8zM486 420h16v4h-16zM542 420h12v4h-12zM574 420h60v4h-60zM702 420h80v4h-80zM874 420h24v4h-24zM1026 420h4v4h-4zM262 424h8v4h-8zM298 424h16v4h-16zM422 424h4v4h-4zM466 424h8v4h-8zM494 424h24v4h-24zM542 424h12v4h-12zM570 424h8v4h-8zM610 424h24v4h-24zM730 424h52v4h-52zM874 424h24v4h-24zM950 424h12v4h-12zM1022 424h4v4h-4zM1094 424h4v4h-4zM254 428h8v4h-8zM418 428h4v4h-4zM458 428h12v4h-12zM502 428h20v4h-20zM546 428h4v4h-4zM566 428h8v4h-8zM614 428h20v4h-20zM734 428h4v4h-4zM742 428h16v4h-16zM766 428h12v4h-12zM846 428h4v4h-4zM882 428h16v4h-16zM954 428h8v4h-8zM1018 428h4v4h-4zM250 432h8v4h-8zM334 432h8v4h-8zM414 432h8v4h-8zM458 432h8v4h-8zM506 432h8v4h-8zM518 432h20v4h-20zM558 432h8v4h-8zM614 432h20v4h-20zM734 432h4v4h-4zM770 432h8v4h-8zM842 432h12v4h-12zM890 432h4v4h-4zM1014 432h8v4h-8zM1226 432h4v4h-4zM250 436h12v4h-12zM266 436h8v4h-8zM334 436h8v4h-8zM414 436h8v4h-8zM458 436h8v4h-8zM506 436h8v4h-8zM522 436h24v4h-24zM554 436h8v4h-8zM626 436h8v4h-8zM730 436h8v4h-8zM774 436h8v4h-8zM842 436h12v4h-12zM974 436h16v4h-16zM1010 436h8v4h-8zM1082 436h4v4h-4zM262 440h20v4h-20zM314 440h8v4h-8zM330 440h16v4h-16zM418 440h4v4h-4zM458 440h8v4h-8zM510 440h8v4h-8zM530 440h32v4h-32zM626 440h8v4h-8zM694 440h24v4h-24zM726 440h16v4h-16zM774 440h8v4h-8zM846 440h8v4h-8zM966 440h28v4h-28zM1006 440h12v4h-12zM278 444h8v4h-8zM310 444h36v4h-36zM418 444h12v4h-12zM458 444h12v4h-12zM510 444h12v4h-12zM534 444h28v4h-28zM602 444h12v4h-12zM622 444h12v4h-12zM690 444h52v4h-52zM774 444h12v4h-12zM966 444h52v4h-52zM1218 444h4v4h-4zM286 448h4v4h-4zM310 448h36v4h-36zM418 448h12v4h-12zM454 448h16v4h-16zM506 448h16v4h-16zM534 448h28v4h-28zM590 448h28v4h-28zM622 448h12v4h-12zM678 448h12v4h-12zM706 448h8v4h-8zM718 448h24v4h-24zM758 448h28v4h-28zM930 448h16v4h-16zM962 448h60v4h-60zM290 452h8v4h-8zM306 452h8v4h-8zM338 452h8v4h-8zM362 452h4v4h-4zM422 452h12v4h-12zM450 452h16v4h-16zM506 452h16v4h-16zM534 452h32v4h-32zM586 452h12v4h-12zM602 452h16v4h-16zM622 452h12v4h-12zM670 452h12v4h-12zM718 452h24v4h-24zM758 452h28v4h-28zM930 452h20v4h-20zM962 452h76v4h-76zM1058 452h8v4h-8zM294 456h16v4h-16zM342 456h8v4h-8zM426 456h12v4h-12zM446 456h12v4h-12zM506 456h16v4h-16zM534 456h36v4h-36zM578 456h16v4h-16zM606 456h12v4h-12zM622 456h8v4h-8zM666 456h8v4h-8zM718 456h24v4h-24zM758 456h28v4h-28zM930 456h24v4h-24zM962 456h28v4h-28zM1002 456h12v4h-12zM342 460h8v4h-8zM430 460h20v4h-20zM506 460h20v4h-20zM530 460h28v4h-28zM566 460h28v4h-28zM610 460h12v4h-12zM626 460h8v4h-8zM662 460h8v4h-8zM714 460h32v4h-32zM750 460h32v4h-32zM934 460h40v4h-40zM342 464h8v4h-8zM514 464h40v4h-40zM566 464h20v4h-20zM614 464h20v4h-20zM658 464h12v4h-12zM710 464h16v4h-16zM738 464h40v4h-40zM898 464h8v4h-8zM934 464h28v4h-28zM342 468h8v4h-8zM518 468h20v4h-20zM546 468h8v4h-8zM562 468h20v4h-20zM614 468h20v4h-20zM654 468h16v4h-16zM706 468h20v4h-20zM738 468h36v4h-36zM894 468h16v4h-16zM938 468h20v4h-20zM334 472h12v4h-12zM522 472h16v4h-16zM550 472h32v4h-32zM614 472h36v4h-36zM654 472h16v4h-16zM698 472h32v4h-32zM734 472h32v4h-32zM902 472h8v4h-8zM330 476h12v4h-12zM526 476h8v4h-8zM558 476h20v4h-20zM614 476h40v4h-40zM658 476h16v4h-16zM690 476h16v4h-16zM714 476h44v4h-44zM326 480h8v4h-8zM562 480h8v4h-8zM626 480h28v4h-28zM662 480h36v4h-36zM726 480h32v4h-32zM246 484h16v4h-16zM326 484h8v4h-8zM638 484h20v4h-20zM666 484h32v4h-32zM730 484h28v4h-28zM1210 484h4v4h-4zM246 488h28v4h-28zM310 488h24v4h-24zM346 488h12v4h-12zM638 488h56v4h-56zM734 488h8v4h-8zM754 488h16v4h-16zM246 492h8v4h-8zM270 492h88v4h-88zM642 492h52v4h-52zM762 492h12v4h-12zM802 492h16v4h-16zM246 496h8v4h-8zM282 496h20v4h-20zM318 496h20v4h-20zM354 496h8v4h-8zM654 496h40v4h-40zM770 496h20v4h-20zM794 496h28v4h-28zM1190 496h4v4h-4zM246 500h4v4h-4zM322 500h12v4h-12zM362 500h4v4h-4zM658 500h32v4h-32zM770 500h40v4h-40zM814 500h12v4h-12zM1178 500h4v4h-4zM242 504h8v4h-8zM326 504h4v4h-4zM362 504h4v4h-4zM658 504h32v4h-32zM770 504h36v4h-36zM818 504h12v4h-12zM242 508h4v4h-4zM326 508h4v4h-4zM658 508h16v4h-16zM682 508h8v4h-8zM774 508h20v4h-20zM798 508h8v4h-8zM822 508h8v4h-8zM1170 508h4v4h-4zM234 512h4v4h-4zM326 512h8v4h-8zM650 512h24v4h-24zM678 512h8v4h-8zM778 512h12v4h-12zM802 512h8v4h-8zM818 512h12v4h-12zM230 516h4v4h-4zM330 516h4v4h-4zM362 516h4v4h-4zM650 516h32v4h-32zM778 516h12v4h-12zM806 516h20v4h-20zM1166 516h4v4h-4zM222 520h8v4h-8zM334 520h8v4h-8zM650 520h12v4h-12zM670 520h8v4h-8zM782 520h8v4h-8zM810 520h8v4h-8zM214 524h4v4h-4zM342 524h4v4h-4zM358 524h4v4h-4zM654 524h8v4h-8zM670 524h4v4h-4zM782 524h8v4h-8zM174 528h4v4h-4zM210 528h4v4h-4zM350 528h4v4h-4zM658 528h12v4h-12zM786 528h4v4h-4zM174 532h4v4h-4zM194 532h12v4h-12zM786 532h8v4h-8zM1150 532h8v4h-8zM174 536h8v4h-8zM186 536h8v4h-8zM806 536h52v4h-52zM1118 536h4v4h-4zM178 540h8v4h-8zM854 540h12v4h-12zM1106 540h4v4h-4zM926 544h16v4h-16zM950 544h8v4h-8zM970 544h20v4h-20zM1094 544h8v4h-8zM994 548h4v4h-4zM1086 548h8v4h-8zM1006 552h4v4h-4zM1062 552h16v4h-16zM1018 556h8v4h-8zM1038 556h8v4h-8zM1082 580h32v4h-32zM1074 584h8v4h-8zM1114 584h8v4h-8zM1070 588h8v4h-8zM1118 588h12v4h-12zM1070 592h4v4h-4zM1122 592h28v4h-28zM1070 596h8v4h-8zM1126 596h24v4h-24zM1070 600h8v4h-8zM1126 600h28v4h-28zM1070 604h8v4h-8zM1126 604h12v4h-12zM1146 604h8v4h-8zM1066 608h8v4h-8zM1122 608h12v4h-12zM1146 608h4v4h-4zM1066 612h8v4h-8zM1114 612h36v4h-36zM1066 616h8v4h-8zM1110 616h8v4h-8zM1134 616h12v4h-12zM174 620h8v4h-8zM1070 620h12v4h-12zM1106 620h8v4h-8zM182 624h8v4h-8zM246 624h20v4h-20zM1082 624h8v4h-8zM1102 624h8v4h-8zM186 628h24v4h-24zM238 628h12v4h-12zM262 628h12v4h-12zM286 628h8v4h-8zM1090 628h12v4h-12zM210 632h8v4h-8zM230 632h12v4h-12zM274 632h12v4h-12zM294 632h12v4h-12zM362 632h16v4h-16zM214 636h20v4h-20zM302 636h8v4h-8zM358 636h28v4h-28zM302 640h24v4h-24zM354 640h36v4h-36zM306 644h4v4h-4zM326 644h16v4h-16zM350 644h8v4h-8zM382 644h12v4h-12zM338 648h20v4h-20zM386 648h8v4h-8zM342 652h12v4h-12zM386 652h8v4h-8zM390 656h4v4h-4zM390 660h4v4h-4zM390 664h4v4h-4zM390 668h4v4h-4zM390 672h4v4h-4zM386 676h8v4h-8zM346 680h8v4h-8zM386 680h8v4h-8z"/>
<path fill="#ffbd00" d="M866 284h8v4h-8zM918 284h4v4h-4zM1070 284h4v4h-4zM1146 284h12v4h-12zM1206 284h8v4h-8zM870 288h4v4h-4zM1078 288h4v4h-4zM1146 288h12v4h-12zM1210 288h4v4h-4zM866 292h8v4h-8zM1082 292h4v4h-4zM1130 292h4v4h-4zM1142 292h12v4h-12zM1210 292h8v4h-8zM866 296h8v4h-8zM1130 296h24v4h-24zM1214 296h8v4h-8zM862 300h8v4h-8zM1086 300h4v4h-4zM1178 300h8v4h-8zM1210 300h16v4h-16zM862 304h4v4h-4zM1174 304h20v4h-20zM1198 304h28v4h-28zM858 308h8v4h-8zM1002 308h4v4h-4zM1010 308h4v4h-4zM1090 308h4v4h-4zM1174 308h44v4h-44zM850 312h8v4h-8zM1094 312h4v4h-4zM1174 312h20v4h-20zM1202 312h16v4h-16zM846 316h4v4h-4zM998 316h4v4h-4zM1098 316h4v4h-4zM1178 316h12v4h-12zM1206 316h12v4h-12zM842 320h8v4h-8zM1102 320h4v4h-4zM1178 320h12v4h-12zM1210 320h8v4h-8zM838 324h8v4h-8zM1106 324h4v4h-4zM1178 324h12v4h-12zM1214 324h8v4h-8zM822 328h24v4h-24zM1110 328h4v4h-4zM1170 328h20v4h-20zM1218 328h4v4h-4zM818 332h8v4h-8zM830 332h12v4h-12zM998 332h4v4h-4zM1114 332h4v4h-4zM1166 332h28v4h-28zM1218 332h8v4h-8zM810 336h8v4h-8zM834 336h12v4h-12zM1114 336h8v4h-8zM1166 336h28v4h-28zM1222 336h8v4h-8zM802 340h12v4h-12zM834 340h12v4h-12zM1006 340h4v4h-4zM1118 340h8v4h-8zM1162 340h4v4h-4zM1178 340h20v4h-20zM1226 340h4v4h-4zM790 344h12v4h-12zM834 344h16v4h-16zM1130 344h8v4h-8zM1178 344h20v4h-20zM778 348h16v4h-16zM834 348h16v4h-16zM1138 348h28v4h-28zM1174 348h24v4h-24zM774 352h8v4h-8zM1142 352h20v4h-20zM1174 352h24v4h-24zM770 356h8v4h-8zM1150 356h12v4h-12zM1174 356h28v4h-28zM770 360h8v4h-8zM1150 360h8v4h-8zM1178 360h40v4h-40zM770 364h8v4h-8zM1146 364h8v4h-8zM1182 364h40v4h-40zM770 368h8v4h-8zM1146 368h4v4h-4zM1182 368h40v4h-40zM774 372h8v4h-8zM1146 372h4v4h-4zM1186 372h28v4h-28zM1218 372h12v4h-12zM774 376h8v4h-8zM998 376h8v4h-8zM1078 376h16v4h-16zM1142 376h4v4h-4zM1190 376h20v4h-20zM1222 376h8v4h-8zM774 380h8v4h-8zM994 380h12v4h-12zM1074 380h8v4h-8zM1094 380h12v4h-12zM1142 380h4v4h-4zM1190 380h20v4h-20zM1222 380h8v4h-8zM774 384h8v4h-8zM962 384h24v4h-24zM990 384h8v4h-8zM1062 384h8v4h-8zM1110 384h8v4h-8zM1130 384h24v4h-24zM1166 384h64v4h-64zM778 388h8v4h-8zM930 388h4v4h-4zM954 388h12v4h-12zM970 388h24v4h-24zM1054 388h8v4h-8zM1138 388h8v4h-8zM1186 388h16v4h-16zM1218 388h8v4h-8zM778 392h8v4h-8zM918 392h44v4h-44zM974 392h16v4h-16zM1046 392h8v4h-8zM1138 392h4v4h-4zM1190 392h8v4h-8zM1222 392h4v4h-4zM726 396h4v4h-4zM778 396h8v4h-8zM914 396h12v4h-12zM946 396h8v4h-8zM966 396h20v4h-20zM1042 396h4v4h-4zM1222 396h4v4h-4zM722 400h8v4h-8zM778 400h8v4h-8zM914 400h8v4h-8zM946 400h36v4h-36zM1038 400h4v4h-4zM1134 400h4v4h-4zM1222 400h4v4h-4zM722 404h8v4h-8zM782 404h4v4h-4zM914 404h8v4h-8zM942 404h24v4h-24zM1034 404h4v4h-4zM1194 404h4v4h-4zM1222 404h4v4h-4zM462 408h4v4h-4zM782 408h8v4h-8zM802 408h4v4h-4zM874 408h32v4h-32zM914 408h48v4h-48zM1030 408h4v4h-4zM1198 408h4v4h-4zM1222 408h4v4h-4zM174 412h8v4h-8zM194 412h32v4h-32zM234 412h24v4h-24zM454 412h16v4h-16zM786 412h20v4h-20zM870 412h8v4h-8zM894 412h64v4h-64zM1026 412h4v4h-4zM1130 412h4v4h-4zM1222 412h4v4h-4zM222 416h16v4h-16zM254 416h12v4h-12zM430 416h40v4h-40zM786 416h20v4h-20zM870 416h4v4h-4zM898 416h24v4h-24zM934 416h28v4h-28zM1022 416h4v4h-4zM226 420h12v4h-12zM254 420h8v4h-8zM426 420h8v4h-8zM450 420h20v4h-20zM782 420h24v4h-24zM842 420h8v4h-8zM866 420h8v4h-8zM898 420h24v4h-24zM938 420h32v4h-32zM1022 420h4v4h-4zM1110 420h8v4h-8zM222 424h40v4h-40zM426 424h4v4h-4zM450 424h16v4h-16zM578 424h32v4h-32zM782 424h24v4h-24zM838 424h36v4h-36zM898 424h24v4h-24zM942 424h8v4h-8zM962 424h12v4h-12zM978 424h16v4h-16zM1018 424h4v4h-4zM1226 424h4v4h-4zM222 428h32v4h-32zM422 428h8v4h-8zM450 428h8v4h-8zM574 428h40v4h-40zM778 428h8v4h-8zM794 428h8v4h-8zM834 428h12v4h-12zM850 428h32v4h-32zM898 428h24v4h-24zM942 428h12v4h-12zM962 428h36v4h-36zM1014 428h4v4h-4zM1226 428h4v4h-4zM222 432h28v4h-28zM422 432h16v4h-16zM446 432h12v4h-12zM514 432h4v4h-4zM566 432h12v4h-12zM606 432h8v4h-8zM778 432h8v4h-8zM794 432h8v4h-8zM830 432h12v4h-12zM854 432h36v4h-36zM894 432h12v4h-12zM910 432h12v4h-12zM934 432h68v4h-68zM1006 432h8v4h-8zM1086 432h4v4h-4zM226 436h8v4h-8zM242 436h8v4h-8zM422 436h36v4h-36zM514 436h8v4h-8zM562 436h8v4h-8zM606 436h20v4h-20zM782 436h20v4h-20zM830 436h12v4h-12zM854 436h12v4h-12zM878 436h24v4h-24zM914 436h60v4h-60zM990 436h20v4h-20zM1222 436h4v4h-4zM250 440h12v4h-12zM422 440h36v4h-36zM518 440h12v4h-12zM562 440h8v4h-8zM594 440h32v4h-32zM782 440h20v4h-20zM834 440h12v4h-12zM854 440h16v4h-16zM882 440h20v4h-20zM914 440h52v4h-52zM994 440h12v4h-12zM262 444h16v4h-16zM430 444h28v4h-28zM522 444h12v4h-12zM562 444h8v4h-8zM582 444h20v4h-20zM614 444h8v4h-8zM786 444h20v4h-20zM842 444h28v4h-28zM882 444h20v4h-20zM910 444h56v4h-56zM1078 444h4v4h-4zM270 448h16v4h-16zM430 448h24v4h-24zM522 448h12v4h-12zM562 448h12v4h-12zM578 448h12v4h-12zM618 448h4v4h-4zM690 448h16v4h-16zM714 448h4v4h-4zM786 448h20v4h-20zM846 448h20v4h-20zM886 448h16v4h-16zM910 448h20v4h-20zM946 448h16v4h-16zM1074 448h4v4h-4zM282 452h8v4h-8zM314 452h24v4h-24zM434 452h16v4h-16zM522 452h12v4h-12zM566 452h20v4h-20zM618 452h4v4h-4zM682 452h12v4h-12zM698 452h20v4h-20zM786 452h20v4h-20zM850 452h8v4h-8zM890 452h40v4h-40zM950 452h12v4h-12zM1066 452h8v4h-8zM1214 452h4v4h-4zM286 456h8v4h-8zM310 456h32v4h-32zM438 456h8v4h-8zM522 456h12v4h-12zM570 456h8v4h-8zM618 456h4v4h-4zM674 456h12v4h-12zM702 456h16v4h-16zM786 456h16v4h-16zM886 456h44v4h-44zM954 456h8v4h-8zM990 456h12v4h-12zM1014 456h32v4h-32zM290 460h24v4h-24zM326 460h16v4h-16zM526 460h4v4h-4zM558 460h8v4h-8zM622 460h4v4h-4zM670 460h12v4h-12zM706 460h8v4h-8zM782 460h16v4h-16zM878 460h56v4h-56zM974 460h56v4h-56zM330 464h12v4h-12zM554 464h12v4h-12zM670 464h12v4h-12zM702 464h8v4h-8zM778 464h16v4h-16zM874 464h24v4h-24zM906 464h28v4h-28zM962 464h32v4h-32zM1006 464h8v4h-8zM330 468h12v4h-12zM554 468h8v4h-8zM670 468h12v4h-12zM698 468h8v4h-8zM774 468h12v4h-12zM866 468h8v4h-8zM878 468h16v4h-16zM910 468h28v4h-28zM958 468h12v4h-12zM982 468h8v4h-8zM326 472h8v4h-8zM670 472h28v4h-28zM766 472h16v4h-16zM850 472h20v4h-20zM886 472h16v4h-16zM910 472h52v4h-52zM246 476h4v4h-4zM314 476h16v4h-16zM674 476h16v4h-16zM758 476h20v4h-20zM850 476h20v4h-20zM890 476h64v4h-64zM242 480h24v4h-24zM306 480h20v4h-20zM758 480h16v4h-16zM850 480h16v4h-16zM894 480h20v4h-20zM242 484h4v4h-4zM262 484h12v4h-12zM302 484h24v4h-24zM758 484h16v4h-16zM798 484h20v4h-20zM850 484h16v4h-16zM894 484h12v4h-12zM242 488h4v4h-4zM274 488h36v4h-36zM770 488h12v4h-12zM794 488h32v4h-32zM894 488h12v4h-12zM242 492h4v4h-4zM774 492h28v4h-28zM818 492h12v4h-12zM898 492h8v4h-8zM242 496h4v4h-4zM338 496h16v4h-16zM790 496h4v4h-4zM822 496h12v4h-12zM898 496h8v4h-8zM242 500h4v4h-4zM334 500h12v4h-12zM354 500h8v4h-8zM826 500h12v4h-12zM330 504h8v4h-8zM358 504h4v4h-4zM830 504h8v4h-8zM238 508h4v4h-4zM330 508h8v4h-8zM362 508h4v4h-4zM674 508h8v4h-8zM794 508h4v4h-4zM830 508h8v4h-8zM230 512h4v4h-4zM334 512h4v4h-4zM362 512h4v4h-4zM674 512h4v4h-4zM790 512h12v4h-12zM830 512h4v4h-4zM1166 512h4v4h-4zM174 516h4v4h-4zM218 516h12v4h-12zM334 516h8v4h-8zM790 516h16v4h-16zM826 516h8v4h-8zM174 520h4v4h-4zM214 520h8v4h-8zM342 520h4v4h-4zM358 520h4v4h-4zM662 520h8v4h-8zM790 520h4v4h-4zM802 520h8v4h-8zM818 520h36v4h-36zM1162 520h4v4h-4zM174 524h8v4h-8zM194 524h4v4h-4zM210 524h4v4h-4zM346 524h12v4h-12zM662 524h8v4h-8zM790 524h4v4h-4zM806 524h52v4h-52zM1162 524h4v4h-4zM178 528h4v4h-4zM186 528h24v4h-24zM790 528h8v4h-8zM802 528h60v4h-60zM1158 528h4v4h-4zM178 532h16v4h-16zM794 532h72v4h-72zM1142 532h8v4h-8zM182 536h4v4h-4zM858 536h12v4h-12zM1110 536h8v4h-8zM866 540h12v4h-12zM882 540h56v4h-56zM954 540h28v4h-28zM1098 540h8v4h-8zM942 544h8v4h-8zM990 544h4v4h-4zM1090 544h4v4h-4zM998 548h8v4h-8zM1082 548h4v4h-4zM1010 552h8v4h-8zM1050 552h12v4h-12zM1026 556h12v4h-12zM1082 584h32v4h-32zM1078 588h4v4h-4zM1106 588h12v4h-12zM1074 592h8v4h-8zM1110 592h12v4h-12zM1078 596h4v4h-4zM1114 596h12v4h-12zM1078 600h4v4h-4zM1118 600h8v4h-8zM1078 604h4v4h-4zM1118 604h8v4h-8zM1138 604h8v4h-8zM1222 604h4v4h-4zM1074 608h8v4h-8zM1114 608h8v4h-8zM1134 608h12v4h-12zM1074 612h8v4h-8zM1110 612h4v4h-4zM1074 616h8v4h-8zM1106 616h4v4h-4zM1082 620h8v4h-8zM1102 620h4v4h-4zM178 624h4v4h-4zM1090 624h12v4h-12zM182 628h4v4h-4zM250 628h12v4h-12zM182 632h28v4h-28zM242 632h32v4h-32zM286 632h8v4h-8zM206 636h8v4h-8zM234 636h68v4h-68zM214 640h32v4h-32zM258 640h8v4h-8zM294 640h8v4h-8zM294 644h12v4h-12zM310 644h16v4h-16zM358 644h24v4h-24zM298 648h40v4h-40zM358 648h28v4h-28zM298 652h20v4h-20zM326 652h16v4h-16zM354 652h8v4h-8zM370 652h16v4h-16zM302 656h12v4h-12zM330 656h28v4h-28zM374 656h16v4h-16zM306 660h8v4h-8zM334 660h24v4h-24zM374 660h16v4h-16zM310 664h4v4h-4zM342 664h12v4h-12zM374 664h16v4h-16zM310 668h4v4h-4zM370 668h20v4h-20zM314 672h8v4h-8zM346 672h8v4h-8zM374 672h16v4h-16zM262 676h12v4h-12zM314 676h8v4h-8zM338 676h20v4h-20zM378 676h8v4h-8zM258 680h16v4h-16zM338 680h8v4h-8zM354 680h8v4h-8zM378 680h8v4h-8z"/>
<path fill="#ffb700" d="M874 284h8v4h-8zM914 284h4v4h-4zM922 284h8v4h-8zM1066 284h4v4h-4zM1214 284h16v4h-16zM874 288h8v4h-8zM1074 288h4v4h-4zM1214 288h16v4h-16zM874 292h8v4h-8zM1078 292h4v4h-4zM1218 292h12v4h-12zM874 296h4v4h-4zM1082 296h4v4h-4zM1222 296h8v4h-8zM870 300h4v4h-4zM1082 300h4v4h-4zM1226 300h4v4h-4zM866 304h8v4h-8zM1002 304h8v4h-8zM1086 304h4v4h-4zM1226 304h4v4h-4zM866 308h4v4h-4zM1218 308h12v4h-12zM858 312h8v4h-8zM998 312h4v4h-4zM1014 312h4v4h-4zM1090 312h4v4h-4zM1218 312h8v4h-8zM850 316h8v4h-8zM1014 316h4v4h-4zM1094 316h4v4h-4zM1218 316h4v4h-4zM850 320h4v4h-4zM1014 320h4v4h-4zM1098 320h4v4h-4zM1218 320h4v4h-4zM846 324h4v4h-4zM1014 324h4v4h-4zM1102 324h4v4h-4zM1222 324h4v4h-4zM846 328h4v4h-4zM1014 328h4v4h-4zM1106 328h4v4h-4zM1222 328h4v4h-4zM826 332h4v4h-4zM842 332h8v4h-8zM1014 332h4v4h-4zM1110 332h4v4h-4zM1226 332h4v4h-4zM818 336h16v4h-16zM846 336h4v4h-4zM814 340h8v4h-8zM826 340h8v4h-8zM846 340h4v4h-4zM1002 340h4v4h-4zM1010 340h4v4h-4zM1114 340h4v4h-4zM802 344h12v4h-12zM830 344h4v4h-4zM1118 344h12v4h-12zM794 348h8v4h-8zM830 348h4v4h-4zM850 348h4v4h-4zM1130 348h8v4h-8zM782 352h12v4h-12zM834 352h16v4h-16zM1138 352h4v4h-4zM778 356h12v4h-12zM1138 356h12v4h-12zM778 360h12v4h-12zM1142 360h8v4h-8zM778 364h12v4h-12zM1142 364h4v4h-4zM778 368h12v4h-12zM1142 368h4v4h-4zM782 372h8v4h-8zM994 372h20v4h-20zM1078 372h16v4h-16zM1142 372h4v4h-4zM1214 372h4v4h-4zM782 376h8v4h-8zM862 376h4v4h-4zM990 376h8v4h-8zM1006 376h8v4h-8zM1070 376h8v4h-8zM1094 376h12v4h-12zM1138 376h4v4h-4zM1210 376h12v4h-12zM782 380h8v4h-8zM858 380h16v4h-16zM958 380h36v4h-36zM1006 380h12v4h-12zM1066 380h8v4h-8zM1106 380h8v4h-8zM1134 380h8v4h-8zM1210 380h12v4h-12zM782 384h8v4h-8zM854 384h20v4h-20zM930 384h32v4h-32zM986 384h4v4h-4zM998 384h16v4h-16zM1054 384h8v4h-8zM1118 384h12v4h-12zM786 388h8v4h-8zM858 388h20v4h-20zM906 388h24v4h-24zM934 388h20v4h-20zM994 388h20v4h-20zM1046 388h8v4h-8zM1146 388h20v4h-20zM1170 388h16v4h-16zM1226 388h4v4h-4zM786 392h8v4h-8zM858 392h20v4h-20zM902 392h16v4h-16zM990 392h16v4h-16zM1042 392h4v4h-4zM1142 392h4v4h-4zM1186 392h4v4h-4zM1226 392h4v4h-4zM786 396h16v4h-16zM858 396h20v4h-20zM902 396h12v4h-12zM986 396h12v4h-12zM1038 396h4v4h-4zM1138 396h4v4h-4zM1190 396h4v4h-4zM1226 396h4v4h-4zM786 400h24v4h-24zM858 400h28v4h-28zM898 400h16v4h-16zM982 400h12v4h-12zM1034 400h4v4h-4zM1190 400h4v4h-4zM1226 400h4v4h-4zM786 404h24v4h-24zM854 404h60v4h-60zM966 404h24v4h-24zM1030 404h4v4h-4zM1134 404h4v4h-4zM1226 404h4v4h-4zM790 408h12v4h-12zM806 408h8v4h-8zM850 408h24v4h-24zM906 408h8v4h-8zM962 408h28v4h-28zM1026 408h4v4h-4zM1226 408h4v4h-4zM182 412h12v4h-12zM806 412h12v4h-12zM838 412h32v4h-32zM958 412h32v4h-32zM1022 412h4v4h-4zM1202 412h4v4h-4zM1226 412h4v4h-4zM194 416h28v4h-28zM238 416h16v4h-16zM806 416h12v4h-12zM834 416h36v4h-36zM922 416h12v4h-12zM962 416h36v4h-36zM1018 416h4v4h-4zM1130 416h4v4h-4zM1210 416h20v4h-20zM202 420h24v4h-24zM238 420h16v4h-16zM434 420h16v4h-16zM806 420h36v4h-36zM850 420h16v4h-16zM922 420h16v4h-16zM970 420h52v4h-52zM1118 420h4v4h-4zM1222 420h8v4h-8zM210 424h12v4h-12zM430 424h20v4h-20zM806 424h32v4h-32zM922 424h20v4h-20zM974 424h4v4h-4zM994 424h24v4h-24zM1098 424h8v4h-8zM1222 424h4v4h-4zM210 428h12v4h-12zM430 428h20v4h-20zM786 428h8v4h-8zM802 428h8v4h-8zM822 428h12v4h-12zM922 428h20v4h-20zM998 428h16v4h-16zM1090 428h4v4h-4zM1222 428h4v4h-4zM214 432h8v4h-8zM438 432h8v4h-8zM578 432h28v4h-28zM786 432h8v4h-8zM802 432h8v4h-8zM826 432h4v4h-4zM906 432h4v4h-4zM922 432h12v4h-12zM1002 432h4v4h-4zM1222 432h4v4h-4zM218 436h8v4h-8zM234 436h8v4h-8zM570 436h36v4h-36zM802 436h4v4h-4zM826 436h4v4h-4zM866 436h12v4h-12zM902 436h12v4h-12zM222 440h28v4h-28zM570 440h24v4h-24zM802 440h8v4h-8zM826 440h8v4h-8zM870 440h12v4h-12zM902 440h12v4h-12zM1082 440h4v4h-4zM246 444h16v4h-16zM570 444h12v4h-12zM806 444h4v4h-4zM830 444h12v4h-12zM870 444h12v4h-12zM902 444h8v4h-8zM258 448h12v4h-12zM574 448h4v4h-4zM806 448h4v4h-4zM834 448h12v4h-12zM866 448h20v4h-20zM902 448h8v4h-8zM1078 448h4v4h-4zM262 452h20v4h-20zM694 452h4v4h-4zM806 452h4v4h-4zM838 452h12v4h-12zM858 452h32v4h-32zM1074 452h4v4h-4zM258 456h16v4h-16zM278 456h8v4h-8zM686 456h16v4h-16zM802 456h8v4h-8zM842 456h44v4h-44zM1046 456h20v4h-20zM254 460h12v4h-12zM282 460h8v4h-8zM314 460h12v4h-12zM682 460h8v4h-8zM698 460h8v4h-8zM798 460h8v4h-8zM838 460h40v4h-40zM1030 460h8v4h-8zM254 464h8v4h-8zM282 464h48v4h-48zM682 464h20v4h-20zM794 464h8v4h-8zM834 464h40v4h-40zM994 464h12v4h-12zM1014 464h16v4h-16zM242 468h4v4h-4zM286 468h44v4h-44zM682 468h16v4h-16zM786 468h12v4h-12zM826 468h40v4h-40zM874 468h4v4h-4zM970 468h12v4h-12zM990 468h20v4h-20zM238 472h28v4h-28zM294 472h32v4h-32zM782 472h16v4h-16zM818 472h32v4h-32zM870 472h16v4h-16zM962 472h36v4h-36zM238 476h8v4h-8zM250 476h20v4h-20zM286 476h28v4h-28zM778 476h24v4h-24zM814 476h36v4h-36zM870 476h20v4h-20zM954 476h8v4h-8zM234 480h8v4h-8zM266 480h40v4h-40zM774 480h76v4h-76zM866 480h28v4h-28zM914 480h40v4h-40zM238 484h4v4h-4zM274 484h28v4h-28zM774 484h24v4h-24zM818 484h32v4h-32zM866 484h8v4h-8zM882 484h12v4h-12zM906 484h12v4h-12zM926 484h20v4h-20zM238 488h4v4h-4zM782 488h12v4h-12zM826 488h44v4h-44zM886 488h8v4h-8zM906 488h4v4h-4zM1206 488h4v4h-4zM238 492h4v4h-4zM830 492h36v4h-36zM890 492h8v4h-8zM906 492h4v4h-4zM1198 492h4v4h-4zM834 496h20v4h-20zM890 496h8v4h-8zM906 496h4v4h-4zM1186 496h4v4h-4zM238 500h4v4h-4zM346 500h8v4h-8zM838 500h12v4h-12zM890 500h20v4h-20zM238 504h4v4h-4zM338 504h20v4h-20zM838 504h16v4h-16zM894 504h20v4h-20zM1170 504h4v4h-4zM230 508h8v4h-8zM338 508h8v4h-8zM358 508h4v4h-4zM838 508h20v4h-20zM870 508h8v4h-8zM894 508h20v4h-20zM1166 508h4v4h-4zM174 512h8v4h-8zM218 512h12v4h-12zM338 512h4v4h-4zM358 512h4v4h-4zM834 512h44v4h-44zM178 516h8v4h-8zM210 516h8v4h-8zM342 516h4v4h-4zM358 516h4v4h-4zM834 516h48v4h-48zM1162 516h4v4h-4zM178 520h36v4h-36zM346 520h12v4h-12zM794 520h8v4h-8zM854 520h28v4h-28zM182 524h12v4h-12zM198 524h12v4h-12zM794 524h12v4h-12zM858 524h20v4h-20zM1158 524h4v4h-4zM182 528h4v4h-4zM798 528h4v4h-4zM862 528h12v4h-12zM1150 528h8v4h-8zM866 532h8v4h-8zM1114 532h28v4h-28zM870 536h8v4h-8zM906 536h32v4h-32zM954 536h16v4h-16zM1098 536h12v4h-12zM878 540h4v4h-4zM938 540h16v4h-16zM982 540h8v4h-8zM1090 540h8v4h-8zM994 544h4v4h-4zM1086 544h4v4h-4zM1006 548h4v4h-4zM1062 548h20v4h-20zM1018 552h16v4h-16zM1038 552h12v4h-12zM1082 588h24v4h-24zM1082 592h28v4h-28zM1082 596h8v4h-8zM1102 596h12v4h-12zM1082 600h4v4h-4zM1110 600h8v4h-8zM1082 604h4v4h-4zM1110 604h8v4h-8zM1082 608h4v4h-4zM1106 608h8v4h-8zM1082 612h4v4h-4zM1102 612h8v4h-8zM1082 616h8v4h-8zM1098 616h8v4h-8zM1090 620h12v4h-12zM174 624h4v4h-4zM174 628h8v4h-8zM178 632h4v4h-4zM178 636h28v4h-28zM182 640h8v4h-8zM202 640h12v4h-12zM246 640h12v4h-12zM266 640h28v4h-28zM206 644h68v4h-68zM278 644h16v4h-16zM234 648h36v4h-36zM286 648h12v4h-12zM242 652h28v4h-28zM290 652h8v4h-8zM318 652h8v4h-8zM362 652h8v4h-8zM262 656h8v4h-8zM290 656h12v4h-12zM314 656h16v4h-16zM358 656h16v4h-16zM266 660h8v4h-8zM286 660h20v4h-20zM314 660h20v4h-20zM358 660h16v4h-16zM262 664h16v4h-16zM282 664h28v4h-28zM314 664h28v4h-28zM354 664h20v4h-20zM258 668h20v4h-20zM282 668h28v4h-28zM314 668h56v4h-56zM258 672h56v4h-56zM322 672h24v4h-24zM354 672h20v4h-20zM254 676h8v4h-8zM274 676h40v4h-40zM322 676h16v4h-16zM358 676h20v4h-20zM254 680h4v4h-4zM274 680h16v4h-16zM306 680h32v4h-32zM362 680h4v4h-4zM374 680h4v4h-4z"/>
<path fill="#ffb000" d="M882 284h12v4h-12zM906 284h8v4h-8zM930 284h4v4h-4zM882 288h4v4h-4zM1070 288h4v4h-4zM882 292h4v4h-4zM1074 292h4v4h-4zM878 296h4v4h-4zM1078 296h4v4h-4zM874 300h4v4h-4zM1002 300h12v4h-12zM874 304h4v4h-4zM1010 304h8v4h-8zM1082 304h4v4h-4zM870 308h4v4h-4zM998 308h4v4h-4zM1014 308h4v4h-4zM1086 308h4v4h-4zM866 312h4v4h-4zM1086 312h4v4h-4zM1226 312h4v4h-4zM858 316h8v4h-8zM1090 316h4v4h-4zM1222 316h8v4h-8zM854 320h4v4h-4zM1094 320h4v4h-4zM1222 320h8v4h-8zM850 324h4v4h-4zM994 324h4v4h-4zM1098 324h4v4h-4zM1226 324h4v4h-4zM850 328h4v4h-4zM994 328h4v4h-4zM1102 328h4v4h-4zM1226 328h4v4h-4zM850 332h4v4h-4zM1106 332h4v4h-4zM850 336h4v4h-4zM998 336h4v4h-4zM1014 336h4v4h-4zM1110 336h4v4h-4zM822 340h4v4h-4zM850 340h4v4h-4zM1110 340h4v4h-4zM814 344h16v4h-16zM850 344h4v4h-4zM1002 344h8v4h-8zM1110 344h8v4h-8zM802 348h28v4h-28zM1122 348h8v4h-8zM794 352h12v4h-12zM826 352h8v4h-8zM850 352h4v4h-4zM1130 352h8v4h-8zM790 356h12v4h-12zM834 356h20v4h-20zM1134 356h4v4h-4zM790 360h16v4h-16zM1002 360h8v4h-8zM1138 360h4v4h-4zM790 364h16v4h-16zM994 364h24v4h-24zM1138 364h4v4h-4zM790 368h16v4h-16zM982 368h36v4h-36zM1078 368h20v4h-20zM1138 368h4v4h-4zM790 372h12v4h-12zM858 372h12v4h-12zM974 372h20v4h-20zM1014 372h8v4h-8zM1070 372h8v4h-8zM1094 372h12v4h-12zM1138 372h4v4h-4zM790 376h8v4h-8zM854 376h8v4h-8zM866 376h12v4h-12zM890 376h8v4h-8zM950 376h40v4h-40zM1014 376h8v4h-8zM1030 376h16v4h-16zM1062 376h8v4h-8zM1106 376h8v4h-8zM1134 376h4v4h-4zM790 380h8v4h-8zM850 380h8v4h-8zM874 380h32v4h-32zM938 380h20v4h-20zM1018 380h8v4h-8zM1030 380h36v4h-36zM1114 380h20v4h-20zM790 384h8v4h-8zM850 384h4v4h-4zM874 384h56v4h-56zM1014 384h12v4h-12zM1034 384h20v4h-20zM794 388h4v4h-4zM850 388h8v4h-8zM878 388h28v4h-28zM1014 388h8v4h-8zM1038 388h8v4h-8zM1166 388h4v4h-4zM794 392h12v4h-12zM850 392h8v4h-8zM878 392h24v4h-24zM1006 392h20v4h-20zM1034 392h8v4h-8zM1146 392h8v4h-8zM1178 392h8v4h-8zM802 396h8v4h-8zM850 396h8v4h-8zM878 396h24v4h-24zM998 396h28v4h-28zM1034 396h4v4h-4zM1142 396h4v4h-4zM1186 396h4v4h-4zM810 400h4v4h-4zM850 400h8v4h-8zM886 400h12v4h-12zM994 400h40v4h-40zM1138 400h4v4h-4zM810 404h8v4h-8zM838 404h16v4h-16zM990 404h40v4h-40zM1190 404h4v4h-4zM814 408h36v4h-36zM990 408h36v4h-36zM1134 408h4v4h-4zM1194 408h4v4h-4zM818 412h20v4h-20zM990 412h32v4h-32zM1198 412h4v4h-4zM174 416h20v4h-20zM818 416h16v4h-16zM998 416h20v4h-20zM1206 416h4v4h-4zM174 420h28v4h-28zM1122 420h4v4h-4zM1218 420h4v4h-4zM182 424h28v4h-28zM1106 424h4v4h-4zM174 428h36v4h-36zM810 428h12v4h-12zM1094 428h4v4h-4zM174 432h40v4h-40zM810 432h16v4h-16zM174 436h44v4h-44zM806 436h20v4h-20zM1086 436h4v4h-4zM174 440h24v4h-24zM214 440h8v4h-8zM810 440h16v4h-16zM1218 440h4v4h-4zM218 444h28v4h-28zM810 444h20v4h-20zM1082 444h4v4h-4zM218 448h40v4h-40zM810 448h8v4h-8zM826 448h8v4h-8zM218 452h4v4h-4zM230 452h32v4h-32zM810 452h8v4h-8zM830 452h8v4h-8zM1078 452h4v4h-4zM230 456h28v4h-28zM274 456h4v4h-4zM810 456h8v4h-8zM830 456h12v4h-12zM1066 456h8v4h-8zM230 460h24v4h-24zM266 460h16v4h-16zM690 460h8v4h-8zM806 460h32v4h-32zM1038 460h12v4h-12zM230 464h24v4h-24zM262 464h20v4h-20zM802 464h32v4h-32zM1030 464h8v4h-8zM234 468h8v4h-8zM246 468h40v4h-40zM798 468h28v4h-28zM1010 468h12v4h-12zM234 472h4v4h-4zM266 472h28v4h-28zM798 472h20v4h-20zM998 472h12v4h-12zM230 476h8v4h-8zM270 476h16v4h-16zM802 476h12v4h-12zM962 476h44v4h-44zM230 480h4v4h-4zM954 480h8v4h-8zM1210 480h4v4h-4zM186 484h8v4h-8zM234 484h4v4h-4zM874 484h8v4h-8zM918 484h8v4h-8zM946 484h8v4h-8zM234 488h4v4h-4zM870 488h16v4h-16zM910 488h36v4h-36zM866 492h24v4h-24zM910 492h8v4h-8zM930 492h4v4h-4zM238 496h4v4h-4zM854 496h36v4h-36zM910 496h4v4h-4zM1182 496h4v4h-4zM182 500h12v4h-12zM850 500h40v4h-40zM910 500h8v4h-8zM1174 500h4v4h-4zM174 504h20v4h-20zM230 504h8v4h-8zM854 504h40v4h-40zM914 504h16v4h-16zM174 508h24v4h-24zM214 508h16v4h-16zM346 508h12v4h-12zM858 508h12v4h-12zM878 508h16v4h-16zM914 508h16v4h-16zM182 512h36v4h-36zM342 512h16v4h-16zM878 512h44v4h-44zM1162 512h4v4h-4zM186 516h24v4h-24zM346 516h12v4h-12zM882 516h32v4h-32zM882 520h12v4h-12zM1158 520h4v4h-4zM878 524h8v4h-8zM1154 524h4v4h-4zM874 528h12v4h-12zM938 528h8v4h-8zM1118 528h8v4h-8zM1142 528h8v4h-8zM874 532h12v4h-12zM918 532h44v4h-44zM1106 532h8v4h-8zM878 536h28v4h-28zM938 536h16v4h-16zM970 536h20v4h-20zM1094 536h4v4h-4zM990 540h4v4h-4zM1086 540h4v4h-4zM998 544h8v4h-8zM1070 544h16v4h-16zM1010 548h12v4h-12zM1046 548h16v4h-16zM1034 552h4v4h-4zM1090 596h12v4h-12zM1086 600h24v4h-24zM1086 604h24v4h-24zM1086 608h20v4h-20zM1086 612h16v4h-16zM1090 616h8v4h-8zM174 632h4v4h-4zM174 636h4v4h-4zM178 640h4v4h-4zM190 640h12v4h-12zM182 644h24v4h-24zM274 644h4v4h-4zM202 648h32v4h-32zM270 648h16v4h-16zM218 652h24v4h-24zM270 652h20v4h-20zM230 656h32v4h-32zM270 656h20v4h-20zM234 660h32v4h-32zM274 660h12v4h-12zM238 664h24v4h-24zM278 664h4v4h-4zM246 668h12v4h-12zM278 668h4v4h-4zM250 672h8v4h-8zM250 676h4v4h-4zM250 680h4v4h-4zM290 680h16v4h-16zM366 680h8v4h-8z"/>
<path fill="#ffaa00" d="M894 284h12v4h-12zM934 284h4v4h-4zM1006 284h12v4h-12zM1062 284h4v4h-4zM886 288h12v4h-12zM910 288h20v4h-20zM1002 288h16v4h-16zM1066 288h4v4h-4zM886 292h8v4h-8zM1002 292h16v4h-16zM1070 292h4v4h-4zM882 296h8v4h-8zM1002 296h16v4h-16zM1074 296h4v4h-4zM878 300h8v4h-8zM998 300h4v4h-4zM1014 300h4v4h-4zM1078 300h4v4h-4zM878 304h4v4h-4zM998 304h4v4h-4zM1018 304h4v4h-4zM1078 304h4v4h-4zM874 308h4v4h-4zM1018 308h4v4h-4zM1082 308h4v4h-4zM870 312h4v4h-4zM994 312h4v4h-4zM1018 312h4v4h-4zM1082 312h4v4h-4zM866 316h4v4h-4zM994 316h4v4h-4zM1018 316h4v4h-4zM1082 316h8v4h-8zM858 320h4v4h-4zM994 320h4v4h-4zM1018 320h4v4h-4zM1070 320h24v4h-24zM854 324h4v4h-4zM1018 324h4v4h-4zM1066 324h32v4h-32zM854 328h4v4h-4zM1018 328h4v4h-4zM1066 328h24v4h-24zM1098 328h4v4h-4zM1018 332h4v4h-4zM1066 332h24v4h-24zM1102 332h4v4h-4zM1066 336h24v4h-24zM1106 336h4v4h-4zM1014 340h4v4h-4zM1070 340h20v4h-20zM1106 340h4v4h-4zM854 344h4v4h-4zM1010 344h4v4h-4zM1074 344h16v4h-16zM1106 344h4v4h-4zM854 348h4v4h-4zM998 348h16v4h-16zM1110 348h12v4h-12zM806 352h20v4h-20zM854 352h4v4h-4zM994 352h20v4h-20zM1126 352h4v4h-4zM802 356h32v4h-32zM854 356h4v4h-4zM990 356h28v4h-28zM1130 356h4v4h-4zM806 360h20v4h-20zM830 360h28v4h-28zM982 360h20v4h-20zM1010 360h12v4h-12zM1054 360h16v4h-16zM1082 360h8v4h-8zM1134 360h4v4h-4zM806 364h8v4h-8zM842 364h20v4h-20zM978 364h16v4h-16zM1018 364h12v4h-12zM1050 364h48v4h-48zM1134 364h4v4h-4zM806 368h4v4h-4zM850 368h24v4h-24zM886 368h20v4h-20zM970 368h12v4h-12zM1018 368h60v4h-60zM1098 368h8v4h-8zM1134 368h4v4h-4zM802 372h4v4h-4zM846 372h12v4h-12zM870 372h40v4h-40zM950 372h24v4h-24zM1022 372h48v4h-48zM1106 372h8v4h-8zM1130 372h8v4h-8zM798 376h8v4h-8zM846 376h8v4h-8zM878 376h12v4h-12zM898 376h16v4h-16zM938 376h12v4h-12zM1022 376h8v4h-8zM1046 376h16v4h-16zM1114 376h20v4h-20zM798 380h4v4h-4zM842 380h8v4h-8zM906 380h32v4h-32zM1026 380h4v4h-4zM798 384h4v4h-4zM842 384h8v4h-8zM1026 384h8v4h-8zM798 388h8v4h-8zM846 388h4v4h-4zM1022 388h16v4h-16zM806 392h8v4h-8zM846 392h4v4h-4zM1026 392h8v4h-8zM1154 392h8v4h-8zM1174 392h4v4h-4zM810 396h8v4h-8zM842 396h8v4h-8zM1026 396h8v4h-8zM1146 396h4v4h-4zM1182 396h4v4h-4zM814 400h4v4h-4zM834 400h16v4h-16zM1142 400h4v4h-4zM1186 400h4v4h-4zM818 404h20v4h-20zM1138 404h4v4h-4zM1134 412h4v4h-4zM1202 416h4v4h-4zM1126 420h4v4h-4zM1214 420h4v4h-4zM174 424h8v4h-8zM1110 424h4v4h-4zM1218 424h4v4h-4zM1098 428h4v4h-4zM1090 432h4v4h-4zM198 440h16v4h-16zM1086 440h4v4h-4zM174 444h44v4h-44zM190 448h28v4h-28zM818 448h8v4h-8zM1082 448h4v4h-4zM1214 448h4v4h-4zM198 452h20v4h-20zM222 452h8v4h-8zM818 452h12v4h-12zM202 456h28v4h-28zM818 456h12v4h-12zM1074 456h4v4h-4zM202 460h28v4h-28zM1050 460h20v4h-20zM206 464h24v4h-24zM1038 464h4v4h-4zM210 468h24v4h-24zM1022 468h12v4h-12zM222 472h12v4h-12zM1010 472h8v4h-8zM182 476h12v4h-12zM226 476h4v4h-4zM1006 476h4v4h-4zM174 480h28v4h-28zM226 480h4v4h-4zM962 480h44v4h-44zM174 484h12v4h-12zM194 484h12v4h-12zM226 484h8v4h-8zM954 484h8v4h-8zM990 484h12v4h-12zM174 488h36v4h-36zM230 488h4v4h-4zM946 488h8v4h-8zM174 492h36v4h-36zM234 492h4v4h-4zM918 492h12v4h-12zM934 492h16v4h-16zM174 496h32v4h-32zM234 496h4v4h-4zM914 496h32v4h-32zM174 500h8v4h-8zM194 500h16v4h-16zM230 500h8v4h-8zM918 500h28v4h-28zM194 504h36v4h-36zM930 504h12v4h-12zM1166 504h4v4h-4zM198 508h16v4h-16zM930 508h12v4h-12zM1162 508h4v4h-4zM922 512h20v4h-20zM914 516h20v4h-20zM1158 516h4v4h-4zM894 520h36v4h-36zM938 520h16v4h-16zM1154 520h4v4h-4zM886 524h20v4h-20zM910 524h48v4h-48zM1150 524h4v4h-4zM886 528h52v4h-52zM946 528h20v4h-20zM1110 528h8v4h-8zM1126 528h16v4h-16zM886 532h32v4h-32zM962 532h24v4h-24zM1098 532h8v4h-8zM990 536h4v4h-4zM1086 536h8v4h-8zM994 540h8v4h-8zM1082 540h4v4h-4zM1006 544h8v4h-8zM1062 544h8v4h-8zM1022 548h24v4h-24zM174 640h4v4h-4zM174 644h8v4h-8zM182 648h20v4h-20zM198 652h20v4h-20zM202 656h28v4h-28zM202 660h32v4h-32zM198 664h40v4h-40zM198 668h16v4h-16zM230 668h16v4h-16zM198 672h12v4h-12zM234 672h16v4h-16zM198 676h12v4h-12zM238 676h12v4h-12zM202 680h8v4h-8zM242 680h8v4h-8z"/>
<path fill="#ffa300" d="M938 284h4v4h-4zM998 284h8v4h-8zM1018 284h4v4h-4zM898 288h12v4h-12zM930 288h4v4h-4zM998 288h4v4h-4zM1018 288h4v4h-4zM1062 288h4v4h-4zM894 292h8v4h-8zM998 292h4v4h-4zM1018 292h4v4h-4zM1066 292h4v4h-4zM890 296h8v4h-8zM998 296h4v4h-4zM1018 296h4v4h-4zM1070 296h4v4h-4zM886 300h8v4h-8zM994 300h4v4h-4zM1018 300h8v4h-8zM1074 300h4v4h-4zM882 304h8v4h-8zM994 304h4v4h-4zM1022 304h8v4h-8zM1074 304h4v4h-4zM878 308h4v4h-4zM994 308h4v4h-4zM1022 308h8v4h-8zM1074 308h8v4h-8zM874 312h4v4h-4zM1022 312h4v4h-4zM1070 312h12v4h-12zM1022 316h4v4h-4zM1066 316h16v4h-16zM862 320h4v4h-4zM1062 320h8v4h-8zM858 324h4v4h-4zM990 324h4v4h-4zM1062 324h4v4h-4zM1062 328h4v4h-4zM1090 328h8v4h-8zM854 332h4v4h-4zM994 332h4v4h-4zM1062 332h4v4h-4zM1090 332h12v4h-12zM854 336h4v4h-4zM918 336h4v4h-4zM1018 336h4v4h-4zM1062 336h4v4h-4zM1090 336h4v4h-4zM1098 336h8v4h-8zM854 340h4v4h-4zM998 340h4v4h-4zM1062 340h8v4h-8zM1090 340h4v4h-4zM1102 340h4v4h-4zM998 344h4v4h-4zM1014 344h4v4h-4zM1062 344h12v4h-12zM1090 344h4v4h-4zM1102 344h4v4h-4zM994 348h4v4h-4zM1014 348h4v4h-4zM1066 348h28v4h-28zM1102 348h8v4h-8zM898 352h4v4h-4zM986 352h8v4h-8zM1014 352h4v4h-4zM1054 352h44v4h-44zM1102 352h24v4h-24zM858 356h4v4h-4zM898 356h8v4h-8zM982 356h8v4h-8zM1018 356h12v4h-12zM1050 356h52v4h-52zM1126 356h4v4h-4zM826 360h4v4h-4zM858 360h8v4h-8zM894 360h16v4h-16zM978 360h4v4h-4zM1022 360h16v4h-16zM1046 360h8v4h-8zM1070 360h12v4h-12zM1090 360h12v4h-12zM1130 360h4v4h-4zM814 364h28v4h-28zM862 364h52v4h-52zM970 364h8v4h-8zM1030 364h20v4h-20zM1098 364h12v4h-12zM1130 364h4v4h-4zM810 368h8v4h-8zM838 368h12v4h-12zM874 368h12v4h-12zM906 368h8v4h-8zM950 368h20v4h-20zM1106 368h12v4h-12zM1126 368h8v4h-8zM806 372h8v4h-8zM838 372h8v4h-8zM910 372h8v4h-8zM942 372h8v4h-8zM1114 372h16v4h-16zM806 376h4v4h-4zM838 376h8v4h-8zM914 376h24v4h-24zM802 380h8v4h-8zM838 380h4v4h-4zM802 384h8v4h-8zM838 384h4v4h-4zM806 388h12v4h-12zM838 388h8v4h-8zM814 392h4v4h-4zM834 392h12v4h-12zM1162 392h12v4h-12zM818 396h4v4h-4zM830 396h12v4h-12zM1150 396h4v4h-4zM1178 396h4v4h-4zM818 400h16v4h-16zM1182 400h4v4h-4zM1186 404h4v4h-4zM1138 408h4v4h-4zM1190 408h4v4h-4zM1194 412h4v4h-4zM1134 416h4v4h-4zM1210 420h4v4h-4zM1114 424h8v4h-8zM1102 428h4v4h-4zM1218 428h4v4h-4zM1094 432h4v4h-4zM1218 432h4v4h-4zM1090 436h4v4h-4zM1218 436h4v4h-4zM1086 444h4v4h-4zM174 448h16v4h-16zM190 452h8v4h-8zM1082 452h4v4h-4zM194 456h8v4h-8zM1078 456h4v4h-4zM198 460h4v4h-4zM1070 460h8v4h-8zM1210 460h4v4h-4zM198 464h8v4h-8zM1042 464h24v4h-24zM1210 464h4v4h-4zM198 468h12v4h-12zM1034 468h4v4h-4zM1210 468h4v4h-4zM182 472h40v4h-40zM1018 472h12v4h-12zM1210 472h4v4h-4zM174 476h8v4h-8zM194 476h32v4h-32zM1010 476h4v4h-4zM1210 476h4v4h-4zM202 480h24v4h-24zM1006 480h8v4h-8zM206 484h20v4h-20zM962 484h28v4h-28zM1002 484h8v4h-8zM210 488h20v4h-20zM954 488h8v4h-8zM982 488h28v4h-28zM210 492h8v4h-8zM226 492h8v4h-8zM950 492h8v4h-8zM986 492h24v4h-24zM1194 492h4v4h-4zM206 496h16v4h-16zM230 496h4v4h-4zM946 496h12v4h-12zM986 496h20v4h-20zM1178 496h4v4h-4zM210 500h20v4h-20zM946 500h8v4h-8zM986 500h16v4h-16zM1170 500h4v4h-4zM942 504h12v4h-12zM982 504h12v4h-12zM942 508h12v4h-12zM982 508h8v4h-8zM942 512h16v4h-16zM1158 512h4v4h-4zM934 516h28v4h-28zM930 520h8v4h-8zM954 520h12v4h-12zM906 524h4v4h-4zM958 524h24v4h-24zM1114 524h12v4h-12zM1142 524h8v4h-8zM966 528h20v4h-20zM1102 528h8v4h-8zM986 532h8v4h-8zM1090 532h8v4h-8zM994 536h4v4h-4zM1082 536h4v4h-4zM1002 540h8v4h-8zM1070 540h12v4h-12zM1014 544h8v4h-8zM1046 544h16v4h-16zM1218 600h4v4h-4zM1218 604h4v4h-4zM174 648h8v4h-8zM182 652h16v4h-16zM194 656h8v4h-8zM194 660h8v4h-8zM194 664h4v4h-4zM194 668h4v4h-4zM214 668h16v4h-16zM194 672h4v4h-4zM210 672h24v4h-24zM194 676h4v4h-4zM210 676h28v4h-28zM198 680h4v4h-4zM210 680h8v4h-8zM226 680h16v4h-16z"/>
<path fill="#ff9a00" d="M942 284h4v4h-4zM990 284h8v4h-8zM1022 284h4v4h-4zM1058 284h4v4h-4zM934 288h8v4h-8zM990 288h8v4h-8zM1022 288h8v4h-8zM1058 288h4v4h-4zM902 292h36v4h-36zM990 292h8v4h-8zM1022 292h16v4h-16zM1058 292h8v4h-8zM898 296h8v4h-8zM994 296h4v4h-4zM1022 296h20v4h-20zM1058 296h12v4h-12zM894 300h8v4h-8zM1026 300h16v4h-16zM1054 300h20v4h-20zM890 304h8v4h-8zM1030 304h4v4h-4zM1054 304h20v4h-20zM882 308h16v4h-16zM990 308h4v4h-4zM1030 308h4v4h-4zM1058 308h16v4h-16zM878 312h16v4h-16zM990 312h4v4h-4zM1026 312h4v4h-4zM1058 312h12v4h-12zM870 316h4v4h-4zM990 316h4v4h-4zM1026 316h4v4h-4zM1058 316h8v4h-8zM866 320h4v4h-4zM990 320h4v4h-4zM1022 320h4v4h-4zM1058 320h4v4h-4zM862 324h4v4h-4zM918 324h8v4h-8zM1022 324h4v4h-4zM1058 324h4v4h-4zM858 328h4v4h-4zM914 328h16v4h-16zM990 328h4v4h-4zM1022 328h4v4h-4zM1058 328h4v4h-4zM858 332h4v4h-4zM906 332h24v4h-24zM1022 332h4v4h-4zM1058 332h4v4h-4zM906 336h12v4h-12zM922 336h8v4h-8zM994 336h4v4h-4zM1022 336h4v4h-4zM1058 336h4v4h-4zM1094 336h4v4h-4zM902 340h28v4h-28zM1018 340h4v4h-4zM1054 340h8v4h-8zM1094 340h8v4h-8zM858 344h4v4h-4zM898 344h28v4h-28zM994 344h4v4h-4zM1018 344h4v4h-4zM1054 344h8v4h-8zM1094 344h8v4h-8zM858 348h4v4h-4zM894 348h24v4h-24zM990 348h4v4h-4zM1018 348h4v4h-4zM1054 348h12v4h-12zM1094 348h8v4h-8zM858 352h4v4h-4zM890 352h8v4h-8zM902 352h12v4h-12zM982 352h4v4h-4zM1018 352h16v4h-16zM1050 352h4v4h-4zM1098 352h4v4h-4zM862 356h4v4h-4zM890 356h8v4h-8zM906 356h8v4h-8zM978 356h4v4h-4zM1030 356h20v4h-20zM1102 356h24v4h-24zM866 360h4v4h-4zM878 360h16v4h-16zM910 360h8v4h-8zM970 360h8v4h-8zM1038 360h8v4h-8zM1102 360h28v4h-28zM914 364h4v4h-4zM950 364h20v4h-20zM1110 364h20v4h-20zM818 368h20v4h-20zM914 368h8v4h-8zM942 368h8v4h-8zM1118 368h8v4h-8zM814 372h24v4h-24zM918 372h24v4h-24zM810 376h8v4h-8zM830 376h8v4h-8zM810 380h8v4h-8zM830 380h8v4h-8zM810 384h12v4h-12zM830 384h8v4h-8zM818 388h20v4h-20zM818 392h16v4h-16zM822 396h8v4h-8zM1154 396h4v4h-4zM1174 396h4v4h-4zM1146 400h4v4h-4zM1142 404h4v4h-4zM1138 412h4v4h-4zM1198 416h4v4h-4zM1130 420h4v4h-4zM1206 420h4v4h-4zM1122 424h4v4h-4zM1214 424h4v4h-4zM1106 428h4v4h-4zM1090 440h4v4h-4zM1214 444h4v4h-4zM1086 448h4v4h-4zM174 452h16v4h-16zM174 456h4v4h-4zM186 456h8v4h-8zM1082 456h4v4h-4zM1210 456h4v4h-4zM190 460h8v4h-8zM1078 460h4v4h-4zM186 464h12v4h-12zM1066 464h8v4h-8zM178 468h20v4h-20zM1038 468h8v4h-8zM174 472h8v4h-8zM1030 472h8v4h-8zM1014 476h8v4h-8zM1014 480h4v4h-4zM1010 484h4v4h-4zM962 488h20v4h-20zM1010 488h4v4h-4zM1202 488h4v4h-4zM218 492h8v4h-8zM958 492h28v4h-28zM1010 492h4v4h-4zM1190 492h4v4h-4zM222 496h8v4h-8zM958 496h28v4h-28zM1006 496h8v4h-8zM1174 496h4v4h-4zM954 500h32v4h-32zM1002 500h8v4h-8zM1166 500h4v4h-4zM954 504h28v4h-28zM994 504h12v4h-12zM1162 504h4v4h-4zM954 508h28v4h-28zM990 508h12v4h-12zM1158 508h4v4h-4zM958 512h44v4h-44zM962 516h32v4h-32zM1154 516h4v4h-4zM966 520h24v4h-24zM1150 520h4v4h-4zM982 524h8v4h-8zM1110 524h4v4h-4zM1126 524h16v4h-16zM986 528h8v4h-8zM1094 528h8v4h-8zM994 532h4v4h-4zM1086 532h4v4h-4zM998 536h8v4h-8zM1078 536h4v4h-4zM1010 540h4v4h-4zM1062 540h8v4h-8zM1022 544h24v4h-24zM174 652h8v4h-8zM178 656h16v4h-16zM182 660h12v4h-12zM186 664h8v4h-8zM186 668h8v4h-8zM186 672h8v4h-8zM190 676h4v4h-4zM194 680h4v4h-4zM218 680h8v4h-8z"/>
<path fill="#ff9100" d="M946 284h8v4h-8zM986 284h4v4h-4zM1026 284h12v4h-12zM1054 284h4v4h-4zM942 288h8v4h-8zM986 288h4v4h-4zM1030 288h16v4h-16zM1050 288h8v4h-8zM938 292h8v4h-8zM986 292h4v4h-4zM1038 292h20v4h-20zM906 296h36v4h-36zM990 296h4v4h-4zM1042 296h16v4h-16zM902 300h8v4h-8zM918 300h24v4h-24zM990 300h4v4h-4zM1042 300h12v4h-12zM898 304h8v4h-8zM918 304h28v4h-28zM990 304h4v4h-4zM1034 304h20v4h-20zM898 308h8v4h-8zM918 308h28v4h-28zM1034 308h4v4h-4zM1046 308h12v4h-12zM894 312h8v4h-8zM918 312h28v4h-28zM1030 312h4v4h-4zM1050 312h8v4h-8zM874 316h28v4h-28zM914 316h16v4h-16zM1030 316h4v4h-4zM1054 316h4v4h-4zM870 320h4v4h-4zM910 320h24v4h-24zM1026 320h4v4h-4zM1054 320h4v4h-4zM866 324h4v4h-4zM906 324h12v4h-12zM926 324h8v4h-8zM986 324h4v4h-4zM1026 324h4v4h-4zM1054 324h4v4h-4zM862 328h4v4h-4zM902 328h12v4h-12zM930 328h8v4h-8zM1026 328h8v4h-8zM1054 328h4v4h-4zM902 332h4v4h-4zM930 332h8v4h-8zM990 332h4v4h-4zM1026 332h8v4h-8zM1054 332h4v4h-4zM858 336h4v4h-4zM898 336h8v4h-8zM930 336h8v4h-8zM1026 336h8v4h-8zM1054 336h4v4h-4zM858 340h4v4h-4zM894 340h8v4h-8zM930 340h8v4h-8zM994 340h4v4h-4zM1022 340h12v4h-12zM1050 340h4v4h-4zM894 344h4v4h-4zM926 344h12v4h-12zM990 344h4v4h-4zM1022 344h12v4h-12zM1050 344h4v4h-4zM890 348h4v4h-4zM918 348h16v4h-16zM986 348h4v4h-4zM1022 348h16v4h-16zM1046 348h8v4h-8zM862 352h4v4h-4zM886 352h4v4h-4zM914 352h8v4h-8zM978 352h4v4h-4zM1034 352h16v4h-16zM866 356h4v4h-4zM882 356h8v4h-8zM914 356h8v4h-8zM970 356h8v4h-8zM870 360h8v4h-8zM918 360h4v4h-4zM946 360h24v4h-24zM918 364h8v4h-8zM942 364h8v4h-8zM922 368h20v4h-20zM818 376h12v4h-12zM818 380h12v4h-12zM822 384h8v4h-8zM1158 396h16v4h-16zM1150 400h4v4h-4zM1178 400h4v4h-4zM1146 404h4v4h-4zM1182 404h4v4h-4zM1142 408h4v4h-4zM1186 408h4v4h-4zM1190 412h4v4h-4zM1138 416h4v4h-4zM1194 416h4v4h-4zM1134 420h4v4h-4zM1202 420h4v4h-4zM1126 424h4v4h-4zM1210 424h4v4h-4zM1110 428h4v4h-4zM1214 428h4v4h-4zM1098 432h4v4h-4zM1094 436h4v4h-4zM1090 444h4v4h-4zM1086 452h4v4h-4zM178 456h8v4h-8zM1086 456h4v4h-4zM174 460h16v4h-16zM1082 460h4v4h-4zM174 464h12v4h-12zM1074 464h4v4h-4zM174 468h4v4h-4zM1046 468h24v4h-24zM1038 472h8v4h-8zM1022 476h16v4h-16zM1018 480h4v4h-4zM1014 484h8v4h-8zM1206 484h4v4h-4zM1014 488h8v4h-8zM1014 492h4v4h-4zM1186 492h4v4h-4zM1014 496h4v4h-4zM1010 500h4v4h-4zM1006 504h8v4h-8zM1002 508h8v4h-8zM1002 512h4v4h-4zM1154 512h4v4h-4zM994 516h12v4h-12zM1150 516h4v4h-4zM990 520h12v4h-12zM1114 520h12v4h-12zM1142 520h8v4h-8zM990 524h8v4h-8zM1102 524h8v4h-8zM994 528h4v4h-4zM1086 528h8v4h-8zM998 532h8v4h-8zM1078 532h8v4h-8zM1006 536h8v4h-8zM1066 536h12v4h-12zM1014 540h8v4h-8zM1042 540h20v4h-20zM174 656h4v4h-4zM174 660h8v4h-8zM178 664h8v4h-8zM178 668h8v4h-8zM178 672h8v4h-8zM182 676h8v4h-8zM186 680h8v4h-8z"/>
<path fill="#ff8800" d="M954 284h4v4h-4zM1038 284h16v4h-16zM950 288h4v4h-4zM982 288h4v4h-4zM1046 288h4v4h-4zM946 292h8v4h-8zM942 296h8v4h-8zM986 296h4v4h-4zM910 300h8v4h-8zM942 300h8v4h-8zM986 300h4v4h-4zM906 304h12v4h-12zM946 304h4v4h-4zM986 304h4v4h-4zM906 308h12v4h-12zM946 308h8v4h-8zM986 308h4v4h-4zM1038 308h8v4h-8zM902 312h16v4h-16zM946 312h8v4h-8zM986 312h4v4h-4zM1034 312h16v4h-16zM902 316h12v4h-12zM930 316h20v4h-20zM986 316h4v4h-4zM1034 316h20v4h-20zM874 320h4v4h-4zM882 320h28v4h-28zM934 320h12v4h-12zM986 320h4v4h-4zM1030 320h24v4h-24zM870 324h4v4h-4zM894 324h12v4h-12zM934 324h12v4h-12zM1030 324h24v4h-24zM866 328h4v4h-4zM894 328h8v4h-8zM938 328h8v4h-8zM986 328h4v4h-4zM1034 328h20v4h-20zM862 332h4v4h-4zM894 332h8v4h-8zM938 332h8v4h-8zM1034 332h8v4h-8zM1046 332h8v4h-8zM862 336h4v4h-4zM894 336h4v4h-4zM938 336h8v4h-8zM1034 336h8v4h-8zM1046 336h8v4h-8zM890 340h4v4h-4zM938 340h8v4h-8zM1034 340h16v4h-16zM890 344h4v4h-4zM938 344h8v4h-8zM986 344h4v4h-4zM1034 344h16v4h-16zM862 348h4v4h-4zM886 348h4v4h-4zM934 348h12v4h-12zM978 348h8v4h-8zM1038 348h8v4h-8zM882 352h4v4h-4zM922 352h16v4h-16zM946 352h8v4h-8zM970 352h8v4h-8zM870 356h12v4h-12zM922 356h12v4h-12zM942 356h28v4h-28zM922 360h24v4h-24zM926 364h16v4h-16zM1154 400h4v4h-4zM1174 400h4v4h-4zM1150 404h4v4h-4zM1146 408h4v4h-4zM1142 412h4v4h-4zM1142 416h4v4h-4zM1138 420h4v4h-4zM1198 420h4v4h-4zM1206 424h4v4h-4zM1114 428h4v4h-4zM1102 432h4v4h-4zM1214 432h4v4h-4zM1094 440h4v4h-4zM1214 440h4v4h-4zM1090 448h4v4h-4zM1090 452h4v4h-4zM1210 452h4v4h-4zM1086 460h4v4h-4zM1078 464h8v4h-8zM1070 468h8v4h-8zM1046 472h20v4h-20zM1038 476h8v4h-8zM1022 480h16v4h-16zM1022 484h4v4h-4zM1022 488h4v4h-4zM1198 488h4v4h-4zM1018 492h8v4h-8zM1178 492h8v4h-8zM1018 496h4v4h-4zM1170 496h4v4h-4zM1014 500h8v4h-8zM1162 500h4v4h-4zM1014 504h4v4h-4zM1158 504h4v4h-4zM1010 508h4v4h-4zM1006 512h4v4h-4zM1006 516h4v4h-4zM1146 516h4v4h-4zM1002 520h8v4h-8zM1106 520h8v4h-8zM1126 520h16v4h-16zM998 524h12v4h-12zM1090 524h12v4h-12zM998 528h16v4h-16zM1082 528h4v4h-4zM1006 532h8v4h-8zM1074 532h4v4h-4zM1014 536h8v4h-8zM1046 536h20v4h-20zM1022 540h20v4h-20zM174 664h4v4h-4zM174 668h4v4h-4zM174 672h4v4h-4zM174 676h8v4h-8zM178 680h8v4h-8z"/>
<path fill="#ff7f00" d="M958 284h4v4h-4zM982 284h4v4h-4zM954 288h8v4h-8zM954 292h4v4h-4zM982 292h4v4h-4zM950 296h4v4h-4zM982 296h4v4h-4zM950 300h4v4h-4zM982 300h4v4h-4zM950 304h8v4h-8zM982 304h4v4h-4zM954 308h4v4h-4zM954 312h4v4h-4zM950 316h8v4h-8zM878 320h4v4h-4zM946 320h8v4h-8zM982 320h4v4h-4zM874 324h4v4h-4zM882 324h12v4h-12zM946 324h4v4h-4zM982 324h4v4h-4zM870 328h4v4h-4zM890 328h4v4h-4zM946 328h4v4h-4zM866 332h4v4h-4zM890 332h4v4h-4zM946 332h4v4h-4zM1042 332h4v4h-4zM890 336h4v4h-4zM946 336h8v4h-8zM990 336h4v4h-4zM1042 336h4v4h-4zM862 340h4v4h-4zM886 340h4v4h-4zM946 340h12v4h-12zM990 340h4v4h-4zM862 344h4v4h-4zM886 344h4v4h-4zM946 344h12v4h-12zM982 344h4v4h-4zM882 348h4v4h-4zM946 348h16v4h-16zM970 348h8v4h-8zM866 352h4v4h-4zM878 352h4v4h-4zM938 352h8v4h-8zM954 352h16v4h-16zM934 356h8v4h-8zM1158 400h8v4h-8zM1170 400h4v4h-4zM1154 404h4v4h-4zM1178 404h4v4h-4zM1150 408h4v4h-4zM1182 408h4v4h-4zM1146 412h4v4h-4zM1186 412h4v4h-4zM1146 416h4v4h-4zM1190 416h4v4h-4zM1142 420h4v4h-4zM1130 424h8v4h-8zM1118 428h8v4h-8zM1210 428h4v4h-4zM1106 432h8v4h-8zM1098 436h8v4h-8zM1214 436h4v4h-4zM1098 440h4v4h-4zM1094 444h4v4h-4zM1210 448h4v4h-4zM1090 456h4v4h-4zM1090 460h4v4h-4zM1086 464h8v4h-8zM1078 468h12v4h-12zM1066 472h12v4h-12zM1046 476h24v4h-24zM1038 480h12v4h-12zM1206 480h4v4h-4zM1026 484h16v4h-16zM1026 488h12v4h-12zM1026 492h8v4h-8zM1174 492h4v4h-4zM1022 496h8v4h-8zM1038 496h8v4h-8zM1166 496h4v4h-4zM1022 500h4v4h-4zM1038 500h16v4h-16zM1018 504h4v4h-4zM1042 504h16v4h-16zM1014 508h8v4h-8zM1042 508h24v4h-24zM1154 508h4v4h-4zM1010 512h12v4h-12zM1046 512h16v4h-16zM1150 512h4v4h-4zM1010 516h16v4h-16zM1050 516h8v4h-8zM1106 516h20v4h-20zM1142 516h4v4h-4zM1010 520h20v4h-20zM1078 520h12v4h-12zM1094 520h12v4h-12zM1010 524h16v4h-16zM1074 524h16v4h-16zM1014 528h12v4h-12zM1050 528h32v4h-32zM1014 532h12v4h-12zM1038 532h36v4h-36zM1022 536h24v4h-24zM174 680h4v4h-4z"/>
<path fill="#ff7600" d="M962 284h8v4h-8zM974 284h8v4h-8zM962 288h20v4h-20zM958 292h24v4h-24zM954 296h28v4h-28zM954 300h16v4h-16zM978 300h4v4h-4zM958 304h12v4h-12zM978 304h4v4h-4zM958 308h12v4h-12zM978 308h8v4h-8zM958 312h8v4h-8zM982 312h4v4h-4zM958 316h8v4h-8zM982 316h4v4h-4zM954 320h4v4h-4zM878 324h4v4h-4zM950 324h4v4h-4zM874 328h16v4h-16zM950 328h4v4h-4zM982 328h4v4h-4zM870 332h20v4h-20zM950 332h4v4h-4zM986 332h4v4h-4zM866 336h4v4h-4zM882 336h8v4h-8zM954 336h4v4h-4zM866 340h4v4h-4zM882 340h4v4h-4zM958 340h4v4h-4zM866 344h4v4h-4zM882 344h4v4h-4zM958 344h24v4h-24zM866 348h4v4h-4zM878 348h4v4h-4zM962 348h8v4h-8zM870 352h8v4h-8zM1166 400h4v4h-4zM1158 404h4v4h-4zM1174 404h4v4h-4zM1154 408h4v4h-4zM1150 412h4v4h-4zM1150 416h4v4h-4zM1186 416h4v4h-4zM1146 420h4v4h-4zM1194 420h4v4h-4zM1138 424h8v4h-8zM1202 424h4v4h-4zM1126 428h8v4h-8zM1206 428h4v4h-4zM1114 432h4v4h-4zM1210 432h4v4h-4zM1106 436h4v4h-4zM1102 440h4v4h-4zM1210 440h4v4h-4zM1098 444h4v4h-4zM1210 444h4v4h-4zM1094 448h4v4h-4zM1094 452h4v4h-4zM1206 452h4v4h-4zM1094 456h4v4h-4zM1206 456h4v4h-4zM1094 460h4v4h-4zM1206 460h4v4h-4zM1094 464h4v4h-4zM1206 464h4v4h-4zM1090 468h4v4h-4zM1206 468h4v4h-4zM1078 472h16v4h-16zM1070 476h12v4h-12zM1206 476h4v4h-4zM1050 480h24v4h-24zM1042 484h12v4h-12zM1066 484h4v4h-4zM1202 484h4v4h-4zM1038 488h12v4h-12zM1194 488h4v4h-4zM1034 492h16v4h-16zM1170 492h4v4h-4zM1030 496h8v4h-8zM1046 496h12v4h-12zM1162 496h4v4h-4zM1026 500h12v4h-12zM1054 500h20v4h-20zM1158 500h4v4h-4zM1022 504h20v4h-20zM1058 504h20v4h-20zM1154 504h4v4h-4zM1022 508h20v4h-20zM1066 508h12v4h-12zM1150 508h4v4h-4zM1022 512h24v4h-24zM1062 512h24v4h-24zM1102 512h16v4h-16zM1146 512h4v4h-4zM1026 516h24v4h-24zM1058 516h48v4h-48zM1126 516h16v4h-16zM1030 520h48v4h-48zM1090 520h4v4h-4zM1026 524h48v4h-48zM1026 528h24v4h-24zM1026 532h12v4h-12z"/>
<path fill="#ff6d00" d="M970 284h4v4h-4zM970 300h8v4h-8zM970 304h8v4h-8zM970 308h8v4h-8zM966 312h16v4h-16zM966 316h16v4h-16zM958 320h24v4h-24zM954 324h12v4h-12zM974 324h8v4h-8zM954 328h4v4h-4zM978 328h4v4h-4zM954 332h4v4h-4zM982 332h4v4h-4zM870 336h12v4h-12zM958 336h4v4h-4zM986 336h4v4h-4zM870 340h12v4h-12zM962 340h12v4h-12zM982 340h8v4h-8zM870 344h12v4h-12zM870 348h8v4h-8zM1162 404h12v4h-12zM1158 408h4v4h-4zM1178 408h4v4h-4zM1154 412h4v4h-4zM1182 412h4v4h-4zM1150 420h4v4h-4zM1186 420h8v4h-8zM1146 424h4v4h-4zM1194 424h8v4h-8zM1134 428h8v4h-8zM1202 428h4v4h-4zM1118 432h8v4h-8zM1110 436h8v4h-8zM1210 436h4v4h-4zM1106 440h8v4h-8zM1102 444h8v4h-8zM1098 448h8v4h-8zM1206 448h4v4h-4zM1098 452h4v4h-4zM1098 456h4v4h-4zM1202 456h4v4h-4zM1098 460h4v4h-4zM1202 460h4v4h-4zM1094 468h4v4h-4zM1094 472h4v4h-4zM1206 472h4v4h-4zM1082 476h12v4h-12zM1074 480h12v4h-12zM1054 484h12v4h-12zM1070 484h8v4h-8zM1050 488h28v4h-28zM1174 488h20v4h-20zM1050 492h28v4h-28zM1166 492h4v4h-4zM1058 496h20v4h-20zM1074 500h4v4h-4zM1078 504h4v4h-4zM1078 508h8v4h-8zM1102 508h16v4h-16zM1086 512h16v4h-16zM1118 512h16v4h-16zM1142 512h4v4h-4z"/>
<path fill="#ff6400" d="M966 324h8v4h-8zM958 328h20v4h-20zM958 332h24v4h-24zM962 336h24v4h-24zM974 340h8v4h-8zM1162 408h16v4h-16zM1158 412h4v4h-4zM1178 412h4v4h-4zM1154 416h4v4h-4zM1182 416h4v4h-4zM1154 420h4v4h-4zM1182 420h4v4h-4zM1150 424h4v4h-4zM1186 424h8v4h-8zM1142 428h8v4h-8zM1198 428h4v4h-4zM1126 432h16v4h-16zM1206 432h4v4h-4zM1118 436h8v4h-8zM1206 436h4v4h-4zM1114 440h4v4h-4zM1206 440h4v4h-4zM1110 444h8v4h-8zM1206 444h4v4h-4zM1106 448h8v4h-8zM1182 448h8v4h-8zM1202 448h4v4h-4zM1102 452h8v4h-8zM1182 452h8v4h-8zM1202 452h4v4h-4zM1102 456h4v4h-4zM1198 456h4v4h-4zM1102 460h4v4h-4zM1098 464h4v4h-4zM1202 464h4v4h-4zM1098 468h4v4h-4zM1202 468h4v4h-4zM1098 472h4v4h-4zM1094 476h4v4h-4zM1086 480h12v4h-12zM1202 480h4v4h-4zM1078 484h16v4h-16zM1198 484h4v4h-4zM1078 488h8v4h-8zM1170 488h4v4h-4zM1078 492h8v4h-8zM1162 492h4v4h-4zM1078 496h8v4h-8zM1158 496h4v4h-4zM1078 500h8v4h-8zM1154 500h4v4h-4zM1082 504h8v4h-8zM1094 504h24v4h-24zM1150 504h4v4h-4zM1086 508h16v4h-16zM1118 508h16v4h-16zM1142 508h8v4h-8zM1134 512h8v4h-8z"/>
<path fill="#ff5b00" d="M1162 412h16v4h-16zM1158 416h8v4h-8zM1174 416h8v4h-8zM1158 420h4v4h-4zM1174 420h8v4h-8zM1154 424h8v4h-8zM1170 424h16v4h-16zM1150 428h48v4h-48zM1142 432h12v4h-12zM1158 432h48v4h-48zM1126 436h20v4h-20zM1158 436h36v4h-36zM1202 436h4v4h-4zM1118 440h8v4h-8zM1162 440h32v4h-32zM1202 440h4v4h-4zM1118 444h4v4h-4zM1162 444h44v4h-44zM1114 448h8v4h-8zM1162 448h20v4h-20zM1190 448h12v4h-12zM1110 452h8v4h-8zM1162 452h20v4h-20zM1190 452h12v4h-12zM1106 456h8v4h-8zM1162 456h36v4h-36zM1106 460h4v4h-4zM1162 460h24v4h-24zM1194 460h8v4h-8zM1102 464h8v4h-8zM1166 464h8v4h-8zM1198 464h4v4h-4zM1102 468h4v4h-4zM1102 472h4v4h-4zM1202 472h4v4h-4zM1098 476h8v4h-8zM1202 476h4v4h-4zM1098 480h4v4h-4zM1198 480h4v4h-4zM1094 484h4v4h-4zM1170 484h28v4h-28zM1086 488h12v4h-12zM1162 488h8v4h-8zM1086 492h12v4h-12zM1158 492h4v4h-4zM1086 496h28v4h-28zM1154 496h4v4h-4zM1086 500h36v4h-36zM1150 500h4v4h-4zM1090 504h4v4h-4zM1118 504h16v4h-16zM1142 504h8v4h-8zM1134 508h8v4h-8z"/>
<path fill="#ff5200" d="M1166 416h8v4h-8zM1162 420h12v4h-12zM1162 424h8v4h-8zM1154 432h4v4h-4zM1146 436h12v4h-12zM1194 436h8v4h-8zM1126 440h36v4h-36zM1194 440h8v4h-8zM1122 444h12v4h-12zM1154 444h8v4h-8zM1122 448h4v4h-4zM1154 448h8v4h-8zM1118 452h4v4h-4zM1154 452h8v4h-8zM1114 456h8v4h-8zM1154 456h8v4h-8zM1110 460h8v4h-8zM1158 460h4v4h-4zM1186 460h8v4h-8zM1110 464h4v4h-4zM1158 464h8v4h-8zM1174 464h12v4h-12zM1194 464h4v4h-4zM1106 468h8v4h-8zM1162 468h16v4h-16zM1198 468h4v4h-4zM1106 472h4v4h-4zM1166 472h8v4h-8zM1198 472h4v4h-4zM1106 476h8v4h-8zM1166 476h8v4h-8zM1198 476h4v4h-4zM1102 480h16v4h-16zM1166 480h16v4h-16zM1194 480h4v4h-4zM1098 484h20v4h-20zM1162 484h8v4h-8zM1098 488h20v4h-20zM1158 488h4v4h-4zM1098 492h24v4h-24zM1154 492h4v4h-4zM1114 496h12v4h-12zM1150 496h4v4h-4zM1122 500h28v4h-28zM1134 504h8v4h-8z"/>
<path fill="#ff4900" d="M1134 444h20v4h-20zM1126 448h28v4h-28zM1122 452h8v4h-8zM1138 452h16v4h-16zM1122 456h4v4h-4zM1138 456h16v4h-16zM1118 460h8v4h-8zM1138 460h20v4h-20zM1114 464h12v4h-12zM1138 464h20v4h-20zM1186 464h8v4h-8zM1114 468h12v4h-12zM1142 468h8v4h-8zM1154 468h8v4h-8zM1178 468h4v4h-4zM1194 468h4v4h-4zM1110 472h12v4h-12zM1158 472h8v4h-8zM1174 472h8v4h-8zM1194 472h4v4h-4zM1114 476h8v4h-8zM1158 476h8v4h-8zM1174 476h8v4h-8zM1194 476h4v4h-4zM1118 480h4v4h-4zM1158 480h8v4h-8zM1182 480h12v4h-12zM1118 484h4v4h-4zM1154 484h8v4h-8zM1118 488h8v4h-8zM1154 488h4v4h-4zM1122 492h8v4h-8zM1150 492h4v4h-4zM1126 496h24v4h-24z"/>
<path fill="#ff4000" d="M1130 452h8v4h-8zM1126 456h12v4h-12zM1126 460h12v4h-12zM1126 464h12v4h-12zM1126 468h16v4h-16zM1150 468h4v4h-4zM1182 468h12v4h-12zM1122 472h36v4h-36zM1182 472h12v4h-12zM1122 476h12v4h-12zM1142 476h16v4h-16zM1182 476h12v4h-12zM1122 480h8v4h-8zM1150 480h8v4h-8zM1122 484h8v4h-8zM1150 484h4v4h-4zM1126 488h8v4h-8zM1146 488h8v4h-8zM1130 492h20v4h-20z"/>
<path fill="#ff3700" d="M1134 476h8v4h-8zM1130 480h20v4h-20zM1130 484h20v4h-20zM1134 488h12v4h-12z"/></g>
<path fill="#fff" d="M894.8 287.5H1105.0V291.4H894.8zM902.3 291.4H1105.0V295.3H902.3zM906.1 295.3H1105.0V299.1H906.1zM913.6 299.1H1105.0V303.0H913.6zM924.8 303.0H1105.0V306.9H924.8zM932.3 306.9H1101.3V310.7H932.3zM943.6 310.7H1101.3V314.6H943.6zM954.9 314.6H999.9V318.5H954.9zM1007.4 314.6H1097.5V318.5H1007.4zM1131.3 314.6H1142.5V318.5H1131.3zM1146.3 314.6H1157.6V318.5H1146.3zM969.9 318.5H992.4V322.3H969.9zM1018.7 318.5H1168.8V322.3H1018.7zM1022.4 322.3H1172.6V326.2H1022.4zM1026.2 326.2H1180.1V330.1H1026.2zM1033.7 330.1H1180.1V333.9H1033.7zM1037.4 333.9H1180.1V337.7H1037.4zM1041.2 337.7H1180.1V341.5H1041.2zM1045.0 341.5H1180.1V345.4H1045.0zM1052.5 345.4H1180.1V349.2H1052.5zM1067.5 349.2H1176.3V353.0H1067.5zM1075.0 353.0H1176.3V356.8H1075.0zM1086.2 356.8H1176.3V360.6H1086.2zM1112.5 360.6H1176.3V364.4H1112.5zM1112.5 364.4H1176.3V368.2H1112.5zM1116.3 368.2H1176.3V372.1H1116.3zM1120.0 372.1H1176.3V375.9H1120.0zM1120.0 375.9H1172.6V379.7H1120.0zM1123.8 379.7H1172.6V383.5H1123.8zM1131.3 383.5H1172.6V387.3H1131.3zM1135.0 387.3H1172.6V391.1H1135.0zM1138.8 391.1H1172.6V394.9H1138.8zM1138.8 394.9H1176.3V398.8H1138.8zM1138.8 398.8H1180.1V402.6H1138.8zM1138.8 402.6H1180.1V406.4H1138.8zM1138.8 406.4H1183.8V410.2H1138.8zM1142.5 410.2H1191.3V414.0H1142.5zM1157.6 414.0H1195.1V417.8H1157.6zM1165.1 417.8H1195.1V421.5H1165.1zM1225.1 417.8H1228.9V421.5H1225.1zM1168.8 421.5H1206.4V425.3H1168.8zM1210.1 421.5H1228.9V425.3H1210.1zM1168.8 425.3H1228.9V429.1H1168.8zM1168.8 429.1H1228.9V432.9H1168.8zM1176.3 432.9H1228.9V436.6H1176.3zM1198.8 436.6H1228.9V440.4H1198.8zM1202.6 440.4H1228.9V444.2H1202.6zM1210.1 444.2H1228.9V448.0H1210.1zM1210.1 448.0H1221.4V451.8H1210.1zM1221.4 557.0H1228.9V560.8H1221.4zM1217.6 560.8H1228.9V564.5H1217.6zM1217.6 564.5H1228.9V568.3H1217.6zM1213.9 568.3H1228.9V572.0H1213.9zM1213.9 572.0H1228.9V575.8H1213.9zM1213.9 575.8H1228.9V579.6H1213.9zM1213.9 579.6H1228.9V583.3H1213.9zM1213.9 583.3H1228.9V587.1H1213.9zM1213.9 587.1H1228.9V590.8H1213.9zM1213.9 590.8H1228.9V594.6H1213.9zM1213.9 594.6H1228.9V598.3H1213.9zM1217.6 598.3H1228.9V602.1H1217.6zM1221.4 602.1H1228.9V605.8H1221.4zM1225.1 605.8H1228.9V609.6H1225.1zM1217.6 609.6H1228.9V613.3H1217.6zM1213.9 613.3H1228.9V617.1H1213.9zM1206.4 617.1H1228.9V620.9H1206.4zM1206.4 620.9H1228.9V624.6H1206.4zM1206.4 624.6H1228.9V628.4H1206.4zM1206.4 628.4H1228.9V632.1H1206.4zM1206.4 632.1H1228.9V635.9H1206.4zM1206.4 635.9H1228.9V639.6H1206.4zM1210.1 639.6H1228.9V643.4H1210.1zM1210.1 643.4H1228.9V647.1H1210.1zM1210.1 647.1H1228.9V650.9H1210.1zM1210.1 650.9H1228.9V654.6H1210.1zM1217.6 654.6H1228.9V658.4H1217.6zM1221.4 658.4H1228.9V662.1H1221.4z"/>
<rect x="1052.8" y="568.4" width="11.2" height="7.4" fill="#fff"/>
<g fill="#808080" stroke="#000" stroke-width="1.1" stroke-linejoin="round">
<polygon points="894,278 898.8,288.1 910.6,297.3 921,301 932.8,306.1 941.6,308.3 956.4,315 966.7,316.7 982.9,321.6 999.1,313.5 1008,314 1016.8,316.7 1024.2,320.9 1034.5,330.5 1044.9,340.8 1052.2,345.2 1061.1,348.2 1069.2,348.6 1076.6,351.8 1081.9,355.7 1086.7,355.7 1092.7,359.3 1109.4,359.9 1111.8,356.3 1116,362.3 1112.4,362.9 1114.1,364.2 1121.4,373.6 1129.8,382 1140.3,389.8 1141.3,399.8 1139.7,402.9 1141.3,408.2 1146.5,410.3 1149.7,412.1 1154.4,408.4 1158.1,413.4 1165.4,417.6 1171.2,422.3 1170.6,426 1172.2,430.2 1177.4,431.7 1182.1,435.4 1186.3,433.3 1194.7,434.9 1199.9,437 1205.2,441.7 1212,442.7 1213.6,450 1225,446.4 1234,443.5 1234,419.5 1225,421.8 1205.7,427 1201,423.4 1194.7,422.8 1192.1,416.5 1186.3,412.9 1181.1,408.2 1176.9,402.4 1172.7,395.6 1169.8,388.3 1171.9,382 1172.2,373.6 1173.9,367.6 1175.1,349.1 1178.5,342.5 1178.1,331.8 1175.1,328.8 1169.2,325.8 1163.2,320.4 1152.4,317.8 1144.1,319 1136.9,317.8 1129.7,319.8 1121.4,321 1112.4,319.2 1104.6,322.8 1092.7,316.3 1099.9,310.9 1103.2,300.7 1103.8,287.8 1104,278"/>
<polygon points="1234,558 1224.8,560.6 1220,563 1218.2,571.4 1213.4,573.8 1215.8,584 1215.2,590 1213.4,593.6 1220,598.4 1224.8,603.8 1234,610"/>
<polygon points="1234,606 1224.8,610.4 1217.6,614.6 1211.6,618.8 1206.8,623.6 1206.8,629.6 1209.2,636.8 1214,643.4 1209.8,648.8 1216.4,653.6 1224.8,658.4 1234,663"/>
<polygon points="1055.4,557.2 1064.4,570 1059.4,575 1054.6,572.6 1058.6,569 1054.6,565.4"/>
</g>
<polygon points="1234,431 1225,433.8 1219.8,435.9 1221.4,441.2 1225,443.8 1234,446" fill="#fff" stroke="#000" stroke-width="1.1"/>
<g stroke="#000" stroke-width="1.25" stroke-dasharray="1 3" fill="none"><line x1="401.5" y1="290" x2="401.5" y2="677" />
<line x1="626.5" y1="290" x2="626.5" y2="677" />
<line x1="851.5" y1="290" x2="851.5" y2="677" />
<line x1="1076.5" y1="290" x2="1076.5" y2="677" />
<line x1="176" y1="332" x2="1225" y2="332" />
<line x1="176" y1="408.3" x2="1225" y2="408.3" />
<line x1="176" y1="483.9" x2="1225" y2="483.9" />
<line x1="176" y1="558.9" x2="1225" y2="558.9" />
<line x1="176" y1="634" x2="1225" y2="634" /></g>
</g>
<g stroke="#000" stroke-width="4.2" fill="none"><line x1="401.214" y1="286" x2="401.214" y2="295.9"/>
<line x1="401.214" y1="668.9" x2="401.214" y2="679"/>
<line x1="626.429" y1="286" x2="626.429" y2="295.9"/>
<line x1="626.429" y1="668.9" x2="626.429" y2="679"/>
<line x1="851.643" y1="286" x2="851.643" y2="295.9"/>
<line x1="851.643" y1="668.9" x2="851.643" y2="679"/>
<line x1="1076.86" y1="286" x2="1076.86" y2="295.9"/>
<line x1="1076.86" y1="668.9" x2="1076.86" y2="679"/>
<line x1="176" y1="332" x2="186.1" y2="332"/>
<line x1="1216.4" y1="332" x2="1227" y2="332"/>
<line x1="176" y1="408.3" x2="186.1" y2="408.3"/>
<line x1="1216.4" y1="408.3" x2="1227" y2="408.3"/>
<line x1="176" y1="483.9" x2="186.1" y2="483.9"/>
<line x1="1216.4" y1="483.9" x2="1227" y2="483.9"/>
<line x1="176" y1="558.9" x2="186.1" y2="558.9"/>
<line x1="1216.4" y1="558.9" x2="1227" y2="558.9"/>
<line x1="176" y1="634" x2="186.1" y2="634"/>
<line x1="1216.4" y1="634" x2="1227" y2="634"/></g>
<rect x="175.9" y="285.6" width="1051.1" height="393.45" fill="none" stroke="#000" stroke-width="4.1" stroke-linejoin="round"/>
<text class="ax" x="171.3" y="340.8" text-anchor="end" letter-spacing="0.45">15<tspan class="sup" dy="-8.1">o</tspan><tspan dy="8.1">N</tspan></text>
<text class="ax" x="171.3" y="417.1" text-anchor="end" letter-spacing="0.45">10<tspan class="sup" dy="-8.1">o</tspan><tspan dy="8.1">N</tspan></text>
<text class="ax" x="171.3" y="492.7" text-anchor="end" letter-spacing="0.45">5<tspan class="sup" dy="-8.1">o</tspan><tspan dy="8.1">N</tspan></text>
<text class="ax" x="165.6" y="567.7" text-anchor="end" letter-spacing="0.45">0<tspan class="sup" dy="-8.1">o</tspan><tspan dy="8.1"></tspan></text>
<text class="ax" x="171" y="642.8" text-anchor="end" letter-spacing="0.45">5<tspan class="sup" dy="-8.1">o</tspan><tspan dy="8.1">S</tspan></text>
<text class="ax" x="176.5" y="701.2" text-anchor="middle">150<tspan class="sup" dy="-8.1">o</tspan><tspan dy="8.1">W</tspan></text>
<text class="ax" x="401.714" y="701.2" text-anchor="middle">135<tspan class="sup" dy="-8.1">o</tspan><tspan dy="8.1">W</tspan></text>
<text class="ax" x="626.929" y="701.2" text-anchor="middle">120<tspan class="sup" dy="-8.1">o</tspan><tspan dy="8.1">W</tspan></text>
<text class="ax" x="852.143" y="701.2" text-anchor="middle">105<tspan class="sup" dy="-8.1">o</tspan><tspan dy="8.1">W</tspan></text>
<text class="ax" x="1077.36" y="701.2" text-anchor="middle">90<tspan class="sup" dy="-8.1">o</tspan><tspan dy="8.1">W</tspan></text>
<g shape-rendering="crispEdges"><rect x="174.5" y="711.5" width="9.6" height="19" fill="#b186cc"/>
<rect x="184" y="711.5" width="10.6" height="19" fill="#a776c4"/>
<rect x="194.5" y="711.5" width="10.6" height="19" fill="#9c66bc"/>
<rect x="205" y="711.5" width="10.6" height="19" fill="#9256b3"/>
<rect x="215.5" y="711.5" width="10.6" height="19" fill="#8846ab"/>
<rect x="226" y="711.5" width="10.6" height="19" fill="#7d37a3"/>
<rect x="236.5" y="711.5" width="10.6" height="19" fill="#73279b"/>
<rect x="247" y="711.5" width="10.6" height="19" fill="#691793"/>
<rect x="257.5" y="711.5" width="10.6" height="19" fill="#5e078b"/>
<rect x="268" y="711.5" width="10.6" height="19" fill="#57008b"/>
<rect x="278.5" y="711.5" width="10.6" height="19" fill="#510093"/>
<rect x="289" y="711.5" width="10.6" height="19" fill="#4c009a"/>
<rect x="299.5" y="711.5" width="10.6" height="19" fill="#4600a1"/>
<rect x="310" y="711.5" width="10.6" height="19" fill="#4100a9"/>
<rect x="320.5" y="711.5" width="10.6" height="19" fill="#3b00b0"/>
<rect x="331" y="711.5" width="10.6" height="19" fill="#3600b8"/>
<rect x="341.5" y="711.5" width="10.6" height="19" fill="#3000bf"/>
<rect x="352" y="711.5" width="10.6" height="19" fill="#2a00c6"/>
<rect x="362.5" y="711.5" width="10.6" height="19" fill="#2500ce"/>
<rect x="373" y="711.5" width="10.6" height="19" fill="#1f00d5"/>
<rect x="383.5" y="711.5" width="10.6" height="19" fill="#1a00dd"/>
<rect x="394" y="711.5" width="10.6" height="19" fill="#1400e4"/>
<rect x="404.5" y="711.5" width="10.6" height="19" fill="#0f00eb"/>
<rect x="415" y="711.5" width="10.6" height="19" fill="#0900f3"/>
<rect x="425.5" y="711.5" width="10.6" height="19" fill="#0400fa"/>
<rect x="436" y="711.5" width="10.6" height="19" fill="#0104fa"/>
<rect x="446.5" y="711.5" width="10.6" height="19" fill="#020feb"/>
<rect x="457" y="711.5" width="10.6" height="19" fill="#031add"/>
<rect x="467.5" y="711.5" width="10.6" height="19" fill="#0525cf"/>
<rect x="478" y="711.5" width="10.6" height="19" fill="#0630c1"/>
<rect x="488.5" y="711.5" width="10.6" height="19" fill="#083bb2"/>
<rect x="499" y="711.5" width="10.6" height="19" fill="#0946a4"/>
<rect x="509.5" y="711.5" width="10.6" height="19" fill="#0b5196"/>
<rect x="520" y="711.5" width="10.6" height="19" fill="#0c5c88"/>
<rect x="530.5" y="711.5" width="10.6" height="19" fill="#0b6579"/>
<rect x="541" y="711.5" width="10.6" height="19" fill="#0b6f6b"/>
<rect x="551.5" y="711.5" width="10.6" height="19" fill="#0a785c"/>
<rect x="562" y="711.5" width="10.6" height="19" fill="#09824f"/>
<rect x="572.5" y="711.5" width="10.6" height="19" fill="#098a42"/>
<rect x="583" y="711.5" width="10.6" height="19" fill="#089435"/>
<rect x="593.5" y="711.5" width="10.6" height="19" fill="#079c28"/>
<rect x="604" y="711.5" width="10.6" height="19" fill="#06a61b"/>
<rect x="614.5" y="711.5" width="10.6" height="19" fill="#0dad13"/>
<rect x="625" y="711.5" width="10.6" height="19" fill="#1cb212"/>
<rect x="635.5" y="711.5" width="10.6" height="19" fill="#2bb711"/>
<rect x="646" y="711.5" width="10.6" height="19" fill="#39bc10"/>
<rect x="656.5" y="711.5" width="10.6" height="19" fill="#48c10f"/>
<rect x="667" y="711.5" width="10.6" height="19" fill="#57c60e"/>
<rect x="677.5" y="711.5" width="10.6" height="19" fill="#66cb0c"/>
<rect x="688" y="711.5" width="10.6" height="19" fill="#74d00b"/>
<rect x="698.5" y="711.5" width="10.6" height="19" fill="#83d50a"/>
<rect x="709" y="711.5" width="10.6" height="19" fill="#92da09"/>
<rect x="719.5" y="711.5" width="10.6" height="19" fill="#a0df08"/>
<rect x="730" y="711.5" width="10.6" height="19" fill="#afe406"/>
<rect x="740.5" y="711.5" width="10.6" height="19" fill="#bee905"/>
<rect x="751" y="711.5" width="10.6" height="19" fill="#cdee04"/>
<rect x="761.5" y="711.5" width="10.6" height="19" fill="#dbf303"/>
<rect x="772" y="711.5" width="10.6" height="19" fill="#eaf802"/>
<rect x="782.5" y="711.5" width="10.6" height="19" fill="#f9fd01"/>
<rect x="793" y="711.5" width="10.6" height="19" fill="#fffb00"/>
<rect x="803.5" y="711.5" width="10.6" height="19" fill="#fff500"/>
<rect x="814" y="711.5" width="10.6" height="19" fill="#ffef00"/>
<rect x="824.5" y="711.5" width="10.6" height="19" fill="#ffe900"/>
<rect x="835" y="711.5" width="10.6" height="19" fill="#ffe200"/>
<rect x="845.5" y="711.5" width="10.6" height="19" fill="#ffdc00"/>
<rect x="856" y="711.5" width="10.6" height="19" fill="#ffd600"/>
<rect x="866.5" y="711.5" width="10.6" height="19" fill="#ffd000"/>
<rect x="877" y="711.5" width="10.6" height="19" fill="#ffc900"/>
<rect x="887.5" y="711.5" width="10.6" height="19" fill="#ffc300"/>
<rect x="898" y="711.5" width="10.6" height="19" fill="#ffbd00"/>
<rect x="908.5" y="711.5" width="10.6" height="19" fill="#ffb700"/>
<rect x="919" y="711.5" width="10.6" height="19" fill="#ffb000"/>
<rect x="929.5" y="711.5" width="10.6" height="19" fill="#ffaa00"/>
<rect x="940" y="711.5" width="10.6" height="19" fill="#ffa300"/>
<rect x="950.5" y="711.5" width="10.6" height="19" fill="#ff9a00"/>
<rect x="961" y="711.5" width="10.6" height="19" fill="#ff9100"/>
<rect x="971.5" y="711.5" width="10.6" height="19" fill="#ff8800"/>
<rect x="982" y="711.5" width="10.6" height="19" fill="#ff7f00"/>
<rect x="992.5" y="711.5" width="10.6" height="19" fill="#ff7600"/>
<rect x="1003" y="711.5" width="10.6" height="19" fill="#ff6d00"/>
<rect x="1013.5" y="711.5" width="10.6" height="19" fill="#ff6400"/>
<rect x="1024" y="711.5" width="10.6" height="19" fill="#ff5b00"/>
<rect x="1034.5" y="711.5" width="10.6" height="19" fill="#ff5200"/>
<rect x="1045" y="711.5" width="10.6" height="19" fill="#ff4900"/>
<rect x="1055.5" y="711.5" width="10.6" height="19" fill="#ff4000"/>
<rect x="1066" y="711.5" width="10.6" height="19" fill="#ff3700"/>
<rect x="1076.5" y="711.5" width="10.6" height="19" fill="#ff2e00"/>
<rect x="1087" y="711.5" width="10.6" height="19" fill="#ff2500"/>
<rect x="1097.5" y="711.5" width="10.6" height="19" fill="#ff1c00"/>
<rect x="1108" y="711.5" width="10.6" height="19" fill="#ff1200"/>
<rect x="1118.5" y="711.5" width="10.6" height="19" fill="#ff0900"/>
<rect x="1129" y="711.5" width="10.6" height="19" fill="#ff0000"/>
<rect x="1139.5" y="711.5" width="10.6" height="19" fill="#f50000"/>
<rect x="1150" y="711.5" width="10.6" height="19" fill="#ea0000"/>
<rect x="1160.5" y="711.5" width="10.6" height="19" fill="#df0000"/>
<rect x="1171" y="711.5" width="10.6" height="19" fill="#d50000"/>
<rect x="1181.5" y="711.5" width="10.6" height="19" fill="#ca0000"/>
<rect x="1192" y="711.5" width="10.6" height="19" fill="#c00000"/>
<rect x="1202.5" y="711.5" width="10.6" height="19" fill="#b50000"/>
<rect x="1213" y="711.5" width="11.5" height="19" fill="#aa0000"/></g>
<g stroke="#262626" stroke-width="1" fill="none"><line x1="244.5" y1="720" x2="244.5" y2="730.5"/>
<line x1="384.5" y1="720" x2="384.5" y2="730.5"/>
<line x1="524.5" y1="720" x2="524.5" y2="730.5"/>
<line x1="664.5" y1="720" x2="664.5" y2="730.5"/>
<line x1="804.5" y1="720" x2="804.5" y2="730.5"/>
<line x1="944.5" y1="720" x2="944.5" y2="730.5"/>
<line x1="1084.5" y1="720" x2="1084.5" y2="730.5"/></g>
<rect x="174.5" y="711.5" width="1050" height="19" fill="none" stroke="#262626" stroke-width="1"/>
<text class="cb" x="244.5" y="754.8">18</text>
<text class="cb" x="384.5" y="754.8">20</text>
<text class="cb" x="524.5" y="754.8">22</text>
<text class="cb" x="664.5" y="754.8">24</text>
<text class="cb" x="804.5" y="754.8">26</text>
<text class="cb" x="944.5" y="754.8">28</text>
<text class="cb" x="1084.5" y="754.8">30</text>
<text class="cb" x="1224.5" y="754.8">32</text>
<text class="cb" x="699.8" y="778.6">°C</text>
</svg>
</body></html>
